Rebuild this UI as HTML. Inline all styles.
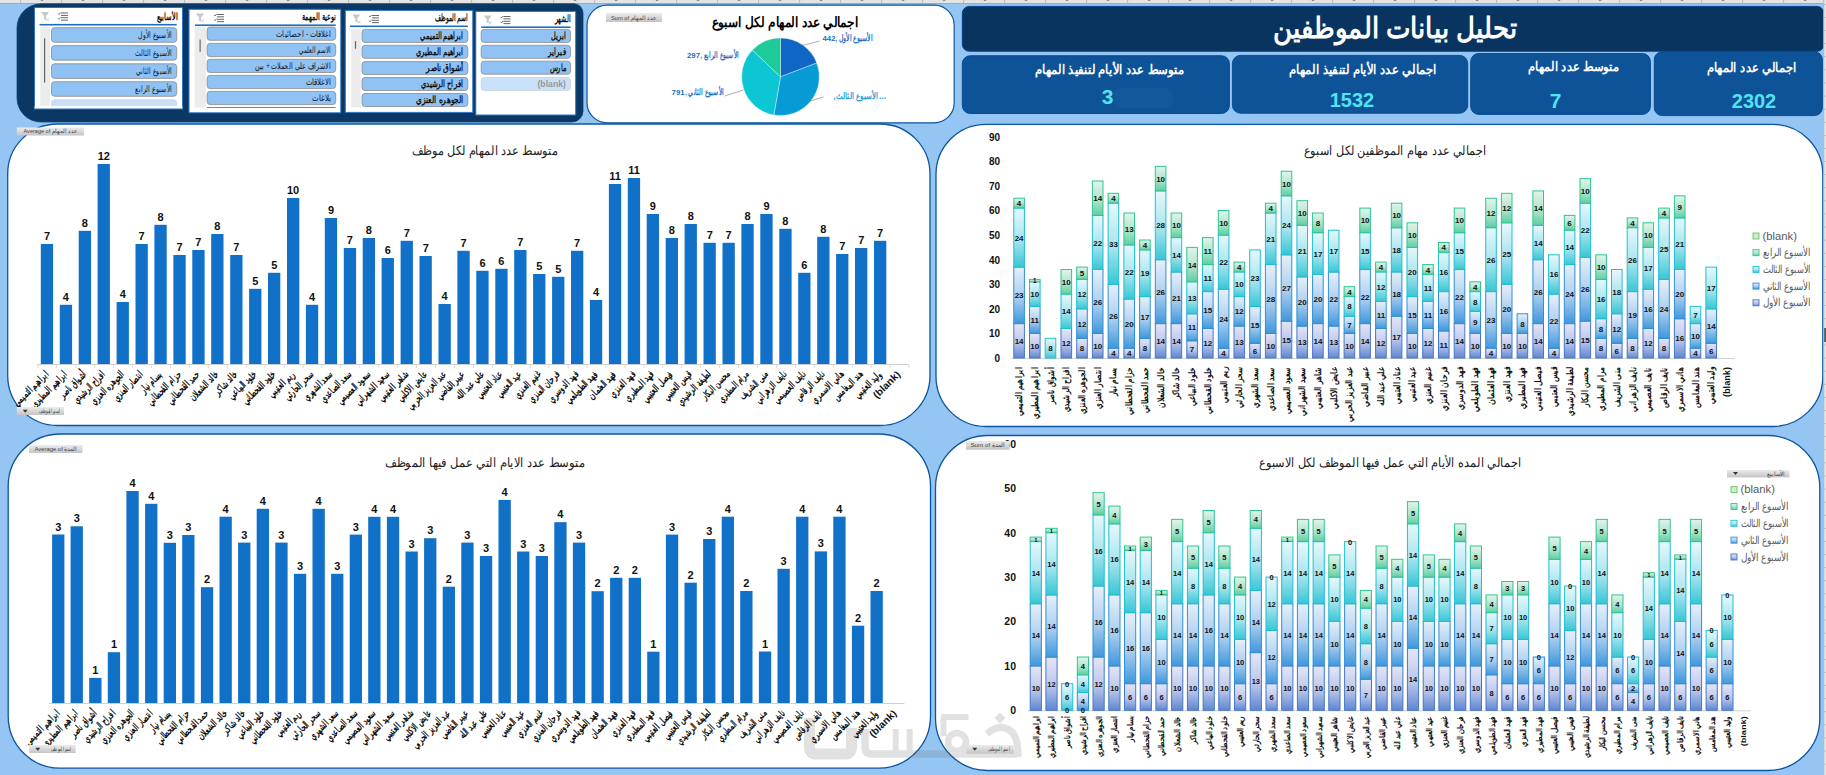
<!DOCTYPE html><html><head><meta charset="utf-8"><style>html,body{margin:0;padding:0;background:#95c5f2;overflow:hidden;width:1826px;height:775px} svg{display:block} text{font-family:"Liberation Sans",sans-serif}</style></head><body>
<svg width="1826" height="775" viewBox="0 0 1826 775">
<defs>
<linearGradient id="g1" x1="0" y1="0" x2="0" y2="1"><stop offset="0" stop-color="#e4e6f7"/><stop offset="0.55" stop-color="#b9c6ec"/><stop offset="1" stop-color="#5f86d0"/></linearGradient>
<linearGradient id="g2" x1="0" y1="0" x2="0" y2="1"><stop offset="0" stop-color="#e6f0fa"/><stop offset="0.55" stop-color="#a9cdef"/><stop offset="1" stop-color="#3f97dc"/></linearGradient>
<linearGradient id="g3" x1="0" y1="0" x2="0" y2="1"><stop offset="0" stop-color="#e6f8fb"/><stop offset="0.55" stop-color="#a6e4ee"/><stop offset="1" stop-color="#38c6d6"/></linearGradient>
<linearGradient id="g4" x1="0" y1="0" x2="0" y2="1"><stop offset="0" stop-color="#e0f5ea"/><stop offset="0.55" stop-color="#afe5cb"/><stop offset="1" stop-color="#5ccfa2"/></linearGradient>
<linearGradient id="btn" x1="0" y1="0" x2="0" y2="1"><stop offset="0" stop-color="#ececec"/><stop offset="1" stop-color="#c4c4c4"/></linearGradient>
</defs>
<rect x="0" y="0" width="1826" height="775" fill="#95c5f2"/>
<rect x="0" y="0" width="1826" height="3.5" fill="#e4e4e4"/><rect x="0" y="3" width="1826" height="1" fill="#a8a8a8"/>
<rect x="20.3" y="0" width="0.8" height="3.5" fill="#b0b0b0"/>
<rect x="40.8" y="0" width="2.5" height="1" fill="#555" opacity="0.6"/>
<rect x="61.3" y="0" width="0.8" height="3.5" fill="#b0b0b0"/>
<rect x="81.8" y="0" width="2.5" height="1" fill="#555" opacity="0.6"/>
<rect x="102.3" y="0" width="0.8" height="3.5" fill="#b0b0b0"/>
<rect x="122.8" y="0" width="2.5" height="1" fill="#555" opacity="0.6"/>
<rect x="143.3" y="0" width="0.8" height="3.5" fill="#b0b0b0"/>
<rect x="163.8" y="0" width="2.5" height="1" fill="#555" opacity="0.6"/>
<rect x="184.3" y="0" width="0.8" height="3.5" fill="#b0b0b0"/>
<rect x="204.8" y="0" width="2.5" height="1" fill="#555" opacity="0.6"/>
<rect x="225.3" y="0" width="0.8" height="3.5" fill="#b0b0b0"/>
<rect x="245.8" y="0" width="2.5" height="1" fill="#555" opacity="0.6"/>
<rect x="266.3" y="0" width="0.8" height="3.5" fill="#b0b0b0"/>
<rect x="286.8" y="0" width="2.5" height="1" fill="#555" opacity="0.6"/>
<rect x="307.3" y="0" width="0.8" height="3.5" fill="#b0b0b0"/>
<rect x="327.8" y="0" width="2.5" height="1" fill="#555" opacity="0.6"/>
<rect x="348.3" y="0" width="0.8" height="3.5" fill="#b0b0b0"/>
<rect x="368.8" y="0" width="2.5" height="1" fill="#555" opacity="0.6"/>
<rect x="389.3" y="0" width="0.8" height="3.5" fill="#b0b0b0"/>
<rect x="409.8" y="0" width="2.5" height="1" fill="#555" opacity="0.6"/>
<rect x="430.3" y="0" width="0.8" height="3.5" fill="#b0b0b0"/>
<rect x="450.8" y="0" width="2.5" height="1" fill="#555" opacity="0.6"/>
<rect x="471.3" y="0" width="0.8" height="3.5" fill="#b0b0b0"/>
<rect x="491.8" y="0" width="2.5" height="1" fill="#555" opacity="0.6"/>
<rect x="512.3" y="0" width="0.8" height="3.5" fill="#b0b0b0"/>
<rect x="532.8" y="0" width="2.5" height="1" fill="#555" opacity="0.6"/>
<rect x="553.3" y="0" width="0.8" height="3.5" fill="#b0b0b0"/>
<rect x="573.8" y="0" width="2.5" height="1" fill="#555" opacity="0.6"/>
<rect x="594.3" y="0" width="0.8" height="3.5" fill="#b0b0b0"/>
<rect x="614.8" y="0" width="2.5" height="1" fill="#555" opacity="0.6"/>
<rect x="635.3" y="0" width="0.8" height="3.5" fill="#b0b0b0"/>
<rect x="655.8" y="0" width="2.5" height="1" fill="#555" opacity="0.6"/>
<rect x="676.3" y="0" width="0.8" height="3.5" fill="#b0b0b0"/>
<rect x="696.8" y="0" width="2.5" height="1" fill="#555" opacity="0.6"/>
<rect x="717.3" y="0" width="0.8" height="3.5" fill="#b0b0b0"/>
<rect x="737.8" y="0" width="2.5" height="1" fill="#555" opacity="0.6"/>
<rect x="758.3" y="0" width="0.8" height="3.5" fill="#b0b0b0"/>
<rect x="778.8" y="0" width="2.5" height="1" fill="#555" opacity="0.6"/>
<rect x="799.3" y="0" width="0.8" height="3.5" fill="#b0b0b0"/>
<rect x="819.8" y="0" width="2.5" height="1" fill="#555" opacity="0.6"/>
<rect x="840.3" y="0" width="0.8" height="3.5" fill="#b0b0b0"/>
<rect x="860.8" y="0" width="2.5" height="1" fill="#555" opacity="0.6"/>
<rect x="881.3" y="0" width="0.8" height="3.5" fill="#b0b0b0"/>
<rect x="901.8" y="0" width="2.5" height="1" fill="#555" opacity="0.6"/>
<rect x="922.3" y="0" width="0.8" height="3.5" fill="#b0b0b0"/>
<rect x="942.8" y="0" width="2.5" height="1" fill="#555" opacity="0.6"/>
<rect x="963.3" y="0" width="0.8" height="3.5" fill="#b0b0b0"/>
<rect x="983.8" y="0" width="2.5" height="1" fill="#555" opacity="0.6"/>
<rect x="1004.3" y="0" width="0.8" height="3.5" fill="#b0b0b0"/>
<rect x="1024.8" y="0" width="2.5" height="1" fill="#555" opacity="0.6"/>
<rect x="1045.3" y="0" width="0.8" height="3.5" fill="#b0b0b0"/>
<rect x="1065.8" y="0" width="2.5" height="1" fill="#555" opacity="0.6"/>
<rect x="1086.3" y="0" width="0.8" height="3.5" fill="#b0b0b0"/>
<rect x="1106.8" y="0" width="2.5" height="1" fill="#555" opacity="0.6"/>
<rect x="1127.3" y="0" width="0.8" height="3.5" fill="#b0b0b0"/>
<rect x="1147.8" y="0" width="2.5" height="1" fill="#555" opacity="0.6"/>
<rect x="1168.3" y="0" width="0.8" height="3.5" fill="#b0b0b0"/>
<rect x="1188.8" y="0" width="2.5" height="1" fill="#555" opacity="0.6"/>
<rect x="1209.3" y="0" width="0.8" height="3.5" fill="#b0b0b0"/>
<rect x="1229.8" y="0" width="2.5" height="1" fill="#555" opacity="0.6"/>
<rect x="1250.3" y="0" width="0.8" height="3.5" fill="#b0b0b0"/>
<rect x="1270.8" y="0" width="2.5" height="1" fill="#555" opacity="0.6"/>
<rect x="1291.3" y="0" width="0.8" height="3.5" fill="#b0b0b0"/>
<rect x="1311.8" y="0" width="2.5" height="1" fill="#555" opacity="0.6"/>
<rect x="1332.3" y="0" width="0.8" height="3.5" fill="#b0b0b0"/>
<rect x="1352.8" y="0" width="2.5" height="1" fill="#555" opacity="0.6"/>
<rect x="1373.3" y="0" width="0.8" height="3.5" fill="#b0b0b0"/>
<rect x="1393.8" y="0" width="2.5" height="1" fill="#555" opacity="0.6"/>
<rect x="1414.3" y="0" width="0.8" height="3.5" fill="#b0b0b0"/>
<rect x="1434.8" y="0" width="2.5" height="1" fill="#555" opacity="0.6"/>
<rect x="1455.3" y="0" width="0.8" height="3.5" fill="#b0b0b0"/>
<rect x="1475.8" y="0" width="2.5" height="1" fill="#555" opacity="0.6"/>
<rect x="1496.3" y="0" width="0.8" height="3.5" fill="#b0b0b0"/>
<rect x="1516.8" y="0" width="2.5" height="1" fill="#555" opacity="0.6"/>
<rect x="1537.3" y="0" width="0.8" height="3.5" fill="#b0b0b0"/>
<rect x="1557.8" y="0" width="2.5" height="1" fill="#555" opacity="0.6"/>
<rect x="1578.3" y="0" width="0.8" height="3.5" fill="#b0b0b0"/>
<rect x="1598.8" y="0" width="2.5" height="1" fill="#555" opacity="0.6"/>
<rect x="1619.3" y="0" width="0.8" height="3.5" fill="#b0b0b0"/>
<rect x="1639.8" y="0" width="2.5" height="1" fill="#555" opacity="0.6"/>
<rect x="1660.3" y="0" width="0.8" height="3.5" fill="#b0b0b0"/>
<rect x="1680.8" y="0" width="2.5" height="1" fill="#555" opacity="0.6"/>
<rect x="1701.3" y="0" width="0.8" height="3.5" fill="#b0b0b0"/>
<rect x="1721.8" y="0" width="2.5" height="1" fill="#555" opacity="0.6"/>
<rect x="1742.3" y="0" width="0.8" height="3.5" fill="#b0b0b0"/>
<rect x="1762.8" y="0" width="2.5" height="1" fill="#555" opacity="0.6"/>
<rect x="1783.3" y="0" width="0.8" height="3.5" fill="#b0b0b0"/>
<rect x="1803.8" y="0" width="2.5" height="1" fill="#555" opacity="0.6"/>
<rect x="1824.3" y="0" width="0.8" height="3.5" fill="#b0b0b0"/>
<rect x="1844.8" y="0" width="2.5" height="1" fill="#555" opacity="0.6"/>
<path d="M41,3.8 L574,3.8 A9,9 0 0 1 583,12.8 L583,111 A11,11 0 0 1 572,122 L41,122 A24,24 0 0 1 17,98 L17,27.8 A24,24 0 0 1 41,3.8 Z" fill="#0a3764" stroke="#0c4580" stroke-width="0.8"/>
<clipPath id="cl1"><rect x="34" y="7" width="150" height="99"/></clipPath>
<g clip-path="url(#cl1)">
<rect x="34.5" y="7.5" width="148.0" height="101.5" fill="#fff" stroke="#2f74c0" stroke-width="1"/>
<text x="177.7" y="19.5" font-size="10" fill="#111" text-anchor="end" font-weight="bold" textLength="20.5" lengthAdjust="spacingAndGlyphs" >الأسابيع</text>
<rect x="39.5" y="23.9" width="137.2" height="1.6" fill="#1e6fc2"/>
<path d="M41,12 h8 l-3,4 v4 l-2,-1 v-3 z" fill="#c8c8c8"/>
<path d="M46,18 l3,3 M49,18 l-3,3" stroke="#c8c8c8" stroke-width="0.8"/>
<rect x="61" y="12.5" width="7" height="0.9" fill="#555"/>
<rect x="61" y="14.9" width="7" height="0.9" fill="#555"/>
<rect x="61" y="17.3" width="7" height="0.9" fill="#555"/>
<rect x="61" y="19.7" width="7" height="0.9" fill="#555"/>
<path d="M58,13.5 l1,1 l1.5,-2 M58,18.3 l1,1 l1.5,-2" stroke="#444" stroke-width="0.7" fill="none"/>
<rect x="40.3" y="26.8" width="9.700000000000003" height="79.2" fill="#ececec"/>
<rect x="44.0" y="38.3" width="1.2" height="44.3" fill="#666"/>
<rect x="51.5" y="27.7" width="125.19999999999999" height="14.6" rx="3" fill="#90c3f3" stroke="#8a8a8a" stroke-width="0.8"/>
<text x="172.2" y="38.2" font-size="9" fill="#111" text-anchor="end" font-weight="normal" textLength="34" lengthAdjust="spacingAndGlyphs" >الأسبوع الأول</text>
<rect x="51.5" y="45.6" width="125.19999999999999" height="14.6" rx="3" fill="#90c3f3" stroke="#8a8a8a" stroke-width="0.8"/>
<text x="172.2" y="56.1" font-size="9" fill="#111" text-anchor="end" font-weight="normal" textLength="37" lengthAdjust="spacingAndGlyphs" >الأسبوع الثالث</text>
<rect x="51.5" y="63.8" width="125.19999999999999" height="14.6" rx="3" fill="#90c3f3" stroke="#8a8a8a" stroke-width="0.8"/>
<text x="172.2" y="74.3" font-size="9" fill="#111" text-anchor="end" font-weight="normal" textLength="36" lengthAdjust="spacingAndGlyphs" >الأسبوع الثاني</text>
<rect x="51.5" y="81.7" width="125.19999999999999" height="14.6" rx="3" fill="#90c3f3" stroke="#8a8a8a" stroke-width="0.8"/>
<text x="172.2" y="92.2" font-size="9" fill="#111" text-anchor="end" font-weight="normal" textLength="37" lengthAdjust="spacingAndGlyphs" >الأسبوع الرابع</text>
<rect x="51.5" y="99.8" width="125.19999999999999" height="14.6" rx="3" fill="#c9e1f8" stroke="#c8d4e0" stroke-width="0.8"/>
</g>
<rect x="34.5" y="106" width="148" height="3" fill="#fff"/><rect x="34" y="108.5" width="149" height="1" fill="#2f74c0"/>
<rect x="189" y="9.3" width="151.8" height="103.5" fill="#fff" stroke="#2f74c0" stroke-width="1"/>
<text x="336.0" y="19.8" font-size="10" fill="#111" text-anchor="end" font-weight="bold" textLength="34" lengthAdjust="spacingAndGlyphs" >نوعية المهمة</text>
<rect x="195.1" y="24.4" width="140.6" height="1.6" fill="#1e6fc2"/>
<path d="M196,13.5 h8 l-3,4 v4 l-2,-1 v-3 z" fill="#c8c8c8"/>
<path d="M201,19.5 l3,3 M204,19.5 l-3,3" stroke="#c8c8c8" stroke-width="0.8"/>
<rect x="217" y="14.0" width="7" height="0.9" fill="#555"/>
<rect x="217" y="16.4" width="7" height="0.9" fill="#555"/>
<rect x="217" y="18.8" width="7" height="0.9" fill="#555"/>
<rect x="217" y="21.2" width="7" height="0.9" fill="#555"/>
<path d="M214,15.0 l1,1 l1.5,-2 M214,19.8 l1,1 l1.5,-2" stroke="#444" stroke-width="0.7" fill="none"/>
<rect x="194.7" y="27.1" width="11.300000000000011" height="80.5" fill="#ececec"/>
<rect x="199.5" y="39.5" width="1.2" height="12.399999999999999" fill="#666"/>
<rect x="207.1" y="27.1" width="128.6" height="13.2" rx="3" fill="#90c3f3" stroke="#8a8a8a" stroke-width="0.8"/>
<text x="331.2" y="36.9" font-size="8.5" fill="#111" text-anchor="end" font-weight="normal" textLength="55" lengthAdjust="spacingAndGlyphs" >اغلاقات - احصائيات</text>
<rect x="207.1" y="43.4" width="128.6" height="13.2" rx="3" fill="#90c3f3" stroke="#8a8a8a" stroke-width="0.8"/>
<text x="331.2" y="53.2" font-size="8.5" fill="#111" text-anchor="end" font-weight="normal" textLength="32" lengthAdjust="spacingAndGlyphs" >الاسم العلمي</text>
<rect x="207.1" y="59.3" width="128.6" height="13.2" rx="3" fill="#90c3f3" stroke="#8a8a8a" stroke-width="0.8"/>
<text x="331.2" y="69.1" font-size="8.5" fill="#111" text-anchor="end" font-weight="normal" textLength="76" lengthAdjust="spacingAndGlyphs" >الاشراف على الحملات + بين</text>
<rect x="207.1" y="75.4" width="128.6" height="13.2" rx="3" fill="#90c3f3" stroke="#8a8a8a" stroke-width="0.8"/>
<text x="331.2" y="85.2" font-size="8.5" fill="#111" text-anchor="end" font-weight="normal" textLength="25.7" lengthAdjust="spacingAndGlyphs" >الاغلاقات</text>
<rect x="207.1" y="91.4" width="128.6" height="13.2" rx="3" fill="#90c3f3" stroke="#8a8a8a" stroke-width="0.8"/>
<text x="331.2" y="101.2" font-size="8.5" fill="#111" text-anchor="end" font-weight="normal" textLength="19" lengthAdjust="spacingAndGlyphs" >بلاغات</text>
<rect x="207" y="107" width="128.7" height="0.9" fill="#777"/>
<rect x="345.3" y="10.4" width="127.5" height="102.0" fill="#fff" stroke="#2f74c0" stroke-width="1"/>
<text x="468.0" y="21.1" font-size="10" fill="#111" text-anchor="end" font-weight="bold" textLength="33" lengthAdjust="spacingAndGlyphs" >اسم الموظف</text>
<rect x="350" y="25.5" width="117.80000000000001" height="1.6" fill="#1e6fc2"/>
<path d="M352.3,14.5 h8 l-3,4 v4 l-2,-1 v-3 z" fill="#c8c8c8"/>
<path d="M357.3,20.5 l3,3 M360.3,20.5 l-3,3" stroke="#c8c8c8" stroke-width="0.8"/>
<rect x="372" y="15.0" width="7" height="0.9" fill="#555"/>
<rect x="372" y="17.4" width="7" height="0.9" fill="#555"/>
<rect x="372" y="19.8" width="7" height="0.9" fill="#555"/>
<rect x="372" y="22.2" width="7" height="0.9" fill="#555"/>
<path d="M369,16.0 l1,1 l1.5,-2 M369,20.8 l1,1 l1.5,-2" stroke="#444" stroke-width="0.7" fill="none"/>
<rect x="351.2" y="29.4" width="9.5" height="78.0" fill="#ececec"/>
<rect x="354.9" y="41" width="1.2" height="7.700000000000003" fill="#666"/>
<rect x="362" y="29.4" width="105.80000000000001" height="13" rx="3" fill="#90c3f3" stroke="#8a8a8a" stroke-width="0.8"/>
<text x="463.3" y="39.1" font-size="9.5" fill="#111" text-anchor="end" font-weight="bold" textLength="43" lengthAdjust="spacingAndGlyphs" >ابراهيم التميمي</text>
<rect x="362" y="45.3" width="105.80000000000001" height="13" rx="3" fill="#90c3f3" stroke="#8a8a8a" stroke-width="0.8"/>
<text x="463.3" y="55.0" font-size="9.5" fill="#111" text-anchor="end" font-weight="bold" textLength="47.7" lengthAdjust="spacingAndGlyphs" >ابراهيم المطيري</text>
<rect x="362" y="61.6" width="105.80000000000001" height="13" rx="3" fill="#90c3f3" stroke="#8a8a8a" stroke-width="0.8"/>
<text x="463.3" y="71.3" font-size="9.5" fill="#111" text-anchor="end" font-weight="bold" textLength="37" lengthAdjust="spacingAndGlyphs" >أشواق ناصر</text>
<rect x="362" y="77.5" width="105.80000000000001" height="13" rx="3" fill="#90c3f3" stroke="#8a8a8a" stroke-width="0.8"/>
<text x="463.3" y="87.2" font-size="9.5" fill="#111" text-anchor="end" font-weight="bold" textLength="42.8" lengthAdjust="spacingAndGlyphs" >افراح الرشيدي</text>
<rect x="362" y="93.5" width="105.80000000000001" height="13" rx="3" fill="#90c3f3" stroke="#8a8a8a" stroke-width="0.8"/>
<text x="463.3" y="103.2" font-size="9.5" fill="#111" text-anchor="end" font-weight="bold" textLength="47.7" lengthAdjust="spacingAndGlyphs" >الجوهره العنزي</text>
<rect x="475.8" y="11.4" width="99.90000000000003" height="103.6" fill="#fff" stroke="#2f74c0" stroke-width="1"/>
<text x="570.9" y="22.3" font-size="10" fill="#111" text-anchor="end" font-weight="bold" textLength="16.4" lengthAdjust="spacingAndGlyphs" >الشهر</text>
<rect x="481.2" y="26.4" width="89.30000000000001" height="1.6" fill="#1e6fc2"/>
<path d="M483.7,15.5 h8 l-3,4 v4 l-2,-1 v-3 z" fill="#c8c8c8"/>
<path d="M488.7,21.5 l3,3 M491.7,21.5 l-3,3" stroke="#c8c8c8" stroke-width="0.8"/>
<rect x="503.5" y="16.0" width="7" height="0.9" fill="#555"/>
<rect x="503.5" y="18.4" width="7" height="0.9" fill="#555"/>
<rect x="503.5" y="20.8" width="7" height="0.9" fill="#555"/>
<rect x="503.5" y="23.2" width="7" height="0.9" fill="#555"/>
<path d="M500.5,17.0 l1,1 l1.5,-2 M500.5,21.8 l1,1 l1.5,-2" stroke="#444" stroke-width="0.7" fill="none"/>
<rect x="481.2" y="29.4" width="89.30000000000001" height="13" rx="3" fill="#90c3f3" stroke="#8a8a8a" stroke-width="0.8"/>
<text x="566.0" y="39.1" font-size="9.5" fill="#111" text-anchor="end" font-weight="bold" textLength="15" lengthAdjust="spacingAndGlyphs" >ابريل</text>
<rect x="481.2" y="45.3" width="89.30000000000001" height="13" rx="3" fill="#90c3f3" stroke="#8a8a8a" stroke-width="0.8"/>
<text x="566.0" y="55.0" font-size="9.5" fill="#111" text-anchor="end" font-weight="bold" textLength="18" lengthAdjust="spacingAndGlyphs" >فبراير</text>
<rect x="481.2" y="61.2" width="89.30000000000001" height="13" rx="3" fill="#90c3f3" stroke="#8a8a8a" stroke-width="0.8"/>
<text x="566.0" y="70.9" font-size="9.5" fill="#111" text-anchor="end" font-weight="bold" textLength="16.4" lengthAdjust="spacingAndGlyphs" >مارس</text>
<rect x="481.2" y="77.5" width="89.30000000000001" height="13" rx="3" fill="#c9e1f8" stroke="#c8d4e0" stroke-width="0.8"/>
<text x="566.0" y="87.2" font-size="9.5" fill="#999" text-anchor="end" font-weight="bold" textLength="28.6" lengthAdjust="spacingAndGlyphs" >(blank)</text>
<path d="M607,5.2 L934.2,5.2 A20,20 0 0 1 954.2,25.2 L954.2,102.8 A20,20 0 0 1 934.2,122.8 L607,122.8 A20,20 0 0 1 587,102.8 L587,25.2 A20,20 0 0 1 607,5.2 Z" fill="#fff" stroke="#0d55a0" stroke-width="1.2"/>
<rect x="606" y="13" width="56" height="9" fill="url(#btn)"/>
<text x="634.0" y="20.0" font-size="6" fill="#444" text-anchor="middle" font-weight="normal" textLength="46" lengthAdjust="spacingAndGlyphs" >Sum of عدد المهام</text>
<text x="785.0" y="27.0" font-size="14" fill="#000" text-anchor="middle" font-weight="bold" textLength="147" lengthAdjust="spacingAndGlyphs" >اجمالي عدد المهام لكل اسبوع</text>
<path d="M780.5,76.8 L780.50,38.00 A38.8,38.8 0 0 1 816.75,62.97 Z" fill="#1066c4" stroke="#e8f4fb" stroke-width="0.4"/>
<path d="M780.5,76.8 L816.75,62.97 A38.8,38.8 0 0 1 773.86,115.03 Z" fill="#069bd4" stroke="#e8f4fb" stroke-width="0.4"/>
<path d="M780.5,76.8 L773.86,115.03 A38.8,38.8 0 0 1 752.38,50.07 Z" fill="#0cc6d4" stroke="#e8f4fb" stroke-width="0.4"/>
<path d="M780.5,76.8 L752.38,50.07 A38.8,38.8 0 0 1 780.50,38.00 Z" fill="#1ec99a" stroke="#e8f4fb" stroke-width="0.4"/>
<g stroke="#8a8a8a" stroke-width="0.7" fill="none"><path d="M802.7,45.5 L819.6,41"/><path d="M724.6,96 L743.4,90"/><path d="M810,101 L823.5,97"/></g>
<text x="822.5" y="40.9" font-size="7.8" fill="#1f6cc0" text-anchor="start" font-weight="bold" >442</text>
<text x="854.2" y="40.9" font-size="8.5" fill="#1f6cc0" text-anchor="middle" font-weight="bold" textLength="37.5" lengthAdjust="spacingAndGlyphs" >, الأسبوع الأول</text>
<text x="687.0" y="57.9" font-size="7.8" fill="#1f6cc0" text-anchor="start" font-weight="bold" >297</text>
<text x="719.8" y="57.9" font-size="8.5" fill="#1f6cc0" text-anchor="middle" font-weight="bold" textLength="38.5" lengthAdjust="spacingAndGlyphs" >, الأسبوع الرابع</text>
<text x="671.6" y="94.7" font-size="7.8" fill="#1f6cc0" text-anchor="start" font-weight="bold" >791</text>
<text x="704.5" y="94.7" font-size="8.5" fill="#1f6cc0" text-anchor="middle" font-weight="bold" textLength="38.5" lengthAdjust="spacingAndGlyphs" >, الأسبوع الثاني</text>
<text x="834.5" y="99.3" font-size="8.5" fill="#1f9ad6" text-anchor="middle" font-weight="bold" >,</text>
<text x="857.2" y="99.3" font-size="8.5" fill="#1f9ad6" text-anchor="middle" font-weight="bold" textLength="42.4" lengthAdjust="spacingAndGlyphs" >الأسبوع الثالث</text>
<text x="879.0" y="99.3" font-size="8.5" fill="#1f9ad6" text-anchor="start" font-weight="bold" >...</text>
<path d="M969.3,6.4 L1817,6.4 A7,7 0 0 1 1824,13.4 L1824,44.3 A7,7 0 0 1 1817,51.3 L969.3,51.3 A7,7 0 0 1 962.3,44.3 L962.3,13.4 A7,7 0 0 1 969.3,6.4 Z" fill="#09345f" stroke="#013f82" stroke-width="0.9"/>
<text x="1395.0" y="37.8" font-size="29" fill="#fff" text-anchor="middle" font-weight="bold" textLength="244" lengthAdjust="spacingAndGlyphs" >تحليل بيانات الموظفين</text>
<path d="M970.3,55.699999999999996 L1221.4,55.699999999999996 A8,8 0 0 1 1229.4,63.699999999999996 L1229.4,105.5 A8,8 0 0 1 1221.4,113.5 L970.3,113.5 A8,8 0 0 1 962.3,105.5 L962.3,63.699999999999996 A8,8 0 0 1 970.3,55.699999999999996 Z" fill="#0e5298" stroke="#02468e" stroke-width="0.9"/>
<text x="1109.5" y="73.7" font-size="13" fill="#fff" text-anchor="middle" font-weight="bold" textLength="149" lengthAdjust="spacingAndGlyphs" >متوسط عدد الأيام لتنفيذ المهام</text>
<text x="1107.7" y="103.8" font-size="21" fill="#52e3f1" text-anchor="middle" font-weight="bold" >3</text>
<path d="M1240.3999999999999,55.4 L1459.7,55.4 A8,8 0 0 1 1467.7,63.4 L1467.7,105.2 A8,8 0 0 1 1459.7,113.2 L1240.3999999999999,113.2 A8,8 0 0 1 1232.3999999999999,105.2 L1232.3999999999999,63.4 A8,8 0 0 1 1240.3999999999999,55.4 Z" fill="#0e5298" stroke="#02468e" stroke-width="0.9"/>
<text x="1363.0" y="73.8" font-size="13" fill="#fff" text-anchor="middle" font-weight="bold" textLength="148" lengthAdjust="spacingAndGlyphs" >اجمالي عدد الأيام لتنفيذ المهام</text>
<text x="1351.9" y="106.6" font-size="21" fill="#52e3f1" text-anchor="middle" font-weight="bold" textLength="44.4" lengthAdjust="spacingAndGlyphs" >1532</text>
<path d="M1478.7,53.5 L1642.4,53.5 A8,8 0 0 1 1650.4,61.5 L1650.4,106.4 A8,8 0 0 1 1642.4,114.4 L1478.7,114.4 A8,8 0 0 1 1470.7,106.4 L1470.7,61.5 A8,8 0 0 1 1478.7,53.5 Z" fill="#0e5298" stroke="#02468e" stroke-width="0.9"/>
<text x="1573.6" y="71.4" font-size="13" fill="#fff" text-anchor="middle" font-weight="bold" textLength="91" lengthAdjust="spacingAndGlyphs" >متوسط عدد المهام</text>
<text x="1555.5" y="107.7" font-size="21" fill="#52e3f1" text-anchor="middle" font-weight="bold" >7</text>
<path d="M1662.3,51.699999999999996 L1814.4,51.699999999999996 A8,8 0 0 1 1822.4,59.699999999999996 L1822.4,107.60000000000001 A8,8 0 0 1 1814.4,115.60000000000001 L1662.3,115.60000000000001 A8,8 0 0 1 1654.3,107.60000000000001 L1654.3,59.699999999999996 A8,8 0 0 1 1662.3,51.699999999999996 Z" fill="#0e5298" stroke="#02468e" stroke-width="0.9"/>
<text x="1751.8" y="72.2" font-size="13" fill="#fff" text-anchor="middle" font-weight="bold" textLength="90" lengthAdjust="spacingAndGlyphs" >اجمالي عدد المهام</text>
<text x="1754.0" y="107.8" font-size="21" fill="#52e3f1" text-anchor="middle" font-weight="bold" textLength="44.4" lengthAdjust="spacingAndGlyphs" >2302</text>
<rect x="1113" y="88" width="60" height="20" rx="8" fill="#2a6cb0" opacity="0.22"/>
<path d="M57.7,124 L880,124 A50,50 0 0 1 930,174 L930,375.5 A50,50 0 0 1 880,425.5 L57.7,425.5 A50,50 0 0 1 7.7,375.5 L7.7,174 A50,50 0 0 1 57.7,124 Z" fill="#fff" stroke="#0d55a0" stroke-width="1.3"/>
<path d="M986,124.3 L1772.8,124.3 A50,50 0 0 1 1822.8,174.3 L1822.8,376.5 A50,50 0 0 1 1772.8,426.5 L986,426.5 A50,50 0 0 1 936,376.5 L936,174.3 A50,50 0 0 1 986,124.3 Z" fill="#fff" stroke="#0d55a0" stroke-width="1.3"/>
<path d="M60.2,434 L878.5,434 A52,52 0 0 1 930.5,486 L930.5,716.2 A52,52 0 0 1 878.5,768.2 L60.2,768.2 A52,52 0 0 1 8.2,716.2 L8.2,486 A52,52 0 0 1 60.2,434 Z" fill="#fff" stroke="#0d55a0" stroke-width="1.3"/>
<path d="M987.5,435.5 L1767.8,435.5 A52,52 0 0 1 1819.8,487.5 L1819.8,718.5 A52,52 0 0 1 1767.8,770.5 L987.5,770.5 A52,52 0 0 1 935.5,718.5 L935.5,487.5 A52,52 0 0 1 987.5,435.5 Z" fill="#fff" stroke="#0d55a0" stroke-width="1.3"/>
<g opacity="0.2" stroke="#6e6e6e" fill="none" stroke-linecap="butt" stroke-linejoin="round"><path d="M809.5,718 V747 Q809.5,754 816.5,754 H845 Q851.5,754 851.5,747 V728" stroke-width="11"/><path d="M865,729 V747 Q865,754 872,754 H1017" stroke-width="7.5"/><path d="M895.7,729 V754 M909.7,729 V754" stroke-width="6"/><path d="M968.5,717 H943.5 V736" stroke-width="6"/><circle cx="957" cy="742" r="9" stroke-width="6.5"/><path d="M987,734 Q1000,722 1012,732 Q1018.5,739 1018,757" stroke-width="7"/><path d="M1000,712.5 L1005.5,718 L1000,723.5 L994.5,718 Z" fill="#6e6e6e" stroke="none"/></g>
<text x="485.0" y="155.0" font-size="13" fill="#222" text-anchor="middle" font-weight="normal" textLength="146" lengthAdjust="spacingAndGlyphs" >متوسط عدد المهام لكل موظف</text>
<rect x="16.8" y="127.5" width="67.2" height="8.0" fill="url(#btn)"/>
<text x="50.4" y="133.2" font-size="6" fill="#444" text-anchor="middle" font-weight="normal" textLength="53.760000000000005" lengthAdjust="spacingAndGlyphs" >Average of عدد المهام</text>
<rect x="37.5" y="364" width="871.0" height="1" fill="#d0d0d0"/>
<rect x="37.5" y="364" width="0.8" height="4" fill="#d0d0d0"/>
<rect x="56.4" y="364" width="0.8" height="4" fill="#d0d0d0"/>
<rect x="75.4" y="364" width="0.8" height="4" fill="#d0d0d0"/>
<rect x="94.3" y="364" width="0.8" height="4" fill="#d0d0d0"/>
<rect x="113.2" y="364" width="0.8" height="4" fill="#d0d0d0"/>
<rect x="132.2" y="364" width="0.8" height="4" fill="#d0d0d0"/>
<rect x="151.1" y="364" width="0.8" height="4" fill="#d0d0d0"/>
<rect x="170.0" y="364" width="0.8" height="4" fill="#d0d0d0"/>
<rect x="189.0" y="364" width="0.8" height="4" fill="#d0d0d0"/>
<rect x="207.9" y="364" width="0.8" height="4" fill="#d0d0d0"/>
<rect x="226.8" y="364" width="0.8" height="4" fill="#d0d0d0"/>
<rect x="245.8" y="364" width="0.8" height="4" fill="#d0d0d0"/>
<rect x="264.7" y="364" width="0.8" height="4" fill="#d0d0d0"/>
<rect x="283.7" y="364" width="0.8" height="4" fill="#d0d0d0"/>
<rect x="302.6" y="364" width="0.8" height="4" fill="#d0d0d0"/>
<rect x="321.5" y="364" width="0.8" height="4" fill="#d0d0d0"/>
<rect x="340.5" y="364" width="0.8" height="4" fill="#d0d0d0"/>
<rect x="359.4" y="364" width="0.8" height="4" fill="#d0d0d0"/>
<rect x="378.3" y="364" width="0.8" height="4" fill="#d0d0d0"/>
<rect x="397.3" y="364" width="0.8" height="4" fill="#d0d0d0"/>
<rect x="416.2" y="364" width="0.8" height="4" fill="#d0d0d0"/>
<rect x="435.1" y="364" width="0.8" height="4" fill="#d0d0d0"/>
<rect x="454.1" y="364" width="0.8" height="4" fill="#d0d0d0"/>
<rect x="473.0" y="364" width="0.8" height="4" fill="#d0d0d0"/>
<rect x="491.9" y="364" width="0.8" height="4" fill="#d0d0d0"/>
<rect x="510.9" y="364" width="0.8" height="4" fill="#d0d0d0"/>
<rect x="529.8" y="364" width="0.8" height="4" fill="#d0d0d0"/>
<rect x="548.7" y="364" width="0.8" height="4" fill="#d0d0d0"/>
<rect x="567.7" y="364" width="0.8" height="4" fill="#d0d0d0"/>
<rect x="586.6" y="364" width="0.8" height="4" fill="#d0d0d0"/>
<rect x="605.5" y="364" width="0.8" height="4" fill="#d0d0d0"/>
<rect x="624.5" y="364" width="0.8" height="4" fill="#d0d0d0"/>
<rect x="643.4" y="364" width="0.8" height="4" fill="#d0d0d0"/>
<rect x="662.4" y="364" width="0.8" height="4" fill="#d0d0d0"/>
<rect x="681.3" y="364" width="0.8" height="4" fill="#d0d0d0"/>
<rect x="700.2" y="364" width="0.8" height="4" fill="#d0d0d0"/>
<rect x="719.2" y="364" width="0.8" height="4" fill="#d0d0d0"/>
<rect x="738.1" y="364" width="0.8" height="4" fill="#d0d0d0"/>
<rect x="757.0" y="364" width="0.8" height="4" fill="#d0d0d0"/>
<rect x="776.0" y="364" width="0.8" height="4" fill="#d0d0d0"/>
<rect x="794.9" y="364" width="0.8" height="4" fill="#d0d0d0"/>
<rect x="813.8" y="364" width="0.8" height="4" fill="#d0d0d0"/>
<rect x="832.8" y="364" width="0.8" height="4" fill="#d0d0d0"/>
<rect x="851.7" y="364" width="0.8" height="4" fill="#d0d0d0"/>
<rect x="870.6" y="364" width="0.8" height="4" fill="#d0d0d0"/>
<rect x="889.6" y="364" width="0.8" height="4" fill="#d0d0d0"/>
<rect x="908.5" y="364" width="0.8" height="4" fill="#d0d0d0"/>
<rect x="40.8" y="244" width="12.3" height="120.0" fill="#1170c8"/>
<text x="47.0" y="240.0" font-size="11" fill="#111" text-anchor="middle" font-weight="bold" >7</text>
<rect x="59.8" y="304.8" width="12.3" height="59.2" fill="#1170c8"/>
<text x="65.9" y="300.8" font-size="11" fill="#111" text-anchor="middle" font-weight="bold" >4</text>
<rect x="78.7" y="230.8" width="12.3" height="133.2" fill="#1170c8"/>
<text x="84.8" y="226.8" font-size="11" fill="#111" text-anchor="middle" font-weight="bold" >8</text>
<rect x="97.6" y="164" width="12.3" height="200.0" fill="#1170c8"/>
<text x="103.8" y="160.0" font-size="11" fill="#111" text-anchor="middle" font-weight="bold" >12</text>
<rect x="116.6" y="302" width="12.3" height="62.0" fill="#1170c8"/>
<text x="122.7" y="298.0" font-size="11" fill="#111" text-anchor="middle" font-weight="bold" >4</text>
<rect x="135.5" y="244" width="12.3" height="120.0" fill="#1170c8"/>
<text x="141.6" y="240.0" font-size="11" fill="#111" text-anchor="middle" font-weight="bold" >7</text>
<rect x="154.4" y="224.8" width="12.3" height="139.2" fill="#1170c8"/>
<text x="160.6" y="220.8" font-size="11" fill="#111" text-anchor="middle" font-weight="bold" >8</text>
<rect x="173.4" y="255" width="12.3" height="109.0" fill="#1170c8"/>
<text x="179.5" y="251.0" font-size="11" fill="#111" text-anchor="middle" font-weight="bold" >7</text>
<rect x="192.3" y="250" width="12.3" height="114.0" fill="#1170c8"/>
<text x="198.4" y="246.0" font-size="11" fill="#111" text-anchor="middle" font-weight="bold" >7</text>
<rect x="211.2" y="234" width="12.3" height="130.0" fill="#1170c8"/>
<text x="217.4" y="230.0" font-size="11" fill="#111" text-anchor="middle" font-weight="bold" >8</text>
<rect x="230.2" y="255" width="12.3" height="109.0" fill="#1170c8"/>
<text x="236.3" y="251.0" font-size="11" fill="#111" text-anchor="middle" font-weight="bold" >7</text>
<rect x="249.1" y="288.8" width="12.3" height="75.2" fill="#1170c8"/>
<text x="255.3" y="284.8" font-size="11" fill="#111" text-anchor="middle" font-weight="bold" >5</text>
<rect x="268.0" y="272.8" width="12.3" height="91.2" fill="#1170c8"/>
<text x="274.2" y="268.8" font-size="11" fill="#111" text-anchor="middle" font-weight="bold" >5</text>
<rect x="287.0" y="198" width="12.3" height="166.0" fill="#1170c8"/>
<text x="293.1" y="194.0" font-size="11" fill="#111" text-anchor="middle" font-weight="bold" >10</text>
<rect x="305.9" y="304.8" width="12.3" height="59.2" fill="#1170c8"/>
<text x="312.1" y="300.8" font-size="11" fill="#111" text-anchor="middle" font-weight="bold" >4</text>
<rect x="324.8" y="218" width="12.3" height="146.0" fill="#1170c8"/>
<text x="331.0" y="214.0" font-size="11" fill="#111" text-anchor="middle" font-weight="bold" >9</text>
<rect x="343.8" y="248" width="12.3" height="116.0" fill="#1170c8"/>
<text x="349.9" y="244.0" font-size="11" fill="#111" text-anchor="middle" font-weight="bold" >7</text>
<rect x="362.7" y="238" width="12.3" height="126.0" fill="#1170c8"/>
<text x="368.9" y="234.0" font-size="11" fill="#111" text-anchor="middle" font-weight="bold" >8</text>
<rect x="381.6" y="258" width="12.3" height="106.0" fill="#1170c8"/>
<text x="387.8" y="254.0" font-size="11" fill="#111" text-anchor="middle" font-weight="bold" >6</text>
<rect x="400.6" y="240.8" width="12.3" height="123.2" fill="#1170c8"/>
<text x="406.7" y="236.8" font-size="11" fill="#111" text-anchor="middle" font-weight="bold" >7</text>
<rect x="419.5" y="256" width="12.3" height="108.0" fill="#1170c8"/>
<text x="425.7" y="252.0" font-size="11" fill="#111" text-anchor="middle" font-weight="bold" >7</text>
<rect x="438.5" y="304" width="12.3" height="60.0" fill="#1170c8"/>
<text x="444.6" y="300.0" font-size="11" fill="#111" text-anchor="middle" font-weight="bold" >4</text>
<rect x="457.4" y="250.8" width="12.3" height="113.2" fill="#1170c8"/>
<text x="463.5" y="246.8" font-size="11" fill="#111" text-anchor="middle" font-weight="bold" >7</text>
<rect x="476.3" y="270.8" width="12.3" height="93.2" fill="#1170c8"/>
<text x="482.5" y="266.8" font-size="11" fill="#111" text-anchor="middle" font-weight="bold" >6</text>
<rect x="495.3" y="268.8" width="12.3" height="95.2" fill="#1170c8"/>
<text x="501.4" y="264.8" font-size="11" fill="#111" text-anchor="middle" font-weight="bold" >6</text>
<rect x="514.2" y="250" width="12.3" height="114.0" fill="#1170c8"/>
<text x="520.3" y="246.0" font-size="11" fill="#111" text-anchor="middle" font-weight="bold" >7</text>
<rect x="533.1" y="274" width="12.3" height="90.0" fill="#1170c8"/>
<text x="539.3" y="270.0" font-size="11" fill="#111" text-anchor="middle" font-weight="bold" >5</text>
<rect x="552.1" y="276.8" width="12.3" height="87.2" fill="#1170c8"/>
<text x="558.2" y="272.8" font-size="11" fill="#111" text-anchor="middle" font-weight="bold" >5</text>
<rect x="571.0" y="250.8" width="12.3" height="113.2" fill="#1170c8"/>
<text x="577.1" y="246.8" font-size="11" fill="#111" text-anchor="middle" font-weight="bold" >7</text>
<rect x="589.9" y="300" width="12.3" height="64.0" fill="#1170c8"/>
<text x="596.1" y="296.0" font-size="11" fill="#111" text-anchor="middle" font-weight="bold" >4</text>
<rect x="608.9" y="184" width="12.3" height="180.0" fill="#1170c8"/>
<text x="615.0" y="180.0" font-size="11" fill="#111" text-anchor="middle" font-weight="bold" >11</text>
<rect x="627.8" y="178" width="12.3" height="186.0" fill="#1170c8"/>
<text x="634.0" y="174.0" font-size="11" fill="#111" text-anchor="middle" font-weight="bold" >11</text>
<rect x="646.7" y="214" width="12.3" height="150.0" fill="#1170c8"/>
<text x="652.9" y="210.0" font-size="11" fill="#111" text-anchor="middle" font-weight="bold" >9</text>
<rect x="665.7" y="238" width="12.3" height="126.0" fill="#1170c8"/>
<text x="671.8" y="234.0" font-size="11" fill="#111" text-anchor="middle" font-weight="bold" >8</text>
<rect x="684.6" y="224" width="12.3" height="140.0" fill="#1170c8"/>
<text x="690.8" y="220.0" font-size="11" fill="#111" text-anchor="middle" font-weight="bold" >8</text>
<rect x="703.5" y="242.8" width="12.3" height="121.2" fill="#1170c8"/>
<text x="709.7" y="238.8" font-size="11" fill="#111" text-anchor="middle" font-weight="bold" >7</text>
<rect x="722.5" y="242.8" width="12.3" height="121.2" fill="#1170c8"/>
<text x="728.6" y="238.8" font-size="11" fill="#111" text-anchor="middle" font-weight="bold" >7</text>
<rect x="741.4" y="224" width="12.3" height="140.0" fill="#1170c8"/>
<text x="747.6" y="220.0" font-size="11" fill="#111" text-anchor="middle" font-weight="bold" >8</text>
<rect x="760.3" y="214" width="12.3" height="150.0" fill="#1170c8"/>
<text x="766.5" y="210.0" font-size="11" fill="#111" text-anchor="middle" font-weight="bold" >9</text>
<rect x="779.3" y="228.8" width="12.3" height="135.2" fill="#1170c8"/>
<text x="785.4" y="224.8" font-size="11" fill="#111" text-anchor="middle" font-weight="bold" >8</text>
<rect x="798.2" y="272.8" width="12.3" height="91.2" fill="#1170c8"/>
<text x="804.4" y="268.8" font-size="11" fill="#111" text-anchor="middle" font-weight="bold" >6</text>
<rect x="817.2" y="236.8" width="12.3" height="127.2" fill="#1170c8"/>
<text x="823.3" y="232.8" font-size="11" fill="#111" text-anchor="middle" font-weight="bold" >8</text>
<rect x="836.1" y="254" width="12.3" height="110.0" fill="#1170c8"/>
<text x="842.2" y="250.0" font-size="11" fill="#111" text-anchor="middle" font-weight="bold" >7</text>
<rect x="855.0" y="248" width="12.3" height="116.0" fill="#1170c8"/>
<text x="861.2" y="244.0" font-size="11" fill="#111" text-anchor="middle" font-weight="bold" >7</text>
<rect x="874.0" y="240.8" width="12.3" height="123.2" fill="#1170c8"/>
<text x="880.1" y="236.8" font-size="11" fill="#111" text-anchor="middle" font-weight="bold" >7</text>
<text x="49.0" y="375.0" font-size="10" fill="#111" text-anchor="end" font-weight="bold" textLength="44.7" lengthAdjust="spacingAndGlyphs" transform="rotate(-45 49.0 375)">ابراهيم التميمي</text>
<text x="67.9" y="375.0" font-size="10" fill="#111" text-anchor="end" font-weight="bold" textLength="47.0" lengthAdjust="spacingAndGlyphs" transform="rotate(-45 67.9 375)">ابراهيم المطيري</text>
<text x="86.8" y="375.0" font-size="10" fill="#111" text-anchor="end" font-weight="bold" textLength="33.6" lengthAdjust="spacingAndGlyphs" transform="rotate(-45 86.8 375)">أشواق ناصر</text>
<text x="105.8" y="375.0" font-size="10" fill="#111" text-anchor="end" font-weight="bold" textLength="41.2" lengthAdjust="spacingAndGlyphs" transform="rotate(-45 105.8 375)">افراح الرشيدي</text>
<text x="124.7" y="375.0" font-size="10" fill="#111" text-anchor="end" font-weight="bold" textLength="42.9" lengthAdjust="spacingAndGlyphs" transform="rotate(-45 124.7 375)">الجوهره العنزي</text>
<text x="143.6" y="375.0" font-size="10" fill="#111" text-anchor="end" font-weight="bold" textLength="38.3" lengthAdjust="spacingAndGlyphs" transform="rotate(-45 143.6 375)">انتصار العنزي</text>
<text x="162.6" y="375.0" font-size="10" fill="#111" text-anchor="end" font-weight="bold" textLength="26.7" lengthAdjust="spacingAndGlyphs" transform="rotate(-45 162.6 375)">بسام نيار</text>
<text x="181.5" y="375.0" font-size="10" fill="#111" text-anchor="end" font-weight="bold" textLength="43.5" lengthAdjust="spacingAndGlyphs" transform="rotate(-45 181.5 375)">حزام القحطاني</text>
<text x="200.4" y="375.0" font-size="10" fill="#111" text-anchor="end" font-weight="bold" textLength="41.8" lengthAdjust="spacingAndGlyphs" transform="rotate(-45 200.4 375)">حمد القحطاني</text>
<text x="219.4" y="375.0" font-size="10" fill="#111" text-anchor="end" font-weight="bold" textLength="37.1" lengthAdjust="spacingAndGlyphs" transform="rotate(-45 219.4 375)">خالد الشعلان</text>
<text x="238.3" y="375.0" font-size="10" fill="#111" text-anchor="end" font-weight="bold" textLength="29.0" lengthAdjust="spacingAndGlyphs" transform="rotate(-45 238.3 375)">خالد شاكر</text>
<text x="257.3" y="375.0" font-size="10" fill="#111" text-anchor="end" font-weight="bold" textLength="35.4" lengthAdjust="spacingAndGlyphs" transform="rotate(-45 257.3 375)">خلود البياعي</text>
<text x="276.2" y="375.0" font-size="10" fill="#111" text-anchor="end" font-weight="bold" textLength="42.9" lengthAdjust="spacingAndGlyphs" transform="rotate(-45 276.2 375)">خلود القحطاني</text>
<text x="295.1" y="375.0" font-size="10" fill="#111" text-anchor="end" font-weight="bold" textLength="32.5" lengthAdjust="spacingAndGlyphs" transform="rotate(-45 295.1 375)">ريم العتيبي</text>
<text x="314.1" y="375.0" font-size="10" fill="#111" text-anchor="end" font-weight="bold" textLength="37.1" lengthAdjust="spacingAndGlyphs" transform="rotate(-45 314.1 375)">سحر الحارثي</text>
<text x="333.0" y="375.0" font-size="10" fill="#111" text-anchor="end" font-weight="bold" textLength="37.1" lengthAdjust="spacingAndGlyphs" transform="rotate(-45 333.0 375)">سعد الشهري</text>
<text x="351.9" y="375.0" font-size="10" fill="#111" text-anchor="end" font-weight="bold" textLength="39.4" lengthAdjust="spacingAndGlyphs" transform="rotate(-45 351.9 375)">سعد الصاعدي</text>
<text x="370.9" y="375.0" font-size="10" fill="#111" text-anchor="end" font-weight="bold" textLength="42.9" lengthAdjust="spacingAndGlyphs" transform="rotate(-45 370.9 375)">سعود العصيمي</text>
<text x="389.8" y="375.0" font-size="10" fill="#111" text-anchor="end" font-weight="bold" textLength="44.1" lengthAdjust="spacingAndGlyphs" transform="rotate(-45 389.8 375)">سعيد الشهراني</text>
<text x="408.7" y="375.0" font-size="10" fill="#111" text-anchor="end" font-weight="bold" textLength="37.7" lengthAdjust="spacingAndGlyphs" transform="rotate(-45 408.7 375)">شاهر العتيبي</text>
<text x="427.7" y="375.0" font-size="10" fill="#111" text-anchor="end" font-weight="bold" textLength="38.3" lengthAdjust="spacingAndGlyphs" transform="rotate(-45 427.7 375)">عايض الاكلبي</text>
<text x="446.6" y="375.0" font-size="10" fill="#111" text-anchor="end" font-weight="bold" textLength="49.9" lengthAdjust="spacingAndGlyphs" transform="rotate(-45 446.6 375)">عبد العزيز الحربي</text>
<text x="465.5" y="375.0" font-size="10" fill="#111" text-anchor="end" font-weight="bold" textLength="36.0" lengthAdjust="spacingAndGlyphs" transform="rotate(-45 465.5 375)">عبير القاضي</text>
<text x="484.5" y="375.0" font-size="10" fill="#111" text-anchor="end" font-weight="bold" textLength="35.4" lengthAdjust="spacingAndGlyphs" transform="rotate(-45 484.5 375)">علي عبد الله</text>
<text x="503.4" y="375.0" font-size="10" fill="#111" text-anchor="end" font-weight="bold" textLength="33.6" lengthAdjust="spacingAndGlyphs" transform="rotate(-45 503.4 375)">عناد العتيبي</text>
<text x="522.3" y="375.0" font-size="10" fill="#111" text-anchor="end" font-weight="bold" textLength="31.9" lengthAdjust="spacingAndGlyphs" transform="rotate(-45 522.3 375)">عيد العتيبي</text>
<text x="541.3" y="375.0" font-size="10" fill="#111" text-anchor="end" font-weight="bold" textLength="33.6" lengthAdjust="spacingAndGlyphs" transform="rotate(-45 541.3 375)">غنيم العنزي</text>
<text x="560.2" y="375.0" font-size="10" fill="#111" text-anchor="end" font-weight="bold" textLength="39.4" lengthAdjust="spacingAndGlyphs" transform="rotate(-45 560.2 375)">فرحان العنزي</text>
<text x="579.1" y="375.0" font-size="10" fill="#111" text-anchor="end" font-weight="bold" textLength="38.9" lengthAdjust="spacingAndGlyphs" transform="rotate(-45 579.1 375)">فهد الدوسري</text>
<text x="598.1" y="375.0" font-size="10" fill="#111" text-anchor="end" font-weight="bold" textLength="40.6" lengthAdjust="spacingAndGlyphs" transform="rotate(-45 598.1 375)">فهد الطويلعي</text>
<text x="617.0" y="375.0" font-size="10" fill="#111" text-anchor="end" font-weight="bold" textLength="34.8" lengthAdjust="spacingAndGlyphs" transform="rotate(-45 617.0 375)">فهد العثمان</text>
<text x="636.0" y="375.0" font-size="10" fill="#111" text-anchor="end" font-weight="bold" textLength="31.9" lengthAdjust="spacingAndGlyphs" transform="rotate(-45 636.0 375)">فهد العنزي</text>
<text x="654.9" y="375.0" font-size="10" fill="#111" text-anchor="end" font-weight="bold" textLength="38.3" lengthAdjust="spacingAndGlyphs" transform="rotate(-45 654.9 375)">فهد المطيري</text>
<text x="673.8" y="375.0" font-size="10" fill="#111" text-anchor="end" font-weight="bold" textLength="39.4" lengthAdjust="spacingAndGlyphs" transform="rotate(-45 673.8 375)">فيصل العتيبي</text>
<text x="692.8" y="375.0" font-size="10" fill="#111" text-anchor="end" font-weight="bold" textLength="36.5" lengthAdjust="spacingAndGlyphs" transform="rotate(-45 692.8 375)">قيس العتيبي</text>
<text x="711.7" y="375.0" font-size="10" fill="#111" text-anchor="end" font-weight="bold" textLength="44.1" lengthAdjust="spacingAndGlyphs" transform="rotate(-45 711.7 375)">لطيفة الرشيدي</text>
<text x="730.6" y="375.0" font-size="10" fill="#111" text-anchor="end" font-weight="bold" textLength="36.0" lengthAdjust="spacingAndGlyphs" transform="rotate(-45 730.6 375)">محسن البكار</text>
<text x="749.6" y="375.0" font-size="10" fill="#111" text-anchor="end" font-weight="bold" textLength="39.4" lengthAdjust="spacingAndGlyphs" transform="rotate(-45 749.6 375)">مرام المطيري</text>
<text x="768.5" y="375.0" font-size="10" fill="#111" text-anchor="end" font-weight="bold" textLength="36.0" lengthAdjust="spacingAndGlyphs" transform="rotate(-45 768.5 375)">منى الشريف</text>
<text x="787.4" y="375.0" font-size="10" fill="#111" text-anchor="end" font-weight="bold" textLength="40.6" lengthAdjust="spacingAndGlyphs" transform="rotate(-45 787.4 375)">نايف الزهراني</text>
<text x="806.4" y="375.0" font-size="10" fill="#111" text-anchor="end" font-weight="bold" textLength="41.2" lengthAdjust="spacingAndGlyphs" transform="rotate(-45 806.4 375)">نايف العصيمي</text>
<text x="825.3" y="375.0" font-size="10" fill="#111" text-anchor="end" font-weight="bold" textLength="37.1" lengthAdjust="spacingAndGlyphs" transform="rotate(-45 825.3 375)">نايف الرقاص</text>
<text x="844.2" y="375.0" font-size="10" fill="#111" text-anchor="end" font-weight="bold" textLength="40.6" lengthAdjust="spacingAndGlyphs" transform="rotate(-45 844.2 375)">هاني الاسمري</text>
<text x="863.2" y="375.0" font-size="10" fill="#111" text-anchor="end" font-weight="bold" textLength="37.1" lengthAdjust="spacingAndGlyphs" transform="rotate(-45 863.2 375)">هند المغامس</text>
<text x="882.1" y="375.0" font-size="10" fill="#111" text-anchor="end" font-weight="bold" textLength="33.6" lengthAdjust="spacingAndGlyphs" transform="rotate(-45 882.1 375)">وليد العتيبي</text>
<text x="901.0" y="375.0" font-size="10" fill="#111" text-anchor="end" font-weight="bold" textLength="34.0" lengthAdjust="spacingAndGlyphs" transform="rotate(-45 901.0 375)">(blank)</text>
<rect x="16.8" y="407" width="47.2" height="8" fill="url(#btn)"/>
<path d="M22.8,409.8 h5 l-2.5,3 z" fill="#333"/>
<text x="60.0" y="412.7" font-size="6" fill="#444" text-anchor="end" font-weight="normal" textLength="21.240000000000002" lengthAdjust="spacingAndGlyphs" >اسم الموظف</text>
<text x="485.0" y="467.0" font-size="13" fill="#222" text-anchor="middle" font-weight="normal" textLength="200" lengthAdjust="spacingAndGlyphs" >متوسط عدد الايام التي عمل فيها الموظف</text>
<rect x="29" y="445" width="53.5" height="8" fill="url(#btn)"/>
<text x="55.8" y="450.7" font-size="6" fill="#444" text-anchor="middle" font-weight="normal" textLength="42.800000000000004" lengthAdjust="spacingAndGlyphs" >Average of المدة</text>
<rect x="48.9" y="703" width="855.6" height="1" fill="#d0d0d0"/>
<rect x="52.1" y="534.5" width="12.3" height="168.5" fill="#1170c8"/>
<text x="58.2" y="530.5" font-size="11" fill="#111" text-anchor="middle" font-weight="bold" >3</text>
<rect x="70.6" y="526.3" width="12.3" height="176.7" fill="#1170c8"/>
<text x="76.8" y="522.3" font-size="11" fill="#111" text-anchor="middle" font-weight="bold" >3</text>
<rect x="89.2" y="677.9" width="12.3" height="25.1" fill="#1170c8"/>
<text x="95.4" y="673.9" font-size="11" fill="#111" text-anchor="middle" font-weight="bold" >1</text>
<rect x="107.8" y="652.2" width="12.3" height="50.8" fill="#1170c8"/>
<text x="114.0" y="648.2" font-size="11" fill="#111" text-anchor="middle" font-weight="bold" >1</text>
<rect x="126.4" y="491" width="12.3" height="212.0" fill="#1170c8"/>
<text x="132.6" y="487.0" font-size="11" fill="#111" text-anchor="middle" font-weight="bold" >4</text>
<rect x="145.1" y="503.8" width="12.3" height="199.2" fill="#1170c8"/>
<text x="151.2" y="499.8" font-size="11" fill="#111" text-anchor="middle" font-weight="bold" >4</text>
<rect x="163.7" y="542.8" width="12.3" height="160.2" fill="#1170c8"/>
<text x="169.8" y="538.8" font-size="11" fill="#111" text-anchor="middle" font-weight="bold" >3</text>
<rect x="182.2" y="535" width="12.3" height="168.0" fill="#1170c8"/>
<text x="188.4" y="531.0" font-size="11" fill="#111" text-anchor="middle" font-weight="bold" >3</text>
<rect x="200.9" y="587.2" width="12.3" height="115.8" fill="#1170c8"/>
<text x="207.0" y="583.2" font-size="11" fill="#111" text-anchor="middle" font-weight="bold" >2</text>
<rect x="219.5" y="516.7" width="12.3" height="186.3" fill="#1170c8"/>
<text x="225.6" y="512.7" font-size="11" fill="#111" text-anchor="middle" font-weight="bold" >4</text>
<rect x="238.1" y="542.6" width="12.3" height="160.4" fill="#1170c8"/>
<text x="244.2" y="538.6" font-size="11" fill="#111" text-anchor="middle" font-weight="bold" >3</text>
<rect x="256.7" y="508.8" width="12.3" height="194.2" fill="#1170c8"/>
<text x="262.8" y="504.8" font-size="11" fill="#111" text-anchor="middle" font-weight="bold" >4</text>
<rect x="275.3" y="542.6" width="12.3" height="160.4" fill="#1170c8"/>
<text x="281.4" y="538.6" font-size="11" fill="#111" text-anchor="middle" font-weight="bold" >3</text>
<rect x="293.9" y="573.8" width="12.3" height="129.2" fill="#1170c8"/>
<text x="300.0" y="569.8" font-size="11" fill="#111" text-anchor="middle" font-weight="bold" >3</text>
<rect x="312.5" y="508.8" width="12.3" height="194.2" fill="#1170c8"/>
<text x="318.6" y="504.8" font-size="11" fill="#111" text-anchor="middle" font-weight="bold" >4</text>
<rect x="331.1" y="573.8" width="12.3" height="129.2" fill="#1170c8"/>
<text x="337.2" y="569.8" font-size="11" fill="#111" text-anchor="middle" font-weight="bold" >3</text>
<rect x="349.7" y="534.6" width="12.3" height="168.4" fill="#1170c8"/>
<text x="355.8" y="530.6" font-size="11" fill="#111" text-anchor="middle" font-weight="bold" >3</text>
<rect x="368.2" y="516.8" width="12.3" height="186.2" fill="#1170c8"/>
<text x="374.4" y="512.8" font-size="11" fill="#111" text-anchor="middle" font-weight="bold" >4</text>
<rect x="386.9" y="516.8" width="12.3" height="186.2" fill="#1170c8"/>
<text x="393.0" y="512.8" font-size="11" fill="#111" text-anchor="middle" font-weight="bold" >4</text>
<rect x="405.5" y="551.5" width="12.3" height="151.5" fill="#1170c8"/>
<text x="411.6" y="547.5" font-size="11" fill="#111" text-anchor="middle" font-weight="bold" >3</text>
<rect x="424.1" y="538.2" width="12.3" height="164.8" fill="#1170c8"/>
<text x="430.2" y="534.2" font-size="11" fill="#111" text-anchor="middle" font-weight="bold" >3</text>
<rect x="442.7" y="586.7" width="12.3" height="116.3" fill="#1170c8"/>
<text x="448.8" y="582.7" font-size="11" fill="#111" text-anchor="middle" font-weight="bold" >2</text>
<rect x="461.3" y="542.6" width="12.3" height="160.4" fill="#1170c8"/>
<text x="467.4" y="538.6" font-size="11" fill="#111" text-anchor="middle" font-weight="bold" >3</text>
<rect x="479.9" y="556" width="12.3" height="147.0" fill="#1170c8"/>
<text x="486.0" y="552.0" font-size="11" fill="#111" text-anchor="middle" font-weight="bold" >3</text>
<rect x="498.5" y="499.9" width="12.3" height="203.1" fill="#1170c8"/>
<text x="504.6" y="495.9" font-size="11" fill="#111" text-anchor="middle" font-weight="bold" >4</text>
<rect x="517.1" y="551.5" width="12.3" height="151.5" fill="#1170c8"/>
<text x="523.2" y="547.5" font-size="11" fill="#111" text-anchor="middle" font-weight="bold" >3</text>
<rect x="535.7" y="556" width="12.3" height="147.0" fill="#1170c8"/>
<text x="541.8" y="552.0" font-size="11" fill="#111" text-anchor="middle" font-weight="bold" >3</text>
<rect x="554.3" y="522.2" width="12.3" height="180.8" fill="#1170c8"/>
<text x="560.4" y="518.2" font-size="11" fill="#111" text-anchor="middle" font-weight="bold" >4</text>
<rect x="572.9" y="542.6" width="12.3" height="160.4" fill="#1170c8"/>
<text x="579.0" y="538.6" font-size="11" fill="#111" text-anchor="middle" font-weight="bold" >3</text>
<rect x="591.5" y="591.2" width="12.3" height="111.8" fill="#1170c8"/>
<text x="597.6" y="587.2" font-size="11" fill="#111" text-anchor="middle" font-weight="bold" >2</text>
<rect x="610.1" y="577.8" width="12.3" height="125.2" fill="#1170c8"/>
<text x="616.2" y="573.8" font-size="11" fill="#111" text-anchor="middle" font-weight="bold" >2</text>
<rect x="628.7" y="577.8" width="12.3" height="125.2" fill="#1170c8"/>
<text x="634.8" y="573.8" font-size="11" fill="#111" text-anchor="middle" font-weight="bold" >2</text>
<rect x="647.2" y="651.7" width="12.3" height="51.3" fill="#1170c8"/>
<text x="653.4" y="647.7" font-size="11" fill="#111" text-anchor="middle" font-weight="bold" >1</text>
<rect x="665.9" y="534.6" width="12.3" height="168.4" fill="#1170c8"/>
<text x="672.0" y="530.6" font-size="11" fill="#111" text-anchor="middle" font-weight="bold" >3</text>
<rect x="684.5" y="582.7" width="12.3" height="120.3" fill="#1170c8"/>
<text x="690.6" y="578.7" font-size="11" fill="#111" text-anchor="middle" font-weight="bold" >2</text>
<rect x="703.1" y="539" width="12.3" height="164.0" fill="#1170c8"/>
<text x="709.2" y="535.0" font-size="11" fill="#111" text-anchor="middle" font-weight="bold" >3</text>
<rect x="721.7" y="516.7" width="12.3" height="186.3" fill="#1170c8"/>
<text x="727.8" y="512.7" font-size="11" fill="#111" text-anchor="middle" font-weight="bold" >4</text>
<rect x="740.2" y="591" width="12.3" height="112.0" fill="#1170c8"/>
<text x="746.4" y="587.0" font-size="11" fill="#111" text-anchor="middle" font-weight="bold" >2</text>
<rect x="758.9" y="651.5" width="12.3" height="51.5" fill="#1170c8"/>
<text x="765.0" y="647.5" font-size="11" fill="#111" text-anchor="middle" font-weight="bold" >1</text>
<rect x="777.5" y="568.8" width="12.3" height="134.2" fill="#1170c8"/>
<text x="783.6" y="564.8" font-size="11" fill="#111" text-anchor="middle" font-weight="bold" >3</text>
<rect x="796.1" y="516.7" width="12.3" height="186.3" fill="#1170c8"/>
<text x="802.2" y="512.7" font-size="11" fill="#111" text-anchor="middle" font-weight="bold" >4</text>
<rect x="814.7" y="551.4" width="12.3" height="151.6" fill="#1170c8"/>
<text x="820.8" y="547.4" font-size="11" fill="#111" text-anchor="middle" font-weight="bold" >3</text>
<rect x="833.3" y="516.7" width="12.3" height="186.3" fill="#1170c8"/>
<text x="839.4" y="512.7" font-size="11" fill="#111" text-anchor="middle" font-weight="bold" >4</text>
<rect x="851.9" y="625.7" width="12.3" height="77.3" fill="#1170c8"/>
<text x="858.0" y="621.7" font-size="11" fill="#111" text-anchor="middle" font-weight="bold" >2</text>
<rect x="870.5" y="591" width="12.3" height="112.0" fill="#1170c8"/>
<text x="876.6" y="587.0" font-size="11" fill="#111" text-anchor="middle" font-weight="bold" >2</text>
<text x="60.2" y="714.0" font-size="10" fill="#111" text-anchor="end" font-weight="bold" textLength="44.7" lengthAdjust="spacingAndGlyphs" transform="rotate(-45 60.2 714)">ابراهيم التميمي</text>
<text x="78.8" y="714.0" font-size="10" fill="#111" text-anchor="end" font-weight="bold" textLength="47.0" lengthAdjust="spacingAndGlyphs" transform="rotate(-45 78.8 714)">ابراهيم المطيري</text>
<text x="97.4" y="714.0" font-size="10" fill="#111" text-anchor="end" font-weight="bold" textLength="33.6" lengthAdjust="spacingAndGlyphs" transform="rotate(-45 97.4 714)">أشواق ناصر</text>
<text x="116.0" y="714.0" font-size="10" fill="#111" text-anchor="end" font-weight="bold" textLength="41.2" lengthAdjust="spacingAndGlyphs" transform="rotate(-45 116.0 714)">افراح الرشيدي</text>
<text x="134.6" y="714.0" font-size="10" fill="#111" text-anchor="end" font-weight="bold" textLength="42.9" lengthAdjust="spacingAndGlyphs" transform="rotate(-45 134.6 714)">الجوهره العنزي</text>
<text x="153.2" y="714.0" font-size="10" fill="#111" text-anchor="end" font-weight="bold" textLength="38.3" lengthAdjust="spacingAndGlyphs" transform="rotate(-45 153.2 714)">انتصار العنزي</text>
<text x="171.8" y="714.0" font-size="10" fill="#111" text-anchor="end" font-weight="bold" textLength="26.7" lengthAdjust="spacingAndGlyphs" transform="rotate(-45 171.8 714)">بسام نيار</text>
<text x="190.4" y="714.0" font-size="10" fill="#111" text-anchor="end" font-weight="bold" textLength="43.5" lengthAdjust="spacingAndGlyphs" transform="rotate(-45 190.4 714)">حزام القحطاني</text>
<text x="209.0" y="714.0" font-size="10" fill="#111" text-anchor="end" font-weight="bold" textLength="41.8" lengthAdjust="spacingAndGlyphs" transform="rotate(-45 209.0 714)">حمد القحطاني</text>
<text x="227.6" y="714.0" font-size="10" fill="#111" text-anchor="end" font-weight="bold" textLength="37.1" lengthAdjust="spacingAndGlyphs" transform="rotate(-45 227.6 714)">خالد الشعلان</text>
<text x="246.2" y="714.0" font-size="10" fill="#111" text-anchor="end" font-weight="bold" textLength="29.0" lengthAdjust="spacingAndGlyphs" transform="rotate(-45 246.2 714)">خالد شاكر</text>
<text x="264.8" y="714.0" font-size="10" fill="#111" text-anchor="end" font-weight="bold" textLength="35.4" lengthAdjust="spacingAndGlyphs" transform="rotate(-45 264.8 714)">خلود البياعي</text>
<text x="283.4" y="714.0" font-size="10" fill="#111" text-anchor="end" font-weight="bold" textLength="42.9" lengthAdjust="spacingAndGlyphs" transform="rotate(-45 283.4 714)">خلود القحطاني</text>
<text x="302.0" y="714.0" font-size="10" fill="#111" text-anchor="end" font-weight="bold" textLength="32.5" lengthAdjust="spacingAndGlyphs" transform="rotate(-45 302.0 714)">ريم العتيبي</text>
<text x="320.6" y="714.0" font-size="10" fill="#111" text-anchor="end" font-weight="bold" textLength="37.1" lengthAdjust="spacingAndGlyphs" transform="rotate(-45 320.6 714)">سحر الحارثي</text>
<text x="339.2" y="714.0" font-size="10" fill="#111" text-anchor="end" font-weight="bold" textLength="37.1" lengthAdjust="spacingAndGlyphs" transform="rotate(-45 339.2 714)">سعد الشهري</text>
<text x="357.8" y="714.0" font-size="10" fill="#111" text-anchor="end" font-weight="bold" textLength="39.4" lengthAdjust="spacingAndGlyphs" transform="rotate(-45 357.8 714)">سعد الصاعدي</text>
<text x="376.4" y="714.0" font-size="10" fill="#111" text-anchor="end" font-weight="bold" textLength="42.9" lengthAdjust="spacingAndGlyphs" transform="rotate(-45 376.4 714)">سعود العصيمي</text>
<text x="395.0" y="714.0" font-size="10" fill="#111" text-anchor="end" font-weight="bold" textLength="44.1" lengthAdjust="spacingAndGlyphs" transform="rotate(-45 395.0 714)">سعيد الشهراني</text>
<text x="413.6" y="714.0" font-size="10" fill="#111" text-anchor="end" font-weight="bold" textLength="37.7" lengthAdjust="spacingAndGlyphs" transform="rotate(-45 413.6 714)">شاهر العتيبي</text>
<text x="432.2" y="714.0" font-size="10" fill="#111" text-anchor="end" font-weight="bold" textLength="38.3" lengthAdjust="spacingAndGlyphs" transform="rotate(-45 432.2 714)">عايض الاكلبي</text>
<text x="450.8" y="714.0" font-size="10" fill="#111" text-anchor="end" font-weight="bold" textLength="49.9" lengthAdjust="spacingAndGlyphs" transform="rotate(-45 450.8 714)">عبد العزيز الحربي</text>
<text x="469.4" y="714.0" font-size="10" fill="#111" text-anchor="end" font-weight="bold" textLength="36.0" lengthAdjust="spacingAndGlyphs" transform="rotate(-45 469.4 714)">عبير القاضي</text>
<text x="488.0" y="714.0" font-size="10" fill="#111" text-anchor="end" font-weight="bold" textLength="35.4" lengthAdjust="spacingAndGlyphs" transform="rotate(-45 488.0 714)">علي عبد الله</text>
<text x="506.6" y="714.0" font-size="10" fill="#111" text-anchor="end" font-weight="bold" textLength="33.6" lengthAdjust="spacingAndGlyphs" transform="rotate(-45 506.6 714)">عناد العتيبي</text>
<text x="525.2" y="714.0" font-size="10" fill="#111" text-anchor="end" font-weight="bold" textLength="31.9" lengthAdjust="spacingAndGlyphs" transform="rotate(-45 525.2 714)">عيد العتيبي</text>
<text x="543.8" y="714.0" font-size="10" fill="#111" text-anchor="end" font-weight="bold" textLength="33.6" lengthAdjust="spacingAndGlyphs" transform="rotate(-45 543.8 714)">غنيم العنزي</text>
<text x="562.4" y="714.0" font-size="10" fill="#111" text-anchor="end" font-weight="bold" textLength="39.4" lengthAdjust="spacingAndGlyphs" transform="rotate(-45 562.4 714)">فرحان العنزي</text>
<text x="581.0" y="714.0" font-size="10" fill="#111" text-anchor="end" font-weight="bold" textLength="38.9" lengthAdjust="spacingAndGlyphs" transform="rotate(-45 581.0 714)">فهد الدوسري</text>
<text x="599.6" y="714.0" font-size="10" fill="#111" text-anchor="end" font-weight="bold" textLength="40.6" lengthAdjust="spacingAndGlyphs" transform="rotate(-45 599.6 714)">فهد الطويلعي</text>
<text x="618.2" y="714.0" font-size="10" fill="#111" text-anchor="end" font-weight="bold" textLength="34.8" lengthAdjust="spacingAndGlyphs" transform="rotate(-45 618.2 714)">فهد العثمان</text>
<text x="636.8" y="714.0" font-size="10" fill="#111" text-anchor="end" font-weight="bold" textLength="31.9" lengthAdjust="spacingAndGlyphs" transform="rotate(-45 636.8 714)">فهد العنزي</text>
<text x="655.4" y="714.0" font-size="10" fill="#111" text-anchor="end" font-weight="bold" textLength="38.3" lengthAdjust="spacingAndGlyphs" transform="rotate(-45 655.4 714)">فهد المطيري</text>
<text x="674.0" y="714.0" font-size="10" fill="#111" text-anchor="end" font-weight="bold" textLength="39.4" lengthAdjust="spacingAndGlyphs" transform="rotate(-45 674.0 714)">فيصل العتيبي</text>
<text x="692.6" y="714.0" font-size="10" fill="#111" text-anchor="end" font-weight="bold" textLength="36.5" lengthAdjust="spacingAndGlyphs" transform="rotate(-45 692.6 714)">قيس العتيبي</text>
<text x="711.2" y="714.0" font-size="10" fill="#111" text-anchor="end" font-weight="bold" textLength="44.1" lengthAdjust="spacingAndGlyphs" transform="rotate(-45 711.2 714)">لطيفة الرشيدي</text>
<text x="729.8" y="714.0" font-size="10" fill="#111" text-anchor="end" font-weight="bold" textLength="36.0" lengthAdjust="spacingAndGlyphs" transform="rotate(-45 729.8 714)">محسن البكار</text>
<text x="748.4" y="714.0" font-size="10" fill="#111" text-anchor="end" font-weight="bold" textLength="39.4" lengthAdjust="spacingAndGlyphs" transform="rotate(-45 748.4 714)">مرام المطيري</text>
<text x="767.0" y="714.0" font-size="10" fill="#111" text-anchor="end" font-weight="bold" textLength="36.0" lengthAdjust="spacingAndGlyphs" transform="rotate(-45 767.0 714)">منى الشريف</text>
<text x="785.6" y="714.0" font-size="10" fill="#111" text-anchor="end" font-weight="bold" textLength="40.6" lengthAdjust="spacingAndGlyphs" transform="rotate(-45 785.6 714)">نايف الزهراني</text>
<text x="804.2" y="714.0" font-size="10" fill="#111" text-anchor="end" font-weight="bold" textLength="41.2" lengthAdjust="spacingAndGlyphs" transform="rotate(-45 804.2 714)">نايف العصيمي</text>
<text x="822.8" y="714.0" font-size="10" fill="#111" text-anchor="end" font-weight="bold" textLength="37.1" lengthAdjust="spacingAndGlyphs" transform="rotate(-45 822.8 714)">نايف الرقاص</text>
<text x="841.4" y="714.0" font-size="10" fill="#111" text-anchor="end" font-weight="bold" textLength="40.6" lengthAdjust="spacingAndGlyphs" transform="rotate(-45 841.4 714)">هاني الاسمري</text>
<text x="860.0" y="714.0" font-size="10" fill="#111" text-anchor="end" font-weight="bold" textLength="37.1" lengthAdjust="spacingAndGlyphs" transform="rotate(-45 860.0 714)">هند المغامس</text>
<text x="878.6" y="714.0" font-size="10" fill="#111" text-anchor="end" font-weight="bold" textLength="33.6" lengthAdjust="spacingAndGlyphs" transform="rotate(-45 878.6 714)">وليد العتيبي</text>
<text x="897.2" y="714.0" font-size="10" fill="#111" text-anchor="end" font-weight="bold" textLength="34.0" lengthAdjust="spacingAndGlyphs" transform="rotate(-45 897.2 714)">(blank)</text>
<rect x="29.3" y="745" width="46.3" height="8" fill="url(#btn)"/>
<path d="M35.3,747.8 h5 l-2.5,3 z" fill="#333"/>
<text x="71.6" y="750.7" font-size="6" fill="#444" text-anchor="end" font-weight="normal" textLength="20.835" lengthAdjust="spacingAndGlyphs" >اسم الموظف</text>
<text x="1395.0" y="155.0" font-size="13" fill="#222" text-anchor="middle" font-weight="normal" textLength="183" lengthAdjust="spacingAndGlyphs" >اجمالي عدد مهام الموظفين لكل اسبوع</text>
<text x="1000.0" y="361.8" font-size="10" fill="#111" text-anchor="end" font-weight="bold" >0</text>
<text x="1000.0" y="337.2" font-size="10" fill="#111" text-anchor="end" font-weight="bold" >10</text>
<text x="1000.0" y="312.6" font-size="10" fill="#111" text-anchor="end" font-weight="bold" >20</text>
<text x="1000.0" y="288.1" font-size="10" fill="#111" text-anchor="end" font-weight="bold" >30</text>
<text x="1000.0" y="263.5" font-size="10" fill="#111" text-anchor="end" font-weight="bold" >40</text>
<text x="1000.0" y="238.9" font-size="10" fill="#111" text-anchor="end" font-weight="bold" >50</text>
<text x="1000.0" y="214.3" font-size="10" fill="#111" text-anchor="end" font-weight="bold" >60</text>
<text x="1000.0" y="189.8" font-size="10" fill="#111" text-anchor="end" font-weight="bold" >70</text>
<text x="1000.0" y="165.2" font-size="10" fill="#111" text-anchor="end" font-weight="bold" >80</text>
<text x="1000.0" y="140.6" font-size="10" fill="#111" text-anchor="end" font-weight="bold" >90</text>
<rect x="1011.2" y="358" width="723.6" height="1" fill="#d0d0d0"/>
<rect x="1013.8" y="323.6" width="10.6" height="34.4" fill="url(#g1)" stroke="#4677c7" stroke-width="1"/>
<rect x="1013.8" y="267.1" width="10.6" height="56.5" fill="url(#g2)" stroke="#2f8fd6" stroke-width="1"/>
<rect x="1013.8" y="208.1" width="10.6" height="59.0" fill="url(#g3)" stroke="#1ec0d2" stroke-width="1"/>
<rect x="1013.8" y="198.2" width="10.6" height="9.8" fill="url(#g4)" stroke="#2ec596" stroke-width="1"/>
<rect x="1029.5" y="333.4" width="10.6" height="24.6" fill="url(#g1)" stroke="#4677c7" stroke-width="1"/>
<rect x="1029.5" y="306.4" width="10.6" height="27.0" fill="url(#g2)" stroke="#2f8fd6" stroke-width="1"/>
<rect x="1029.5" y="281.8" width="10.6" height="24.6" fill="url(#g3)" stroke="#1ec0d2" stroke-width="1"/>
<rect x="1029.5" y="279.4" width="10.6" height="2.5" fill="url(#g4)" stroke="#2ec596" stroke-width="1"/>
<rect x="1045.2" y="338.3" width="10.6" height="19.7" fill="url(#g3)" stroke="#1ec0d2" stroke-width="1"/>
<rect x="1061.0" y="328.5" width="10.6" height="29.5" fill="url(#g1)" stroke="#4677c7" stroke-width="1"/>
<rect x="1061.0" y="294.1" width="10.6" height="34.4" fill="url(#g3)" stroke="#1ec0d2" stroke-width="1"/>
<rect x="1061.0" y="269.5" width="10.6" height="24.6" fill="url(#g4)" stroke="#2ec596" stroke-width="1"/>
<rect x="1076.7" y="338.3" width="10.6" height="19.7" fill="url(#g1)" stroke="#4677c7" stroke-width="1"/>
<rect x="1076.7" y="308.8" width="10.6" height="29.5" fill="url(#g2)" stroke="#2f8fd6" stroke-width="1"/>
<rect x="1076.7" y="279.4" width="10.6" height="29.5" fill="url(#g3)" stroke="#1ec0d2" stroke-width="1"/>
<rect x="1076.7" y="267.1" width="10.6" height="12.3" fill="url(#g4)" stroke="#2ec596" stroke-width="1"/>
<rect x="1092.4" y="333.4" width="10.6" height="24.6" fill="url(#g1)" stroke="#4677c7" stroke-width="1"/>
<rect x="1092.4" y="269.5" width="10.6" height="63.9" fill="url(#g2)" stroke="#2f8fd6" stroke-width="1"/>
<rect x="1092.4" y="215.4" width="10.6" height="54.1" fill="url(#g3)" stroke="#1ec0d2" stroke-width="1"/>
<rect x="1092.4" y="181.0" width="10.6" height="34.4" fill="url(#g4)" stroke="#2ec596" stroke-width="1"/>
<rect x="1108.1" y="348.2" width="10.6" height="9.8" fill="url(#g1)" stroke="#4677c7" stroke-width="1"/>
<rect x="1108.1" y="284.3" width="10.6" height="63.9" fill="url(#g2)" stroke="#2f8fd6" stroke-width="1"/>
<rect x="1108.1" y="203.2" width="10.6" height="81.1" fill="url(#g3)" stroke="#1ec0d2" stroke-width="1"/>
<rect x="1108.1" y="193.3" width="10.6" height="9.8" fill="url(#g4)" stroke="#2ec596" stroke-width="1"/>
<rect x="1123.9" y="348.2" width="10.6" height="9.8" fill="url(#g1)" stroke="#4677c7" stroke-width="1"/>
<rect x="1123.9" y="299.0" width="10.6" height="49.2" fill="url(#g2)" stroke="#2f8fd6" stroke-width="1"/>
<rect x="1123.9" y="244.9" width="10.6" height="54.1" fill="url(#g3)" stroke="#1ec0d2" stroke-width="1"/>
<rect x="1123.9" y="213.0" width="10.6" height="32.0" fill="url(#g4)" stroke="#2ec596" stroke-width="1"/>
<rect x="1139.6" y="338.3" width="10.6" height="19.7" fill="url(#g1)" stroke="#4677c7" stroke-width="1"/>
<rect x="1139.6" y="296.6" width="10.6" height="41.8" fill="url(#g2)" stroke="#2f8fd6" stroke-width="1"/>
<rect x="1139.6" y="249.9" width="10.6" height="46.7" fill="url(#g3)" stroke="#1ec0d2" stroke-width="1"/>
<rect x="1139.6" y="240.0" width="10.6" height="9.8" fill="url(#g4)" stroke="#2ec596" stroke-width="1"/>
<rect x="1155.3" y="323.6" width="10.6" height="34.4" fill="url(#g1)" stroke="#4677c7" stroke-width="1"/>
<rect x="1155.3" y="259.7" width="10.6" height="63.9" fill="url(#g2)" stroke="#2f8fd6" stroke-width="1"/>
<rect x="1155.3" y="190.9" width="10.6" height="68.8" fill="url(#g3)" stroke="#1ec0d2" stroke-width="1"/>
<rect x="1155.3" y="166.3" width="10.6" height="24.6" fill="url(#g4)" stroke="#2ec596" stroke-width="1"/>
<rect x="1171.1" y="323.6" width="10.6" height="34.4" fill="url(#g1)" stroke="#4677c7" stroke-width="1"/>
<rect x="1171.1" y="272.0" width="10.6" height="51.6" fill="url(#g2)" stroke="#2f8fd6" stroke-width="1"/>
<rect x="1171.1" y="237.6" width="10.6" height="34.4" fill="url(#g3)" stroke="#1ec0d2" stroke-width="1"/>
<rect x="1171.1" y="213.0" width="10.6" height="24.6" fill="url(#g4)" stroke="#2ec596" stroke-width="1"/>
<rect x="1186.8" y="340.8" width="10.6" height="17.2" fill="url(#g1)" stroke="#4677c7" stroke-width="1"/>
<rect x="1186.8" y="313.8" width="10.6" height="27.0" fill="url(#g2)" stroke="#2f8fd6" stroke-width="1"/>
<rect x="1186.8" y="281.8" width="10.6" height="32.0" fill="url(#g3)" stroke="#1ec0d2" stroke-width="1"/>
<rect x="1186.8" y="247.4" width="10.6" height="34.4" fill="url(#g4)" stroke="#2ec596" stroke-width="1"/>
<rect x="1202.5" y="328.5" width="10.6" height="29.5" fill="url(#g1)" stroke="#4677c7" stroke-width="1"/>
<rect x="1202.5" y="291.6" width="10.6" height="36.9" fill="url(#g2)" stroke="#2f8fd6" stroke-width="1"/>
<rect x="1202.5" y="264.6" width="10.6" height="27.0" fill="url(#g3)" stroke="#1ec0d2" stroke-width="1"/>
<rect x="1202.5" y="237.6" width="10.6" height="27.0" fill="url(#g4)" stroke="#2ec596" stroke-width="1"/>
<rect x="1218.3" y="348.2" width="10.6" height="9.8" fill="url(#g1)" stroke="#4677c7" stroke-width="1"/>
<rect x="1218.3" y="289.2" width="10.6" height="59.0" fill="url(#g2)" stroke="#2f8fd6" stroke-width="1"/>
<rect x="1218.3" y="235.1" width="10.6" height="54.1" fill="url(#g3)" stroke="#1ec0d2" stroke-width="1"/>
<rect x="1218.3" y="210.5" width="10.6" height="24.6" fill="url(#g4)" stroke="#2ec596" stroke-width="1"/>
<rect x="1234.0" y="326.0" width="10.6" height="32.0" fill="url(#g1)" stroke="#4677c7" stroke-width="1"/>
<rect x="1234.0" y="296.6" width="10.6" height="29.5" fill="url(#g2)" stroke="#2f8fd6" stroke-width="1"/>
<rect x="1234.0" y="272.0" width="10.6" height="24.6" fill="url(#g3)" stroke="#1ec0d2" stroke-width="1"/>
<rect x="1234.0" y="262.1" width="10.6" height="9.8" fill="url(#g4)" stroke="#2ec596" stroke-width="1"/>
<rect x="1249.7" y="343.3" width="10.6" height="14.7" fill="url(#g1)" stroke="#4677c7" stroke-width="1"/>
<rect x="1249.7" y="306.4" width="10.6" height="36.9" fill="url(#g2)" stroke="#2f8fd6" stroke-width="1"/>
<rect x="1249.7" y="249.9" width="10.6" height="56.5" fill="url(#g3)" stroke="#1ec0d2" stroke-width="1"/>
<rect x="1265.4" y="333.4" width="10.6" height="24.6" fill="url(#g1)" stroke="#4677c7" stroke-width="1"/>
<rect x="1265.4" y="264.6" width="10.6" height="68.8" fill="url(#g2)" stroke="#2f8fd6" stroke-width="1"/>
<rect x="1265.4" y="213.0" width="10.6" height="51.6" fill="url(#g3)" stroke="#1ec0d2" stroke-width="1"/>
<rect x="1265.4" y="203.2" width="10.6" height="9.8" fill="url(#g4)" stroke="#2ec596" stroke-width="1"/>
<rect x="1281.2" y="321.1" width="10.6" height="36.9" fill="url(#g1)" stroke="#4677c7" stroke-width="1"/>
<rect x="1281.2" y="254.8" width="10.6" height="66.4" fill="url(#g2)" stroke="#2f8fd6" stroke-width="1"/>
<rect x="1281.2" y="195.8" width="10.6" height="59.0" fill="url(#g3)" stroke="#1ec0d2" stroke-width="1"/>
<rect x="1281.2" y="171.2" width="10.6" height="24.6" fill="url(#g4)" stroke="#2ec596" stroke-width="1"/>
<rect x="1296.9" y="326.0" width="10.6" height="32.0" fill="url(#g1)" stroke="#4677c7" stroke-width="1"/>
<rect x="1296.9" y="276.9" width="10.6" height="49.2" fill="url(#g2)" stroke="#2f8fd6" stroke-width="1"/>
<rect x="1296.9" y="225.3" width="10.6" height="51.6" fill="url(#g3)" stroke="#1ec0d2" stroke-width="1"/>
<rect x="1296.9" y="200.7" width="10.6" height="24.6" fill="url(#g4)" stroke="#2ec596" stroke-width="1"/>
<rect x="1312.6" y="323.6" width="10.6" height="34.4" fill="url(#g1)" stroke="#4677c7" stroke-width="1"/>
<rect x="1312.6" y="274.4" width="10.6" height="49.2" fill="url(#g2)" stroke="#2f8fd6" stroke-width="1"/>
<rect x="1312.6" y="232.7" width="10.6" height="41.8" fill="url(#g3)" stroke="#1ec0d2" stroke-width="1"/>
<rect x="1312.6" y="213.0" width="10.6" height="19.7" fill="url(#g4)" stroke="#2ec596" stroke-width="1"/>
<rect x="1328.4" y="326.0" width="10.6" height="32.0" fill="url(#g1)" stroke="#4677c7" stroke-width="1"/>
<rect x="1328.4" y="272.0" width="10.6" height="54.1" fill="url(#g2)" stroke="#2f8fd6" stroke-width="1"/>
<rect x="1328.4" y="230.2" width="10.6" height="41.8" fill="url(#g3)" stroke="#1ec0d2" stroke-width="1"/>
<rect x="1344.1" y="333.4" width="10.6" height="24.6" fill="url(#g1)" stroke="#4677c7" stroke-width="1"/>
<rect x="1344.1" y="316.2" width="10.6" height="17.2" fill="url(#g2)" stroke="#2f8fd6" stroke-width="1"/>
<rect x="1344.1" y="296.6" width="10.6" height="19.7" fill="url(#g3)" stroke="#1ec0d2" stroke-width="1"/>
<rect x="1344.1" y="286.7" width="10.6" height="9.8" fill="url(#g4)" stroke="#2ec596" stroke-width="1"/>
<rect x="1359.8" y="323.6" width="10.6" height="34.4" fill="url(#g1)" stroke="#4677c7" stroke-width="1"/>
<rect x="1359.8" y="269.5" width="10.6" height="54.1" fill="url(#g2)" stroke="#2f8fd6" stroke-width="1"/>
<rect x="1359.8" y="232.7" width="10.6" height="36.9" fill="url(#g3)" stroke="#1ec0d2" stroke-width="1"/>
<rect x="1359.8" y="208.1" width="10.6" height="24.6" fill="url(#g4)" stroke="#2ec596" stroke-width="1"/>
<rect x="1375.6" y="328.5" width="10.6" height="29.5" fill="url(#g1)" stroke="#4677c7" stroke-width="1"/>
<rect x="1375.6" y="301.5" width="10.6" height="27.0" fill="url(#g2)" stroke="#2f8fd6" stroke-width="1"/>
<rect x="1375.6" y="272.0" width="10.6" height="29.5" fill="url(#g3)" stroke="#1ec0d2" stroke-width="1"/>
<rect x="1375.6" y="262.1" width="10.6" height="9.8" fill="url(#g4)" stroke="#2ec596" stroke-width="1"/>
<rect x="1391.3" y="316.2" width="10.6" height="41.8" fill="url(#g1)" stroke="#4677c7" stroke-width="1"/>
<rect x="1391.3" y="272.0" width="10.6" height="44.2" fill="url(#g2)" stroke="#2f8fd6" stroke-width="1"/>
<rect x="1391.3" y="227.7" width="10.6" height="44.2" fill="url(#g3)" stroke="#1ec0d2" stroke-width="1"/>
<rect x="1391.3" y="203.2" width="10.6" height="24.6" fill="url(#g4)" stroke="#2ec596" stroke-width="1"/>
<rect x="1407.0" y="333.4" width="10.6" height="24.6" fill="url(#g1)" stroke="#4677c7" stroke-width="1"/>
<rect x="1407.0" y="296.6" width="10.6" height="36.9" fill="url(#g2)" stroke="#2f8fd6" stroke-width="1"/>
<rect x="1407.0" y="247.4" width="10.6" height="49.2" fill="url(#g3)" stroke="#1ec0d2" stroke-width="1"/>
<rect x="1407.0" y="222.8" width="10.6" height="24.6" fill="url(#g4)" stroke="#2ec596" stroke-width="1"/>
<rect x="1422.7" y="328.5" width="10.6" height="29.5" fill="url(#g1)" stroke="#4677c7" stroke-width="1"/>
<rect x="1422.7" y="301.5" width="10.6" height="27.0" fill="url(#g2)" stroke="#2f8fd6" stroke-width="1"/>
<rect x="1422.7" y="274.4" width="10.6" height="27.0" fill="url(#g3)" stroke="#1ec0d2" stroke-width="1"/>
<rect x="1422.7" y="264.6" width="10.6" height="9.8" fill="url(#g4)" stroke="#2ec596" stroke-width="1"/>
<rect x="1438.5" y="331.0" width="10.6" height="27.0" fill="url(#g1)" stroke="#4677c7" stroke-width="1"/>
<rect x="1438.5" y="291.6" width="10.6" height="39.3" fill="url(#g2)" stroke="#2f8fd6" stroke-width="1"/>
<rect x="1438.5" y="252.3" width="10.6" height="39.3" fill="url(#g3)" stroke="#1ec0d2" stroke-width="1"/>
<rect x="1438.5" y="242.5" width="10.6" height="9.8" fill="url(#g4)" stroke="#2ec596" stroke-width="1"/>
<rect x="1454.2" y="323.6" width="10.6" height="34.4" fill="url(#g1)" stroke="#4677c7" stroke-width="1"/>
<rect x="1454.2" y="269.5" width="10.6" height="54.1" fill="url(#g2)" stroke="#2f8fd6" stroke-width="1"/>
<rect x="1454.2" y="232.7" width="10.6" height="36.9" fill="url(#g3)" stroke="#1ec0d2" stroke-width="1"/>
<rect x="1454.2" y="208.1" width="10.6" height="24.6" fill="url(#g4)" stroke="#2ec596" stroke-width="1"/>
<rect x="1469.9" y="333.4" width="10.6" height="24.6" fill="url(#g1)" stroke="#4677c7" stroke-width="1"/>
<rect x="1469.9" y="311.3" width="10.6" height="22.1" fill="url(#g2)" stroke="#2f8fd6" stroke-width="1"/>
<rect x="1469.9" y="291.6" width="10.6" height="19.7" fill="url(#g3)" stroke="#1ec0d2" stroke-width="1"/>
<rect x="1469.9" y="281.8" width="10.6" height="9.8" fill="url(#g4)" stroke="#2ec596" stroke-width="1"/>
<rect x="1485.7" y="348.2" width="10.6" height="9.8" fill="url(#g1)" stroke="#4677c7" stroke-width="1"/>
<rect x="1485.7" y="291.6" width="10.6" height="56.5" fill="url(#g2)" stroke="#2f8fd6" stroke-width="1"/>
<rect x="1485.7" y="227.7" width="10.6" height="63.9" fill="url(#g3)" stroke="#1ec0d2" stroke-width="1"/>
<rect x="1485.7" y="198.2" width="10.6" height="29.5" fill="url(#g4)" stroke="#2ec596" stroke-width="1"/>
<rect x="1501.4" y="333.4" width="10.6" height="24.6" fill="url(#g1)" stroke="#4677c7" stroke-width="1"/>
<rect x="1501.4" y="284.3" width="10.6" height="49.2" fill="url(#g2)" stroke="#2f8fd6" stroke-width="1"/>
<rect x="1501.4" y="222.8" width="10.6" height="61.4" fill="url(#g3)" stroke="#1ec0d2" stroke-width="1"/>
<rect x="1501.4" y="193.3" width="10.6" height="29.5" fill="url(#g4)" stroke="#2ec596" stroke-width="1"/>
<rect x="1517.1" y="333.4" width="10.6" height="24.6" fill="url(#g1)" stroke="#4677c7" stroke-width="1"/>
<rect x="1517.1" y="313.8" width="10.6" height="19.7" fill="url(#g2)" stroke="#2f8fd6" stroke-width="1"/>
<rect x="1532.9" y="323.6" width="10.6" height="34.4" fill="url(#g1)" stroke="#4677c7" stroke-width="1"/>
<rect x="1532.9" y="259.7" width="10.6" height="63.9" fill="url(#g2)" stroke="#2f8fd6" stroke-width="1"/>
<rect x="1532.9" y="225.3" width="10.6" height="34.4" fill="url(#g3)" stroke="#1ec0d2" stroke-width="1"/>
<rect x="1532.9" y="190.9" width="10.6" height="34.4" fill="url(#g4)" stroke="#2ec596" stroke-width="1"/>
<rect x="1548.6" y="348.2" width="10.6" height="9.8" fill="url(#g1)" stroke="#4677c7" stroke-width="1"/>
<rect x="1548.6" y="294.1" width="10.6" height="54.1" fill="url(#g2)" stroke="#2f8fd6" stroke-width="1"/>
<rect x="1548.6" y="254.8" width="10.6" height="39.3" fill="url(#g3)" stroke="#1ec0d2" stroke-width="1"/>
<rect x="1564.3" y="323.6" width="10.6" height="34.4" fill="url(#g1)" stroke="#4677c7" stroke-width="1"/>
<rect x="1564.3" y="264.6" width="10.6" height="59.0" fill="url(#g2)" stroke="#2f8fd6" stroke-width="1"/>
<rect x="1564.3" y="230.2" width="10.6" height="34.4" fill="url(#g3)" stroke="#1ec0d2" stroke-width="1"/>
<rect x="1564.3" y="215.4" width="10.6" height="14.7" fill="url(#g4)" stroke="#2ec596" stroke-width="1"/>
<rect x="1580.0" y="321.1" width="10.6" height="36.9" fill="url(#g1)" stroke="#4677c7" stroke-width="1"/>
<rect x="1580.0" y="257.2" width="10.6" height="63.9" fill="url(#g2)" stroke="#2f8fd6" stroke-width="1"/>
<rect x="1580.0" y="203.2" width="10.6" height="54.1" fill="url(#g3)" stroke="#1ec0d2" stroke-width="1"/>
<rect x="1580.0" y="178.6" width="10.6" height="24.6" fill="url(#g4)" stroke="#2ec596" stroke-width="1"/>
<rect x="1595.8" y="338.3" width="10.6" height="19.7" fill="url(#g1)" stroke="#4677c7" stroke-width="1"/>
<rect x="1595.8" y="318.7" width="10.6" height="19.7" fill="url(#g2)" stroke="#2f8fd6" stroke-width="1"/>
<rect x="1595.8" y="279.4" width="10.6" height="39.3" fill="url(#g3)" stroke="#1ec0d2" stroke-width="1"/>
<rect x="1595.8" y="254.8" width="10.6" height="24.6" fill="url(#g4)" stroke="#2ec596" stroke-width="1"/>
<rect x="1611.5" y="343.3" width="10.6" height="14.7" fill="url(#g1)" stroke="#4677c7" stroke-width="1"/>
<rect x="1611.5" y="313.8" width="10.6" height="29.5" fill="url(#g2)" stroke="#2f8fd6" stroke-width="1"/>
<rect x="1611.5" y="269.5" width="10.6" height="44.2" fill="url(#g3)" stroke="#1ec0d2" stroke-width="1"/>
<rect x="1627.2" y="338.3" width="10.6" height="19.7" fill="url(#g1)" stroke="#4677c7" stroke-width="1"/>
<rect x="1627.2" y="291.6" width="10.6" height="46.7" fill="url(#g2)" stroke="#2f8fd6" stroke-width="1"/>
<rect x="1627.2" y="227.7" width="10.6" height="63.9" fill="url(#g3)" stroke="#1ec0d2" stroke-width="1"/>
<rect x="1627.2" y="217.9" width="10.6" height="9.8" fill="url(#g4)" stroke="#2ec596" stroke-width="1"/>
<rect x="1643.0" y="328.5" width="10.6" height="29.5" fill="url(#g1)" stroke="#4677c7" stroke-width="1"/>
<rect x="1643.0" y="289.2" width="10.6" height="39.3" fill="url(#g2)" stroke="#2f8fd6" stroke-width="1"/>
<rect x="1643.0" y="247.4" width="10.6" height="41.8" fill="url(#g3)" stroke="#1ec0d2" stroke-width="1"/>
<rect x="1643.0" y="222.8" width="10.6" height="24.6" fill="url(#g4)" stroke="#2ec596" stroke-width="1"/>
<rect x="1658.7" y="338.3" width="10.6" height="19.7" fill="url(#g1)" stroke="#4677c7" stroke-width="1"/>
<rect x="1658.7" y="279.4" width="10.6" height="59.0" fill="url(#g2)" stroke="#2f8fd6" stroke-width="1"/>
<rect x="1658.7" y="217.9" width="10.6" height="61.4" fill="url(#g3)" stroke="#1ec0d2" stroke-width="1"/>
<rect x="1658.7" y="208.1" width="10.6" height="9.8" fill="url(#g4)" stroke="#2ec596" stroke-width="1"/>
<rect x="1674.4" y="318.7" width="10.6" height="39.3" fill="url(#g1)" stroke="#4677c7" stroke-width="1"/>
<rect x="1674.4" y="269.5" width="10.6" height="49.2" fill="url(#g2)" stroke="#2f8fd6" stroke-width="1"/>
<rect x="1674.4" y="217.9" width="10.6" height="51.6" fill="url(#g3)" stroke="#1ec0d2" stroke-width="1"/>
<rect x="1674.4" y="195.8" width="10.6" height="22.1" fill="url(#g4)" stroke="#2ec596" stroke-width="1"/>
<rect x="1690.2" y="348.2" width="10.6" height="9.8" fill="url(#g1)" stroke="#4677c7" stroke-width="1"/>
<rect x="1690.2" y="323.6" width="10.6" height="24.6" fill="url(#g2)" stroke="#2f8fd6" stroke-width="1"/>
<rect x="1690.2" y="306.4" width="10.6" height="17.2" fill="url(#g3)" stroke="#1ec0d2" stroke-width="1"/>
<rect x="1705.9" y="343.3" width="10.6" height="14.7" fill="url(#g1)" stroke="#4677c7" stroke-width="1"/>
<rect x="1705.9" y="308.8" width="10.6" height="34.4" fill="url(#g2)" stroke="#2f8fd6" stroke-width="1"/>
<rect x="1705.9" y="267.1" width="10.6" height="41.8" fill="url(#g3)" stroke="#1ec0d2" stroke-width="1"/>
<text x="1019.1" y="343.8" font-size="8" fill="#111" text-anchor="middle" font-weight="bold" >14</text>
<text x="1019.1" y="298.3" font-size="8" fill="#111" text-anchor="middle" font-weight="bold" >23</text>
<text x="1019.1" y="240.6" font-size="8" fill="#111" text-anchor="middle" font-weight="bold" >24</text>
<text x="1019.1" y="206.2" font-size="8" fill="#111" text-anchor="middle" font-weight="bold" >4</text>
<text x="1034.8" y="348.7" font-size="8" fill="#111" text-anchor="middle" font-weight="bold" >10</text>
<text x="1034.8" y="322.9" font-size="8" fill="#111" text-anchor="middle" font-weight="bold" >11</text>
<text x="1034.8" y="297.1" font-size="8" fill="#111" text-anchor="middle" font-weight="bold" >10</text>
<text x="1034.8" y="283.1" font-size="6.4" fill="#111" text-anchor="middle" font-weight="bold" >1</text>
<text x="1050.5" y="351.2" font-size="8" fill="#111" text-anchor="middle" font-weight="bold" >8</text>
<text x="1066.3" y="346.3" font-size="8" fill="#111" text-anchor="middle" font-weight="bold" >12</text>
<text x="1066.3" y="314.3" font-size="8" fill="#111" text-anchor="middle" font-weight="bold" >14</text>
<text x="1066.3" y="284.8" font-size="8" fill="#111" text-anchor="middle" font-weight="bold" >10</text>
<text x="1082.0" y="351.2" font-size="8" fill="#111" text-anchor="middle" font-weight="bold" >8</text>
<text x="1082.0" y="326.6" font-size="8" fill="#111" text-anchor="middle" font-weight="bold" >12</text>
<text x="1082.0" y="297.1" font-size="8" fill="#111" text-anchor="middle" font-weight="bold" >12</text>
<text x="1082.0" y="276.2" font-size="8" fill="#111" text-anchor="middle" font-weight="bold" >5</text>
<text x="1097.7" y="348.7" font-size="8" fill="#111" text-anchor="middle" font-weight="bold" >10</text>
<text x="1097.7" y="304.5" font-size="8" fill="#111" text-anchor="middle" font-weight="bold" >26</text>
<text x="1097.7" y="245.5" font-size="8" fill="#111" text-anchor="middle" font-weight="bold" >22</text>
<text x="1097.7" y="201.2" font-size="8" fill="#111" text-anchor="middle" font-weight="bold" >14</text>
<text x="1113.4" y="356.1" font-size="8" fill="#111" text-anchor="middle" font-weight="bold" >4</text>
<text x="1113.4" y="319.2" font-size="8" fill="#111" text-anchor="middle" font-weight="bold" >26</text>
<text x="1113.4" y="246.7" font-size="8" fill="#111" text-anchor="middle" font-weight="bold" >33</text>
<text x="1113.4" y="201.2" font-size="8" fill="#111" text-anchor="middle" font-weight="bold" >4</text>
<text x="1129.2" y="356.1" font-size="8" fill="#111" text-anchor="middle" font-weight="bold" >4</text>
<text x="1129.2" y="326.6" font-size="8" fill="#111" text-anchor="middle" font-weight="bold" >20</text>
<text x="1129.2" y="275.0" font-size="8" fill="#111" text-anchor="middle" font-weight="bold" >22</text>
<text x="1129.2" y="232.0" font-size="8" fill="#111" text-anchor="middle" font-weight="bold" >13</text>
<text x="1144.9" y="351.2" font-size="8" fill="#111" text-anchor="middle" font-weight="bold" >8</text>
<text x="1144.9" y="320.4" font-size="8" fill="#111" text-anchor="middle" font-weight="bold" >17</text>
<text x="1144.9" y="276.2" font-size="8" fill="#111" text-anchor="middle" font-weight="bold" >19</text>
<text x="1144.9" y="247.9" font-size="8" fill="#111" text-anchor="middle" font-weight="bold" >4</text>
<text x="1160.6" y="343.8" font-size="8" fill="#111" text-anchor="middle" font-weight="bold" >14</text>
<text x="1160.6" y="294.6" font-size="8" fill="#111" text-anchor="middle" font-weight="bold" >26</text>
<text x="1160.6" y="228.3" font-size="8" fill="#111" text-anchor="middle" font-weight="bold" >28</text>
<text x="1160.6" y="181.6" font-size="8" fill="#111" text-anchor="middle" font-weight="bold" >10</text>
<text x="1176.4" y="343.8" font-size="8" fill="#111" text-anchor="middle" font-weight="bold" >14</text>
<text x="1176.4" y="300.8" font-size="8" fill="#111" text-anchor="middle" font-weight="bold" >21</text>
<text x="1176.4" y="257.8" font-size="8" fill="#111" text-anchor="middle" font-weight="bold" >14</text>
<text x="1176.4" y="228.3" font-size="8" fill="#111" text-anchor="middle" font-weight="bold" >10</text>
<text x="1192.1" y="352.4" font-size="8" fill="#111" text-anchor="middle" font-weight="bold" >7</text>
<text x="1192.1" y="330.3" font-size="8" fill="#111" text-anchor="middle" font-weight="bold" >11</text>
<text x="1192.1" y="300.8" font-size="8" fill="#111" text-anchor="middle" font-weight="bold" >13</text>
<text x="1192.1" y="267.6" font-size="8" fill="#111" text-anchor="middle" font-weight="bold" >14</text>
<text x="1207.8" y="346.3" font-size="8" fill="#111" text-anchor="middle" font-weight="bold" >12</text>
<text x="1207.8" y="313.1" font-size="8" fill="#111" text-anchor="middle" font-weight="bold" >15</text>
<text x="1207.8" y="281.1" font-size="8" fill="#111" text-anchor="middle" font-weight="bold" >11</text>
<text x="1207.8" y="254.1" font-size="8" fill="#111" text-anchor="middle" font-weight="bold" >11</text>
<text x="1223.6" y="356.1" font-size="8" fill="#111" text-anchor="middle" font-weight="bold" >4</text>
<text x="1223.6" y="321.7" font-size="8" fill="#111" text-anchor="middle" font-weight="bold" >24</text>
<text x="1223.6" y="265.1" font-size="8" fill="#111" text-anchor="middle" font-weight="bold" >22</text>
<text x="1223.6" y="225.8" font-size="8" fill="#111" text-anchor="middle" font-weight="bold" >10</text>
<text x="1239.3" y="345.0" font-size="8" fill="#111" text-anchor="middle" font-weight="bold" >13</text>
<text x="1239.3" y="314.3" font-size="8" fill="#111" text-anchor="middle" font-weight="bold" >12</text>
<text x="1239.3" y="287.3" font-size="8" fill="#111" text-anchor="middle" font-weight="bold" >10</text>
<text x="1239.3" y="270.1" font-size="8" fill="#111" text-anchor="middle" font-weight="bold" >4</text>
<text x="1255.0" y="353.6" font-size="8" fill="#111" text-anchor="middle" font-weight="bold" >6</text>
<text x="1255.0" y="327.8" font-size="8" fill="#111" text-anchor="middle" font-weight="bold" >15</text>
<text x="1255.0" y="281.1" font-size="8" fill="#111" text-anchor="middle" font-weight="bold" >23</text>
<text x="1270.7" y="348.7" font-size="8" fill="#111" text-anchor="middle" font-weight="bold" >10</text>
<text x="1270.7" y="302.0" font-size="8" fill="#111" text-anchor="middle" font-weight="bold" >28</text>
<text x="1270.7" y="241.8" font-size="8" fill="#111" text-anchor="middle" font-weight="bold" >21</text>
<text x="1270.7" y="211.1" font-size="8" fill="#111" text-anchor="middle" font-weight="bold" >4</text>
<text x="1286.5" y="342.6" font-size="8" fill="#111" text-anchor="middle" font-weight="bold" >15</text>
<text x="1286.5" y="291.0" font-size="8" fill="#111" text-anchor="middle" font-weight="bold" >27</text>
<text x="1286.5" y="228.3" font-size="8" fill="#111" text-anchor="middle" font-weight="bold" >24</text>
<text x="1286.5" y="186.5" font-size="8" fill="#111" text-anchor="middle" font-weight="bold" >10</text>
<text x="1302.2" y="345.0" font-size="8" fill="#111" text-anchor="middle" font-weight="bold" >13</text>
<text x="1302.2" y="304.5" font-size="8" fill="#111" text-anchor="middle" font-weight="bold" >20</text>
<text x="1302.2" y="254.1" font-size="8" fill="#111" text-anchor="middle" font-weight="bold" >21</text>
<text x="1302.2" y="216.0" font-size="8" fill="#111" text-anchor="middle" font-weight="bold" >10</text>
<text x="1317.9" y="343.8" font-size="8" fill="#111" text-anchor="middle" font-weight="bold" >14</text>
<text x="1317.9" y="302.0" font-size="8" fill="#111" text-anchor="middle" font-weight="bold" >20</text>
<text x="1317.9" y="256.5" font-size="8" fill="#111" text-anchor="middle" font-weight="bold" >17</text>
<text x="1317.9" y="225.8" font-size="8" fill="#111" text-anchor="middle" font-weight="bold" >8</text>
<text x="1333.7" y="345.0" font-size="8" fill="#111" text-anchor="middle" font-weight="bold" >13</text>
<text x="1333.7" y="302.0" font-size="8" fill="#111" text-anchor="middle" font-weight="bold" >22</text>
<text x="1333.7" y="254.1" font-size="8" fill="#111" text-anchor="middle" font-weight="bold" >17</text>
<text x="1349.4" y="348.7" font-size="8" fill="#111" text-anchor="middle" font-weight="bold" >10</text>
<text x="1349.4" y="327.8" font-size="8" fill="#111" text-anchor="middle" font-weight="bold" >7</text>
<text x="1349.4" y="309.4" font-size="8" fill="#111" text-anchor="middle" font-weight="bold" >8</text>
<text x="1349.4" y="294.6" font-size="8" fill="#111" text-anchor="middle" font-weight="bold" >4</text>
<text x="1365.1" y="343.8" font-size="8" fill="#111" text-anchor="middle" font-weight="bold" >14</text>
<text x="1365.1" y="299.6" font-size="8" fill="#111" text-anchor="middle" font-weight="bold" >22</text>
<text x="1365.1" y="254.1" font-size="8" fill="#111" text-anchor="middle" font-weight="bold" >15</text>
<text x="1365.1" y="223.4" font-size="8" fill="#111" text-anchor="middle" font-weight="bold" >10</text>
<text x="1380.9" y="346.3" font-size="8" fill="#111" text-anchor="middle" font-weight="bold" >12</text>
<text x="1380.9" y="318.0" font-size="8" fill="#111" text-anchor="middle" font-weight="bold" >11</text>
<text x="1380.9" y="289.7" font-size="8" fill="#111" text-anchor="middle" font-weight="bold" >12</text>
<text x="1380.9" y="270.1" font-size="8" fill="#111" text-anchor="middle" font-weight="bold" >4</text>
<text x="1396.6" y="340.1" font-size="8" fill="#111" text-anchor="middle" font-weight="bold" >17</text>
<text x="1396.6" y="297.1" font-size="8" fill="#111" text-anchor="middle" font-weight="bold" >18</text>
<text x="1396.6" y="252.9" font-size="8" fill="#111" text-anchor="middle" font-weight="bold" >18</text>
<text x="1396.6" y="218.4" font-size="8" fill="#111" text-anchor="middle" font-weight="bold" >10</text>
<text x="1412.3" y="348.7" font-size="8" fill="#111" text-anchor="middle" font-weight="bold" >10</text>
<text x="1412.3" y="318.0" font-size="8" fill="#111" text-anchor="middle" font-weight="bold" >15</text>
<text x="1412.3" y="275.0" font-size="8" fill="#111" text-anchor="middle" font-weight="bold" >20</text>
<text x="1412.3" y="238.1" font-size="8" fill="#111" text-anchor="middle" font-weight="bold" >10</text>
<text x="1428.0" y="346.3" font-size="8" fill="#111" text-anchor="middle" font-weight="bold" >12</text>
<text x="1428.0" y="318.0" font-size="8" fill="#111" text-anchor="middle" font-weight="bold" >11</text>
<text x="1428.0" y="291.0" font-size="8" fill="#111" text-anchor="middle" font-weight="bold" >11</text>
<text x="1428.0" y="272.5" font-size="8" fill="#111" text-anchor="middle" font-weight="bold" >4</text>
<text x="1443.8" y="347.5" font-size="8" fill="#111" text-anchor="middle" font-weight="bold" >11</text>
<text x="1443.8" y="314.3" font-size="8" fill="#111" text-anchor="middle" font-weight="bold" >16</text>
<text x="1443.8" y="275.0" font-size="8" fill="#111" text-anchor="middle" font-weight="bold" >16</text>
<text x="1443.8" y="250.4" font-size="8" fill="#111" text-anchor="middle" font-weight="bold" >4</text>
<text x="1459.5" y="343.8" font-size="8" fill="#111" text-anchor="middle" font-weight="bold" >14</text>
<text x="1459.5" y="299.6" font-size="8" fill="#111" text-anchor="middle" font-weight="bold" >22</text>
<text x="1459.5" y="254.1" font-size="8" fill="#111" text-anchor="middle" font-weight="bold" >15</text>
<text x="1459.5" y="223.4" font-size="8" fill="#111" text-anchor="middle" font-weight="bold" >10</text>
<text x="1475.2" y="348.7" font-size="8" fill="#111" text-anchor="middle" font-weight="bold" >10</text>
<text x="1475.2" y="325.4" font-size="8" fill="#111" text-anchor="middle" font-weight="bold" >9</text>
<text x="1475.2" y="304.5" font-size="8" fill="#111" text-anchor="middle" font-weight="bold" >8</text>
<text x="1475.2" y="289.7" font-size="8" fill="#111" text-anchor="middle" font-weight="bold" >4</text>
<text x="1491.0" y="356.1" font-size="8" fill="#111" text-anchor="middle" font-weight="bold" >4</text>
<text x="1491.0" y="322.9" font-size="8" fill="#111" text-anchor="middle" font-weight="bold" >23</text>
<text x="1491.0" y="262.7" font-size="8" fill="#111" text-anchor="middle" font-weight="bold" >26</text>
<text x="1491.0" y="216.0" font-size="8" fill="#111" text-anchor="middle" font-weight="bold" >12</text>
<text x="1506.7" y="348.7" font-size="8" fill="#111" text-anchor="middle" font-weight="bold" >10</text>
<text x="1506.7" y="311.8" font-size="8" fill="#111" text-anchor="middle" font-weight="bold" >20</text>
<text x="1506.7" y="256.5" font-size="8" fill="#111" text-anchor="middle" font-weight="bold" >25</text>
<text x="1506.7" y="211.1" font-size="8" fill="#111" text-anchor="middle" font-weight="bold" >12</text>
<text x="1522.4" y="348.7" font-size="8" fill="#111" text-anchor="middle" font-weight="bold" >10</text>
<text x="1522.4" y="326.6" font-size="8" fill="#111" text-anchor="middle" font-weight="bold" >8</text>
<text x="1538.2" y="343.8" font-size="8" fill="#111" text-anchor="middle" font-weight="bold" >14</text>
<text x="1538.2" y="294.6" font-size="8" fill="#111" text-anchor="middle" font-weight="bold" >26</text>
<text x="1538.2" y="245.5" font-size="8" fill="#111" text-anchor="middle" font-weight="bold" >14</text>
<text x="1538.2" y="211.1" font-size="8" fill="#111" text-anchor="middle" font-weight="bold" >14</text>
<text x="1553.9" y="356.1" font-size="8" fill="#111" text-anchor="middle" font-weight="bold" >4</text>
<text x="1553.9" y="324.1" font-size="8" fill="#111" text-anchor="middle" font-weight="bold" >22</text>
<text x="1553.9" y="277.4" font-size="8" fill="#111" text-anchor="middle" font-weight="bold" >16</text>
<text x="1569.6" y="343.8" font-size="8" fill="#111" text-anchor="middle" font-weight="bold" >14</text>
<text x="1569.6" y="297.1" font-size="8" fill="#111" text-anchor="middle" font-weight="bold" >24</text>
<text x="1569.6" y="250.4" font-size="8" fill="#111" text-anchor="middle" font-weight="bold" >14</text>
<text x="1569.6" y="225.8" font-size="8" fill="#111" text-anchor="middle" font-weight="bold" >6</text>
<text x="1585.3" y="342.6" font-size="8" fill="#111" text-anchor="middle" font-weight="bold" >15</text>
<text x="1585.3" y="292.2" font-size="8" fill="#111" text-anchor="middle" font-weight="bold" >26</text>
<text x="1585.3" y="233.2" font-size="8" fill="#111" text-anchor="middle" font-weight="bold" >22</text>
<text x="1585.3" y="193.9" font-size="8" fill="#111" text-anchor="middle" font-weight="bold" >10</text>
<text x="1601.1" y="351.2" font-size="8" fill="#111" text-anchor="middle" font-weight="bold" >8</text>
<text x="1601.1" y="331.5" font-size="8" fill="#111" text-anchor="middle" font-weight="bold" >8</text>
<text x="1601.1" y="302.0" font-size="8" fill="#111" text-anchor="middle" font-weight="bold" >16</text>
<text x="1601.1" y="270.1" font-size="8" fill="#111" text-anchor="middle" font-weight="bold" >10</text>
<text x="1616.8" y="353.6" font-size="8" fill="#111" text-anchor="middle" font-weight="bold" >6</text>
<text x="1616.8" y="331.5" font-size="8" fill="#111" text-anchor="middle" font-weight="bold" >12</text>
<text x="1616.8" y="294.6" font-size="8" fill="#111" text-anchor="middle" font-weight="bold" >18</text>
<text x="1632.5" y="351.2" font-size="8" fill="#111" text-anchor="middle" font-weight="bold" >8</text>
<text x="1632.5" y="318.0" font-size="8" fill="#111" text-anchor="middle" font-weight="bold" >19</text>
<text x="1632.5" y="262.7" font-size="8" fill="#111" text-anchor="middle" font-weight="bold" >26</text>
<text x="1632.5" y="225.8" font-size="8" fill="#111" text-anchor="middle" font-weight="bold" >4</text>
<text x="1648.3" y="346.3" font-size="8" fill="#111" text-anchor="middle" font-weight="bold" >12</text>
<text x="1648.3" y="311.8" font-size="8" fill="#111" text-anchor="middle" font-weight="bold" >16</text>
<text x="1648.3" y="271.3" font-size="8" fill="#111" text-anchor="middle" font-weight="bold" >17</text>
<text x="1648.3" y="238.1" font-size="8" fill="#111" text-anchor="middle" font-weight="bold" >10</text>
<text x="1664.0" y="351.2" font-size="8" fill="#111" text-anchor="middle" font-weight="bold" >8</text>
<text x="1664.0" y="311.8" font-size="8" fill="#111" text-anchor="middle" font-weight="bold" >24</text>
<text x="1664.0" y="251.6" font-size="8" fill="#111" text-anchor="middle" font-weight="bold" >25</text>
<text x="1664.0" y="216.0" font-size="8" fill="#111" text-anchor="middle" font-weight="bold" >4</text>
<text x="1679.7" y="341.3" font-size="8" fill="#111" text-anchor="middle" font-weight="bold" >16</text>
<text x="1679.7" y="297.1" font-size="8" fill="#111" text-anchor="middle" font-weight="bold" >20</text>
<text x="1679.7" y="246.7" font-size="8" fill="#111" text-anchor="middle" font-weight="bold" >21</text>
<text x="1679.7" y="209.8" font-size="8" fill="#111" text-anchor="middle" font-weight="bold" >9</text>
<text x="1695.5" y="356.1" font-size="8" fill="#111" text-anchor="middle" font-weight="bold" >4</text>
<text x="1695.5" y="338.9" font-size="8" fill="#111" text-anchor="middle" font-weight="bold" >10</text>
<text x="1695.5" y="318.0" font-size="8" fill="#111" text-anchor="middle" font-weight="bold" >7</text>
<text x="1711.2" y="353.6" font-size="8" fill="#111" text-anchor="middle" font-weight="bold" >6</text>
<text x="1711.2" y="329.0" font-size="8" fill="#111" text-anchor="middle" font-weight="bold" >14</text>
<text x="1711.2" y="291.0" font-size="8" fill="#111" text-anchor="middle" font-weight="bold" >17</text>
<text x="1022.1" y="367.0" font-size="8.5" fill="#111" text-anchor="end" font-weight="bold" textLength="49.3" lengthAdjust="spacingAndGlyphs" transform="rotate(-90 1022.1 367)">ابراهيم التميمي</text>
<text x="1037.8" y="367.0" font-size="8.5" fill="#111" text-anchor="end" font-weight="bold" textLength="51.8" lengthAdjust="spacingAndGlyphs" transform="rotate(-90 1037.8 367)">ابراهيم المطيري</text>
<text x="1053.5" y="367.0" font-size="8.5" fill="#111" text-anchor="end" font-weight="bold" textLength="37.1" lengthAdjust="spacingAndGlyphs" transform="rotate(-90 1053.5 367)">أشواق ناصر</text>
<text x="1069.3" y="367.0" font-size="8.5" fill="#111" text-anchor="end" font-weight="bold" textLength="45.4" lengthAdjust="spacingAndGlyphs" transform="rotate(-90 1069.3 367)">افراح الرشيدي</text>
<text x="1085.0" y="367.0" font-size="8.5" fill="#111" text-anchor="end" font-weight="bold" textLength="47.4" lengthAdjust="spacingAndGlyphs" transform="rotate(-90 1085.0 367)">الجوهره العنزي</text>
<text x="1100.7" y="367.0" font-size="8.5" fill="#111" text-anchor="end" font-weight="bold" textLength="42.2" lengthAdjust="spacingAndGlyphs" transform="rotate(-90 1100.7 367)">انتصار العنزي</text>
<text x="1116.4" y="367.0" font-size="8.5" fill="#111" text-anchor="end" font-weight="bold" textLength="29.4" lengthAdjust="spacingAndGlyphs" transform="rotate(-90 1116.4 367)">بسام نيار</text>
<text x="1132.2" y="367.0" font-size="8.5" fill="#111" text-anchor="end" font-weight="bold" textLength="48.0" lengthAdjust="spacingAndGlyphs" transform="rotate(-90 1132.2 367)">حزام القحطاني</text>
<text x="1147.9" y="367.0" font-size="8.5" fill="#111" text-anchor="end" font-weight="bold" textLength="46.1" lengthAdjust="spacingAndGlyphs" transform="rotate(-90 1147.9 367)">حمد القحطاني</text>
<text x="1163.6" y="367.0" font-size="8.5" fill="#111" text-anchor="end" font-weight="bold" textLength="41.0" lengthAdjust="spacingAndGlyphs" transform="rotate(-90 1163.6 367)">خالد الشعلان</text>
<text x="1179.4" y="367.0" font-size="8.5" fill="#111" text-anchor="end" font-weight="bold" textLength="32.0" lengthAdjust="spacingAndGlyphs" transform="rotate(-90 1179.4 367)">خالد شاكر</text>
<text x="1195.1" y="367.0" font-size="8.5" fill="#111" text-anchor="end" font-weight="bold" textLength="39.0" lengthAdjust="spacingAndGlyphs" transform="rotate(-90 1195.1 367)">خلود البياعي</text>
<text x="1210.8" y="367.0" font-size="8.5" fill="#111" text-anchor="end" font-weight="bold" textLength="47.4" lengthAdjust="spacingAndGlyphs" transform="rotate(-90 1210.8 367)">خلود القحطاني</text>
<text x="1226.6" y="367.0" font-size="8.5" fill="#111" text-anchor="end" font-weight="bold" textLength="35.8" lengthAdjust="spacingAndGlyphs" transform="rotate(-90 1226.6 367)">ريم العتيبي</text>
<text x="1242.3" y="367.0" font-size="8.5" fill="#111" text-anchor="end" font-weight="bold" textLength="41.0" lengthAdjust="spacingAndGlyphs" transform="rotate(-90 1242.3 367)">سحر الحارثي</text>
<text x="1258.0" y="367.0" font-size="8.5" fill="#111" text-anchor="end" font-weight="bold" textLength="41.0" lengthAdjust="spacingAndGlyphs" transform="rotate(-90 1258.0 367)">سعد الشهري</text>
<text x="1273.7" y="367.0" font-size="8.5" fill="#111" text-anchor="end" font-weight="bold" textLength="43.5" lengthAdjust="spacingAndGlyphs" transform="rotate(-90 1273.7 367)">سعد الصاعدي</text>
<text x="1289.5" y="367.0" font-size="8.5" fill="#111" text-anchor="end" font-weight="bold" textLength="47.4" lengthAdjust="spacingAndGlyphs" transform="rotate(-90 1289.5 367)">سعود العصيمي</text>
<text x="1305.2" y="367.0" font-size="8.5" fill="#111" text-anchor="end" font-weight="bold" textLength="48.6" lengthAdjust="spacingAndGlyphs" transform="rotate(-90 1305.2 367)">سعيد الشهراني</text>
<text x="1320.9" y="367.0" font-size="8.5" fill="#111" text-anchor="end" font-weight="bold" textLength="41.6" lengthAdjust="spacingAndGlyphs" transform="rotate(-90 1320.9 367)">شاهر العتيبي</text>
<text x="1336.7" y="367.0" font-size="8.5" fill="#111" text-anchor="end" font-weight="bold" textLength="42.2" lengthAdjust="spacingAndGlyphs" transform="rotate(-90 1336.7 367)">عايض الاكلبي</text>
<text x="1352.4" y="367.0" font-size="8.5" fill="#111" text-anchor="end" font-weight="bold" textLength="55.0" lengthAdjust="spacingAndGlyphs" transform="rotate(-90 1352.4 367)">عبد العزيز الحربي</text>
<text x="1368.1" y="367.0" font-size="8.5" fill="#111" text-anchor="end" font-weight="bold" textLength="39.7" lengthAdjust="spacingAndGlyphs" transform="rotate(-90 1368.1 367)">عبير القاضي</text>
<text x="1383.9" y="367.0" font-size="8.5" fill="#111" text-anchor="end" font-weight="bold" textLength="39.0" lengthAdjust="spacingAndGlyphs" transform="rotate(-90 1383.9 367)">علي عبد الله</text>
<text x="1399.6" y="367.0" font-size="8.5" fill="#111" text-anchor="end" font-weight="bold" textLength="37.1" lengthAdjust="spacingAndGlyphs" transform="rotate(-90 1399.6 367)">عناد العتيبي</text>
<text x="1415.3" y="367.0" font-size="8.5" fill="#111" text-anchor="end" font-weight="bold" textLength="35.2" lengthAdjust="spacingAndGlyphs" transform="rotate(-90 1415.3 367)">عيد العتيبي</text>
<text x="1431.0" y="367.0" font-size="8.5" fill="#111" text-anchor="end" font-weight="bold" textLength="37.1" lengthAdjust="spacingAndGlyphs" transform="rotate(-90 1431.0 367)">غنيم العنزي</text>
<text x="1446.8" y="367.0" font-size="8.5" fill="#111" text-anchor="end" font-weight="bold" textLength="43.5" lengthAdjust="spacingAndGlyphs" transform="rotate(-90 1446.8 367)">فرحان العنزي</text>
<text x="1462.5" y="367.0" font-size="8.5" fill="#111" text-anchor="end" font-weight="bold" textLength="42.9" lengthAdjust="spacingAndGlyphs" transform="rotate(-90 1462.5 367)">فهد الدوسري</text>
<text x="1478.2" y="367.0" font-size="8.5" fill="#111" text-anchor="end" font-weight="bold" textLength="44.8" lengthAdjust="spacingAndGlyphs" transform="rotate(-90 1478.2 367)">فهد الطويلعي</text>
<text x="1494.0" y="367.0" font-size="8.5" fill="#111" text-anchor="end" font-weight="bold" textLength="38.4" lengthAdjust="spacingAndGlyphs" transform="rotate(-90 1494.0 367)">فهد العثمان</text>
<text x="1509.7" y="367.0" font-size="8.5" fill="#111" text-anchor="end" font-weight="bold" textLength="35.2" lengthAdjust="spacingAndGlyphs" transform="rotate(-90 1509.7 367)">فهد العنزي</text>
<text x="1525.4" y="367.0" font-size="8.5" fill="#111" text-anchor="end" font-weight="bold" textLength="42.2" lengthAdjust="spacingAndGlyphs" transform="rotate(-90 1525.4 367)">فهد المطيري</text>
<text x="1541.2" y="367.0" font-size="8.5" fill="#111" text-anchor="end" font-weight="bold" textLength="43.5" lengthAdjust="spacingAndGlyphs" transform="rotate(-90 1541.2 367)">فيصل العتيبي</text>
<text x="1556.9" y="367.0" font-size="8.5" fill="#111" text-anchor="end" font-weight="bold" textLength="40.3" lengthAdjust="spacingAndGlyphs" transform="rotate(-90 1556.9 367)">قيس العتيبي</text>
<text x="1572.6" y="367.0" font-size="8.5" fill="#111" text-anchor="end" font-weight="bold" textLength="48.6" lengthAdjust="spacingAndGlyphs" transform="rotate(-90 1572.6 367)">لطيفة الرشيدي</text>
<text x="1588.3" y="367.0" font-size="8.5" fill="#111" text-anchor="end" font-weight="bold" textLength="39.7" lengthAdjust="spacingAndGlyphs" transform="rotate(-90 1588.3 367)">محسن البكار</text>
<text x="1604.1" y="367.0" font-size="8.5" fill="#111" text-anchor="end" font-weight="bold" textLength="43.5" lengthAdjust="spacingAndGlyphs" transform="rotate(-90 1604.1 367)">مرام المطيري</text>
<text x="1619.8" y="367.0" font-size="8.5" fill="#111" text-anchor="end" font-weight="bold" textLength="39.7" lengthAdjust="spacingAndGlyphs" transform="rotate(-90 1619.8 367)">منى الشريف</text>
<text x="1635.5" y="367.0" font-size="8.5" fill="#111" text-anchor="end" font-weight="bold" textLength="44.8" lengthAdjust="spacingAndGlyphs" transform="rotate(-90 1635.5 367)">نايف الزهراني</text>
<text x="1651.3" y="367.0" font-size="8.5" fill="#111" text-anchor="end" font-weight="bold" textLength="45.4" lengthAdjust="spacingAndGlyphs" transform="rotate(-90 1651.3 367)">نايف العصيمي</text>
<text x="1667.0" y="367.0" font-size="8.5" fill="#111" text-anchor="end" font-weight="bold" textLength="41.0" lengthAdjust="spacingAndGlyphs" transform="rotate(-90 1667.0 367)">نايف الرقاص</text>
<text x="1682.7" y="367.0" font-size="8.5" fill="#111" text-anchor="end" font-weight="bold" textLength="44.8" lengthAdjust="spacingAndGlyphs" transform="rotate(-90 1682.7 367)">هاني الاسمري</text>
<text x="1698.5" y="367.0" font-size="8.5" fill="#111" text-anchor="end" font-weight="bold" textLength="41.0" lengthAdjust="spacingAndGlyphs" transform="rotate(-90 1698.5 367)">هند المغامس</text>
<text x="1714.2" y="367.0" font-size="8.5" fill="#111" text-anchor="end" font-weight="bold" textLength="37.1" lengthAdjust="spacingAndGlyphs" transform="rotate(-90 1714.2 367)">وليد العتيبي</text>
<text x="1729.9" y="367.0" font-size="8.5" fill="#111" text-anchor="end" font-weight="bold" textLength="30.0" lengthAdjust="spacingAndGlyphs" transform="rotate(-90 1729.9 367)">(blank)</text>
<rect x="1753" y="233.0" width="6" height="6" fill="#cfeccf" stroke="#6cc46c" stroke-width="0.9"/>
<text x="1762.5" y="239.5" font-size="10.5" fill="#595959" text-anchor="start" font-weight="normal" textLength="34.4" lengthAdjust="spacingAndGlyphs" direction="ltr">(blank)</text>
<rect x="1753" y="249.7" width="6" height="6" fill="url(#g4)" stroke="#2ec596" stroke-width="0.9"/>
<text x="1762.5" y="256.2" font-size="10.5" fill="#595959" text-anchor="start" font-weight="normal" textLength="48" lengthAdjust="spacingAndGlyphs" direction="ltr">الأسبوع الرابع</text>
<rect x="1753" y="266.4" width="6" height="6" fill="url(#g3)" stroke="#1ec0d2" stroke-width="0.9"/>
<text x="1762.5" y="272.9" font-size="10.5" fill="#595959" text-anchor="start" font-weight="normal" textLength="48" lengthAdjust="spacingAndGlyphs" direction="ltr">الأسبوع الثالث</text>
<rect x="1753" y="283.1" width="6" height="6" fill="url(#g2)" stroke="#2f8fd6" stroke-width="0.9"/>
<text x="1762.5" y="289.6" font-size="10.5" fill="#595959" text-anchor="start" font-weight="normal" textLength="48" lengthAdjust="spacingAndGlyphs" direction="ltr">الأسبوع الثاني</text>
<rect x="1753" y="299.8" width="6" height="6" fill="url(#g1)" stroke="#4677c7" stroke-width="0.9"/>
<text x="1762.5" y="306.3" font-size="10.5" fill="#595959" text-anchor="start" font-weight="normal" textLength="48" lengthAdjust="spacingAndGlyphs" direction="ltr">الأسبوع الأول</text>
<text x="1390.0" y="467.0" font-size="13" fill="#222" text-anchor="middle" font-weight="normal" textLength="262" lengthAdjust="spacingAndGlyphs" >اجمالي المده الأيام التي عمل فيها الموظف لكل الاسبوع</text>
<text x="1016.0" y="714.1" font-size="10.5" fill="#111" text-anchor="end" font-weight="bold" >0</text>
<text x="1016.0" y="669.7" font-size="10.5" fill="#111" text-anchor="end" font-weight="bold" >10</text>
<text x="1016.0" y="625.3" font-size="10.5" fill="#111" text-anchor="end" font-weight="bold" >20</text>
<text x="1016.0" y="580.9" font-size="10.5" fill="#111" text-anchor="end" font-weight="bold" >30</text>
<text x="1016.0" y="536.5" font-size="10.5" fill="#111" text-anchor="end" font-weight="bold" >40</text>
<text x="1016.0" y="492.1" font-size="10.5" fill="#111" text-anchor="end" font-weight="bold" >50</text>
<text x="1016.0" y="447.7" font-size="10.5" fill="#111" text-anchor="end" font-weight="bold" >60</text>
<rect x="966" y="441" width="43.700000000000045" height="8.699999999999989" fill="url(#btn)"/>
<text x="987.9" y="447.4" font-size="6" fill="#444" text-anchor="middle" font-weight="normal" textLength="34.960000000000036" lengthAdjust="spacingAndGlyphs" >Sum of المدة</text>
<rect x="1027.9" y="710.3" width="723.1" height="1" fill="#d0d0d0"/>
<rect x="1030.2" y="665.9" width="11.2" height="44.4" fill="url(#g1)" stroke="#4677c7" stroke-width="1"/>
<rect x="1030.2" y="603.7" width="11.2" height="62.2" fill="url(#g2)" stroke="#2f8fd6" stroke-width="1"/>
<rect x="1030.2" y="541.6" width="11.2" height="62.2" fill="url(#g3)" stroke="#1ec0d2" stroke-width="1"/>
<rect x="1030.2" y="537.1" width="11.2" height="4.4" fill="url(#g4)" stroke="#2ec596" stroke-width="1"/>
<rect x="1045.9" y="657.0" width="11.2" height="53.3" fill="url(#g1)" stroke="#4677c7" stroke-width="1"/>
<rect x="1045.9" y="594.9" width="11.2" height="62.2" fill="url(#g2)" stroke="#2f8fd6" stroke-width="1"/>
<rect x="1045.9" y="532.7" width="11.2" height="62.2" fill="url(#g3)" stroke="#1ec0d2" stroke-width="1"/>
<rect x="1045.9" y="528.3" width="11.2" height="4.4" fill="url(#g4)" stroke="#2ec596" stroke-width="1"/>
<rect x="1061.6" y="683.7" width="11.2" height="26.6" fill="url(#g3)" stroke="#1ec0d2" stroke-width="1"/>
<rect x="1077.3" y="692.5" width="11.2" height="17.8" fill="url(#g2)" stroke="#2f8fd6" stroke-width="1"/>
<rect x="1077.3" y="674.8" width="11.2" height="17.8" fill="url(#g3)" stroke="#1ec0d2" stroke-width="1"/>
<rect x="1077.3" y="657.0" width="11.2" height="17.8" fill="url(#g4)" stroke="#2ec596" stroke-width="1"/>
<rect x="1093.0" y="657.0" width="11.2" height="53.3" fill="url(#g1)" stroke="#4677c7" stroke-width="1"/>
<rect x="1093.0" y="586.0" width="11.2" height="71.0" fill="url(#g2)" stroke="#2f8fd6" stroke-width="1"/>
<rect x="1093.0" y="514.9" width="11.2" height="71.0" fill="url(#g3)" stroke="#1ec0d2" stroke-width="1"/>
<rect x="1093.0" y="492.7" width="11.2" height="22.2" fill="url(#g4)" stroke="#2ec596" stroke-width="1"/>
<rect x="1108.8" y="665.9" width="11.2" height="44.4" fill="url(#g1)" stroke="#4677c7" stroke-width="1"/>
<rect x="1108.8" y="594.9" width="11.2" height="71.0" fill="url(#g2)" stroke="#2f8fd6" stroke-width="1"/>
<rect x="1108.8" y="523.8" width="11.2" height="71.0" fill="url(#g3)" stroke="#1ec0d2" stroke-width="1"/>
<rect x="1108.8" y="506.1" width="11.2" height="17.8" fill="url(#g4)" stroke="#2ec596" stroke-width="1"/>
<rect x="1124.5" y="683.7" width="11.2" height="26.6" fill="url(#g1)" stroke="#4677c7" stroke-width="1"/>
<rect x="1124.5" y="612.6" width="11.2" height="71.0" fill="url(#g2)" stroke="#2f8fd6" stroke-width="1"/>
<rect x="1124.5" y="550.5" width="11.2" height="62.2" fill="url(#g3)" stroke="#1ec0d2" stroke-width="1"/>
<rect x="1124.5" y="546.0" width="11.2" height="4.4" fill="url(#g4)" stroke="#2ec596" stroke-width="1"/>
<rect x="1140.2" y="683.7" width="11.2" height="26.6" fill="url(#g1)" stroke="#4677c7" stroke-width="1"/>
<rect x="1140.2" y="612.6" width="11.2" height="71.0" fill="url(#g2)" stroke="#2f8fd6" stroke-width="1"/>
<rect x="1140.2" y="550.5" width="11.2" height="62.2" fill="url(#g3)" stroke="#1ec0d2" stroke-width="1"/>
<rect x="1140.2" y="537.1" width="11.2" height="13.3" fill="url(#g4)" stroke="#2ec596" stroke-width="1"/>
<rect x="1155.9" y="683.7" width="11.2" height="26.6" fill="url(#g1)" stroke="#4677c7" stroke-width="1"/>
<rect x="1155.9" y="639.3" width="11.2" height="44.4" fill="url(#g2)" stroke="#2f8fd6" stroke-width="1"/>
<rect x="1155.9" y="594.9" width="11.2" height="44.4" fill="url(#g3)" stroke="#1ec0d2" stroke-width="1"/>
<rect x="1155.9" y="590.4" width="11.2" height="4.4" fill="url(#g4)" stroke="#2ec596" stroke-width="1"/>
<rect x="1171.6" y="665.9" width="11.2" height="44.4" fill="url(#g1)" stroke="#4677c7" stroke-width="1"/>
<rect x="1171.6" y="603.7" width="11.2" height="62.2" fill="url(#g2)" stroke="#2f8fd6" stroke-width="1"/>
<rect x="1171.6" y="541.6" width="11.2" height="62.2" fill="url(#g3)" stroke="#1ec0d2" stroke-width="1"/>
<rect x="1171.6" y="519.4" width="11.2" height="22.2" fill="url(#g4)" stroke="#2ec596" stroke-width="1"/>
<rect x="1187.4" y="665.9" width="11.2" height="44.4" fill="url(#g1)" stroke="#4677c7" stroke-width="1"/>
<rect x="1187.4" y="603.7" width="11.2" height="62.2" fill="url(#g2)" stroke="#2f8fd6" stroke-width="1"/>
<rect x="1187.4" y="568.2" width="11.2" height="35.5" fill="url(#g3)" stroke="#1ec0d2" stroke-width="1"/>
<rect x="1187.4" y="546.0" width="11.2" height="22.2" fill="url(#g4)" stroke="#2ec596" stroke-width="1"/>
<rect x="1203.1" y="665.9" width="11.2" height="44.4" fill="url(#g1)" stroke="#4677c7" stroke-width="1"/>
<rect x="1203.1" y="594.9" width="11.2" height="71.0" fill="url(#g2)" stroke="#2f8fd6" stroke-width="1"/>
<rect x="1203.1" y="532.7" width="11.2" height="62.2" fill="url(#g3)" stroke="#1ec0d2" stroke-width="1"/>
<rect x="1203.1" y="510.5" width="11.2" height="22.2" fill="url(#g4)" stroke="#2ec596" stroke-width="1"/>
<rect x="1218.8" y="665.9" width="11.2" height="44.4" fill="url(#g1)" stroke="#4677c7" stroke-width="1"/>
<rect x="1218.8" y="603.7" width="11.2" height="62.2" fill="url(#g2)" stroke="#2f8fd6" stroke-width="1"/>
<rect x="1218.8" y="568.2" width="11.2" height="35.5" fill="url(#g3)" stroke="#1ec0d2" stroke-width="1"/>
<rect x="1218.8" y="546.0" width="11.2" height="22.2" fill="url(#g4)" stroke="#2ec596" stroke-width="1"/>
<rect x="1234.5" y="683.7" width="11.2" height="26.6" fill="url(#g1)" stroke="#4677c7" stroke-width="1"/>
<rect x="1234.5" y="639.3" width="11.2" height="44.4" fill="url(#g2)" stroke="#2f8fd6" stroke-width="1"/>
<rect x="1234.5" y="594.9" width="11.2" height="44.4" fill="url(#g3)" stroke="#1ec0d2" stroke-width="1"/>
<rect x="1234.5" y="577.1" width="11.2" height="17.8" fill="url(#g4)" stroke="#2ec596" stroke-width="1"/>
<rect x="1250.2" y="652.6" width="11.2" height="57.7" fill="url(#g1)" stroke="#4677c7" stroke-width="1"/>
<rect x="1250.2" y="590.4" width="11.2" height="62.2" fill="url(#g2)" stroke="#2f8fd6" stroke-width="1"/>
<rect x="1250.2" y="528.3" width="11.2" height="62.2" fill="url(#g3)" stroke="#1ec0d2" stroke-width="1"/>
<rect x="1250.2" y="510.5" width="11.2" height="17.8" fill="url(#g4)" stroke="#2ec596" stroke-width="1"/>
<rect x="1266.0" y="683.7" width="11.2" height="26.6" fill="url(#g1)" stroke="#4677c7" stroke-width="1"/>
<rect x="1266.0" y="630.4" width="11.2" height="53.3" fill="url(#g2)" stroke="#2f8fd6" stroke-width="1"/>
<rect x="1266.0" y="577.1" width="11.2" height="53.3" fill="url(#g3)" stroke="#1ec0d2" stroke-width="1"/>
<rect x="1281.7" y="665.9" width="11.2" height="44.4" fill="url(#g1)" stroke="#4677c7" stroke-width="1"/>
<rect x="1281.7" y="603.7" width="11.2" height="62.2" fill="url(#g2)" stroke="#2f8fd6" stroke-width="1"/>
<rect x="1281.7" y="541.6" width="11.2" height="62.2" fill="url(#g3)" stroke="#1ec0d2" stroke-width="1"/>
<rect x="1281.7" y="537.1" width="11.2" height="4.4" fill="url(#g4)" stroke="#2ec596" stroke-width="1"/>
<rect x="1297.4" y="665.9" width="11.2" height="44.4" fill="url(#g1)" stroke="#4677c7" stroke-width="1"/>
<rect x="1297.4" y="603.7" width="11.2" height="62.2" fill="url(#g2)" stroke="#2f8fd6" stroke-width="1"/>
<rect x="1297.4" y="541.6" width="11.2" height="62.2" fill="url(#g3)" stroke="#1ec0d2" stroke-width="1"/>
<rect x="1297.4" y="519.4" width="11.2" height="22.2" fill="url(#g4)" stroke="#2ec596" stroke-width="1"/>
<rect x="1313.1" y="665.9" width="11.2" height="44.4" fill="url(#g1)" stroke="#4677c7" stroke-width="1"/>
<rect x="1313.1" y="603.7" width="11.2" height="62.2" fill="url(#g2)" stroke="#2f8fd6" stroke-width="1"/>
<rect x="1313.1" y="541.6" width="11.2" height="62.2" fill="url(#g3)" stroke="#1ec0d2" stroke-width="1"/>
<rect x="1313.1" y="519.4" width="11.2" height="22.2" fill="url(#g4)" stroke="#2ec596" stroke-width="1"/>
<rect x="1328.8" y="665.9" width="11.2" height="44.4" fill="url(#g1)" stroke="#4677c7" stroke-width="1"/>
<rect x="1328.8" y="621.5" width="11.2" height="44.4" fill="url(#g2)" stroke="#2f8fd6" stroke-width="1"/>
<rect x="1328.8" y="577.1" width="11.2" height="44.4" fill="url(#g3)" stroke="#1ec0d2" stroke-width="1"/>
<rect x="1328.8" y="554.9" width="11.2" height="22.2" fill="url(#g4)" stroke="#2ec596" stroke-width="1"/>
<rect x="1344.6" y="665.9" width="11.2" height="44.4" fill="url(#g1)" stroke="#4677c7" stroke-width="1"/>
<rect x="1344.6" y="603.7" width="11.2" height="62.2" fill="url(#g2)" stroke="#2f8fd6" stroke-width="1"/>
<rect x="1344.6" y="541.6" width="11.2" height="62.2" fill="url(#g3)" stroke="#1ec0d2" stroke-width="1"/>
<rect x="1360.3" y="679.2" width="11.2" height="31.1" fill="url(#g1)" stroke="#4677c7" stroke-width="1"/>
<rect x="1360.3" y="643.7" width="11.2" height="35.5" fill="url(#g2)" stroke="#2f8fd6" stroke-width="1"/>
<rect x="1360.3" y="608.2" width="11.2" height="35.5" fill="url(#g3)" stroke="#1ec0d2" stroke-width="1"/>
<rect x="1360.3" y="590.4" width="11.2" height="17.8" fill="url(#g4)" stroke="#2ec596" stroke-width="1"/>
<rect x="1376.0" y="665.9" width="11.2" height="44.4" fill="url(#g1)" stroke="#4677c7" stroke-width="1"/>
<rect x="1376.0" y="603.7" width="11.2" height="62.2" fill="url(#g2)" stroke="#2f8fd6" stroke-width="1"/>
<rect x="1376.0" y="568.2" width="11.2" height="35.5" fill="url(#g3)" stroke="#1ec0d2" stroke-width="1"/>
<rect x="1376.0" y="546.0" width="11.2" height="22.2" fill="url(#g4)" stroke="#2ec596" stroke-width="1"/>
<rect x="1391.7" y="665.9" width="11.2" height="44.4" fill="url(#g1)" stroke="#4677c7" stroke-width="1"/>
<rect x="1391.7" y="621.5" width="11.2" height="44.4" fill="url(#g2)" stroke="#2f8fd6" stroke-width="1"/>
<rect x="1391.7" y="577.1" width="11.2" height="44.4" fill="url(#g3)" stroke="#1ec0d2" stroke-width="1"/>
<rect x="1391.7" y="559.3" width="11.2" height="17.8" fill="url(#g4)" stroke="#2ec596" stroke-width="1"/>
<rect x="1407.4" y="648.1" width="11.2" height="62.2" fill="url(#g1)" stroke="#4677c7" stroke-width="1"/>
<rect x="1407.4" y="586.0" width="11.2" height="62.2" fill="url(#g2)" stroke="#2f8fd6" stroke-width="1"/>
<rect x="1407.4" y="523.8" width="11.2" height="62.2" fill="url(#g3)" stroke="#1ec0d2" stroke-width="1"/>
<rect x="1407.4" y="501.6" width="11.2" height="22.2" fill="url(#g4)" stroke="#2ec596" stroke-width="1"/>
<rect x="1423.2" y="665.9" width="11.2" height="44.4" fill="url(#g1)" stroke="#4677c7" stroke-width="1"/>
<rect x="1423.2" y="621.5" width="11.2" height="44.4" fill="url(#g2)" stroke="#2f8fd6" stroke-width="1"/>
<rect x="1423.2" y="577.1" width="11.2" height="44.4" fill="url(#g3)" stroke="#1ec0d2" stroke-width="1"/>
<rect x="1423.2" y="554.9" width="11.2" height="22.2" fill="url(#g4)" stroke="#2ec596" stroke-width="1"/>
<rect x="1438.9" y="665.9" width="11.2" height="44.4" fill="url(#g1)" stroke="#4677c7" stroke-width="1"/>
<rect x="1438.9" y="621.5" width="11.2" height="44.4" fill="url(#g2)" stroke="#2f8fd6" stroke-width="1"/>
<rect x="1438.9" y="577.1" width="11.2" height="44.4" fill="url(#g3)" stroke="#1ec0d2" stroke-width="1"/>
<rect x="1438.9" y="559.3" width="11.2" height="17.8" fill="url(#g4)" stroke="#2ec596" stroke-width="1"/>
<rect x="1454.6" y="665.9" width="11.2" height="44.4" fill="url(#g1)" stroke="#4677c7" stroke-width="1"/>
<rect x="1454.6" y="603.7" width="11.2" height="62.2" fill="url(#g2)" stroke="#2f8fd6" stroke-width="1"/>
<rect x="1454.6" y="541.6" width="11.2" height="62.2" fill="url(#g3)" stroke="#1ec0d2" stroke-width="1"/>
<rect x="1454.6" y="523.8" width="11.2" height="17.8" fill="url(#g4)" stroke="#2ec596" stroke-width="1"/>
<rect x="1470.3" y="665.9" width="11.2" height="44.4" fill="url(#g1)" stroke="#4677c7" stroke-width="1"/>
<rect x="1470.3" y="603.7" width="11.2" height="62.2" fill="url(#g2)" stroke="#2f8fd6" stroke-width="1"/>
<rect x="1470.3" y="568.2" width="11.2" height="35.5" fill="url(#g3)" stroke="#1ec0d2" stroke-width="1"/>
<rect x="1470.3" y="546.0" width="11.2" height="22.2" fill="url(#g4)" stroke="#2ec596" stroke-width="1"/>
<rect x="1486.0" y="674.8" width="11.2" height="35.5" fill="url(#g1)" stroke="#4677c7" stroke-width="1"/>
<rect x="1486.0" y="643.7" width="11.2" height="31.1" fill="url(#g2)" stroke="#2f8fd6" stroke-width="1"/>
<rect x="1486.0" y="612.6" width="11.2" height="31.1" fill="url(#g3)" stroke="#1ec0d2" stroke-width="1"/>
<rect x="1486.0" y="594.9" width="11.2" height="17.8" fill="url(#g4)" stroke="#2ec596" stroke-width="1"/>
<rect x="1501.8" y="683.7" width="11.2" height="26.6" fill="url(#g1)" stroke="#4677c7" stroke-width="1"/>
<rect x="1501.8" y="639.3" width="11.2" height="44.4" fill="url(#g2)" stroke="#2f8fd6" stroke-width="1"/>
<rect x="1501.8" y="594.9" width="11.2" height="44.4" fill="url(#g3)" stroke="#1ec0d2" stroke-width="1"/>
<rect x="1501.8" y="581.5" width="11.2" height="13.3" fill="url(#g4)" stroke="#2ec596" stroke-width="1"/>
<rect x="1517.5" y="683.7" width="11.2" height="26.6" fill="url(#g1)" stroke="#4677c7" stroke-width="1"/>
<rect x="1517.5" y="639.3" width="11.2" height="44.4" fill="url(#g2)" stroke="#2f8fd6" stroke-width="1"/>
<rect x="1517.5" y="594.9" width="11.2" height="44.4" fill="url(#g3)" stroke="#1ec0d2" stroke-width="1"/>
<rect x="1517.5" y="581.5" width="11.2" height="13.3" fill="url(#g4)" stroke="#2ec596" stroke-width="1"/>
<rect x="1533.2" y="683.7" width="11.2" height="26.6" fill="url(#g1)" stroke="#4677c7" stroke-width="1"/>
<rect x="1533.2" y="657.0" width="11.2" height="26.6" fill="url(#g2)" stroke="#2f8fd6" stroke-width="1"/>
<rect x="1548.9" y="665.9" width="11.2" height="44.4" fill="url(#g1)" stroke="#4677c7" stroke-width="1"/>
<rect x="1548.9" y="603.7" width="11.2" height="62.2" fill="url(#g2)" stroke="#2f8fd6" stroke-width="1"/>
<rect x="1548.9" y="559.3" width="11.2" height="44.4" fill="url(#g3)" stroke="#1ec0d2" stroke-width="1"/>
<rect x="1548.9" y="537.1" width="11.2" height="22.2" fill="url(#g4)" stroke="#2ec596" stroke-width="1"/>
<rect x="1564.6" y="683.7" width="11.2" height="26.6" fill="url(#g1)" stroke="#4677c7" stroke-width="1"/>
<rect x="1564.6" y="630.4" width="11.2" height="53.3" fill="url(#g2)" stroke="#2f8fd6" stroke-width="1"/>
<rect x="1564.6" y="586.0" width="11.2" height="44.4" fill="url(#g3)" stroke="#1ec0d2" stroke-width="1"/>
<rect x="1580.4" y="665.9" width="11.2" height="44.4" fill="url(#g1)" stroke="#4677c7" stroke-width="1"/>
<rect x="1580.4" y="603.7" width="11.2" height="62.2" fill="url(#g2)" stroke="#2f8fd6" stroke-width="1"/>
<rect x="1580.4" y="559.3" width="11.2" height="44.4" fill="url(#g3)" stroke="#1ec0d2" stroke-width="1"/>
<rect x="1580.4" y="541.6" width="11.2" height="17.8" fill="url(#g4)" stroke="#2ec596" stroke-width="1"/>
<rect x="1596.1" y="665.9" width="11.2" height="44.4" fill="url(#g1)" stroke="#4677c7" stroke-width="1"/>
<rect x="1596.1" y="603.7" width="11.2" height="62.2" fill="url(#g2)" stroke="#2f8fd6" stroke-width="1"/>
<rect x="1596.1" y="541.6" width="11.2" height="62.2" fill="url(#g3)" stroke="#1ec0d2" stroke-width="1"/>
<rect x="1596.1" y="519.4" width="11.2" height="22.2" fill="url(#g4)" stroke="#2ec596" stroke-width="1"/>
<rect x="1611.8" y="683.7" width="11.2" height="26.6" fill="url(#g1)" stroke="#4677c7" stroke-width="1"/>
<rect x="1611.8" y="657.0" width="11.2" height="26.6" fill="url(#g2)" stroke="#2f8fd6" stroke-width="1"/>
<rect x="1611.8" y="612.6" width="11.2" height="44.4" fill="url(#g3)" stroke="#1ec0d2" stroke-width="1"/>
<rect x="1611.8" y="594.9" width="11.2" height="17.8" fill="url(#g4)" stroke="#2ec596" stroke-width="1"/>
<rect x="1627.5" y="692.5" width="11.2" height="17.8" fill="url(#g1)" stroke="#4677c7" stroke-width="1"/>
<rect x="1627.5" y="683.7" width="11.2" height="8.9" fill="url(#g2)" stroke="#2f8fd6" stroke-width="1"/>
<rect x="1627.5" y="657.0" width="11.2" height="26.6" fill="url(#g3)" stroke="#1ec0d2" stroke-width="1"/>
<rect x="1643.2" y="683.7" width="11.2" height="26.6" fill="url(#g1)" stroke="#4677c7" stroke-width="1"/>
<rect x="1643.2" y="639.3" width="11.2" height="44.4" fill="url(#g2)" stroke="#2f8fd6" stroke-width="1"/>
<rect x="1643.2" y="577.1" width="11.2" height="62.2" fill="url(#g3)" stroke="#1ec0d2" stroke-width="1"/>
<rect x="1643.2" y="572.7" width="11.2" height="4.4" fill="url(#g4)" stroke="#2ec596" stroke-width="1"/>
<rect x="1659.0" y="665.9" width="11.2" height="44.4" fill="url(#g1)" stroke="#4677c7" stroke-width="1"/>
<rect x="1659.0" y="603.7" width="11.2" height="62.2" fill="url(#g2)" stroke="#2f8fd6" stroke-width="1"/>
<rect x="1659.0" y="541.6" width="11.2" height="62.2" fill="url(#g3)" stroke="#1ec0d2" stroke-width="1"/>
<rect x="1659.0" y="519.4" width="11.2" height="22.2" fill="url(#g4)" stroke="#2ec596" stroke-width="1"/>
<rect x="1674.7" y="683.7" width="11.2" height="26.6" fill="url(#g1)" stroke="#4677c7" stroke-width="1"/>
<rect x="1674.7" y="621.5" width="11.2" height="62.2" fill="url(#g2)" stroke="#2f8fd6" stroke-width="1"/>
<rect x="1674.7" y="559.3" width="11.2" height="62.2" fill="url(#g3)" stroke="#1ec0d2" stroke-width="1"/>
<rect x="1674.7" y="554.9" width="11.2" height="4.4" fill="url(#g4)" stroke="#2ec596" stroke-width="1"/>
<rect x="1690.4" y="665.9" width="11.2" height="44.4" fill="url(#g1)" stroke="#4677c7" stroke-width="1"/>
<rect x="1690.4" y="603.7" width="11.2" height="62.2" fill="url(#g2)" stroke="#2f8fd6" stroke-width="1"/>
<rect x="1690.4" y="541.6" width="11.2" height="62.2" fill="url(#g3)" stroke="#1ec0d2" stroke-width="1"/>
<rect x="1690.4" y="519.4" width="11.2" height="22.2" fill="url(#g4)" stroke="#2ec596" stroke-width="1"/>
<rect x="1706.1" y="683.7" width="11.2" height="26.6" fill="url(#g1)" stroke="#4677c7" stroke-width="1"/>
<rect x="1706.1" y="657.0" width="11.2" height="26.6" fill="url(#g2)" stroke="#2f8fd6" stroke-width="1"/>
<rect x="1706.1" y="630.4" width="11.2" height="26.6" fill="url(#g3)" stroke="#1ec0d2" stroke-width="1"/>
<rect x="1721.8" y="683.7" width="11.2" height="26.6" fill="url(#g1)" stroke="#4677c7" stroke-width="1"/>
<rect x="1721.8" y="639.3" width="11.2" height="44.4" fill="url(#g2)" stroke="#2f8fd6" stroke-width="1"/>
<rect x="1721.8" y="594.9" width="11.2" height="44.4" fill="url(#g3)" stroke="#1ec0d2" stroke-width="1"/>
<text x="1035.8" y="691.1" font-size="7.5" fill="#111" text-anchor="middle" font-weight="bold" >10</text>
<text x="1035.8" y="637.8" font-size="7.5" fill="#111" text-anchor="middle" font-weight="bold" >14</text>
<text x="1035.8" y="575.7" font-size="7.5" fill="#111" text-anchor="middle" font-weight="bold" >14</text>
<text x="1035.8" y="541.9" font-size="6.0" fill="#111" text-anchor="middle" font-weight="bold" >1</text>
<text x="1051.5" y="686.7" font-size="7.5" fill="#111" text-anchor="middle" font-weight="bold" >12</text>
<text x="1051.5" y="628.9" font-size="7.5" fill="#111" text-anchor="middle" font-weight="bold" >14</text>
<text x="1051.5" y="566.8" font-size="7.5" fill="#111" text-anchor="middle" font-weight="bold" >14</text>
<text x="1051.5" y="533.0" font-size="6.0" fill="#111" text-anchor="middle" font-weight="bold" >1</text>
<text x="1067.2" y="713.3" font-size="7.5" fill="#111" text-anchor="middle" font-weight="bold" >0</text>
<text x="1067.2" y="700.0" font-size="7.5" fill="#111" text-anchor="middle" font-weight="bold" >6</text>
<text x="1067.2" y="686.7" font-size="7.5" fill="#111" text-anchor="middle" font-weight="bold" >0</text>
<text x="1082.9" y="713.3" font-size="7.5" fill="#111" text-anchor="middle" font-weight="bold" >0</text>
<text x="1082.9" y="704.4" font-size="7.5" fill="#111" text-anchor="middle" font-weight="bold" >4</text>
<text x="1082.9" y="686.7" font-size="7.5" fill="#111" text-anchor="middle" font-weight="bold" >4</text>
<text x="1082.9" y="668.9" font-size="7.5" fill="#111" text-anchor="middle" font-weight="bold" >4</text>
<text x="1098.6" y="686.7" font-size="7.5" fill="#111" text-anchor="middle" font-weight="bold" >12</text>
<text x="1098.6" y="624.5" font-size="7.5" fill="#111" text-anchor="middle" font-weight="bold" >16</text>
<text x="1098.6" y="553.5" font-size="7.5" fill="#111" text-anchor="middle" font-weight="bold" >16</text>
<text x="1098.6" y="506.8" font-size="7.5" fill="#111" text-anchor="middle" font-weight="bold" >5</text>
<text x="1114.4" y="691.1" font-size="7.5" fill="#111" text-anchor="middle" font-weight="bold" >10</text>
<text x="1114.4" y="633.4" font-size="7.5" fill="#111" text-anchor="middle" font-weight="bold" >16</text>
<text x="1114.4" y="562.3" font-size="7.5" fill="#111" text-anchor="middle" font-weight="bold" >16</text>
<text x="1114.4" y="517.9" font-size="7.5" fill="#111" text-anchor="middle" font-weight="bold" >4</text>
<text x="1130.1" y="700.0" font-size="7.5" fill="#111" text-anchor="middle" font-weight="bold" >6</text>
<text x="1130.1" y="651.1" font-size="7.5" fill="#111" text-anchor="middle" font-weight="bold" >16</text>
<text x="1130.1" y="584.5" font-size="7.5" fill="#111" text-anchor="middle" font-weight="bold" >14</text>
<text x="1130.1" y="550.7" font-size="6.0" fill="#111" text-anchor="middle" font-weight="bold" >1</text>
<text x="1145.8" y="700.0" font-size="7.5" fill="#111" text-anchor="middle" font-weight="bold" >6</text>
<text x="1145.8" y="651.1" font-size="7.5" fill="#111" text-anchor="middle" font-weight="bold" >16</text>
<text x="1145.8" y="584.5" font-size="7.5" fill="#111" text-anchor="middle" font-weight="bold" >14</text>
<text x="1145.8" y="546.8" font-size="7.5" fill="#111" text-anchor="middle" font-weight="bold" >3</text>
<text x="1161.5" y="700.0" font-size="7.5" fill="#111" text-anchor="middle" font-weight="bold" >6</text>
<text x="1161.5" y="664.5" font-size="7.5" fill="#111" text-anchor="middle" font-weight="bold" >10</text>
<text x="1161.5" y="620.1" font-size="7.5" fill="#111" text-anchor="middle" font-weight="bold" >10</text>
<text x="1161.5" y="595.1" font-size="6.0" fill="#111" text-anchor="middle" font-weight="bold" >1</text>
<text x="1177.2" y="691.1" font-size="7.5" fill="#111" text-anchor="middle" font-weight="bold" >10</text>
<text x="1177.2" y="637.8" font-size="7.5" fill="#111" text-anchor="middle" font-weight="bold" >14</text>
<text x="1177.2" y="575.7" font-size="7.5" fill="#111" text-anchor="middle" font-weight="bold" >14</text>
<text x="1177.2" y="533.5" font-size="7.5" fill="#111" text-anchor="middle" font-weight="bold" >5</text>
<text x="1193.0" y="691.1" font-size="7.5" fill="#111" text-anchor="middle" font-weight="bold" >10</text>
<text x="1193.0" y="637.8" font-size="7.5" fill="#111" text-anchor="middle" font-weight="bold" >14</text>
<text x="1193.0" y="589.0" font-size="7.5" fill="#111" text-anchor="middle" font-weight="bold" >8</text>
<text x="1193.0" y="560.1" font-size="7.5" fill="#111" text-anchor="middle" font-weight="bold" >5</text>
<text x="1208.7" y="691.1" font-size="7.5" fill="#111" text-anchor="middle" font-weight="bold" >10</text>
<text x="1208.7" y="633.4" font-size="7.5" fill="#111" text-anchor="middle" font-weight="bold" >16</text>
<text x="1208.7" y="566.8" font-size="7.5" fill="#111" text-anchor="middle" font-weight="bold" >14</text>
<text x="1208.7" y="524.6" font-size="7.5" fill="#111" text-anchor="middle" font-weight="bold" >5</text>
<text x="1224.4" y="691.1" font-size="7.5" fill="#111" text-anchor="middle" font-weight="bold" >10</text>
<text x="1224.4" y="637.8" font-size="7.5" fill="#111" text-anchor="middle" font-weight="bold" >14</text>
<text x="1224.4" y="589.0" font-size="7.5" fill="#111" text-anchor="middle" font-weight="bold" >8</text>
<text x="1224.4" y="560.1" font-size="7.5" fill="#111" text-anchor="middle" font-weight="bold" >5</text>
<text x="1240.1" y="700.0" font-size="7.5" fill="#111" text-anchor="middle" font-weight="bold" >6</text>
<text x="1240.1" y="664.5" font-size="7.5" fill="#111" text-anchor="middle" font-weight="bold" >10</text>
<text x="1240.1" y="620.1" font-size="7.5" fill="#111" text-anchor="middle" font-weight="bold" >10</text>
<text x="1240.1" y="589.0" font-size="7.5" fill="#111" text-anchor="middle" font-weight="bold" >4</text>
<text x="1255.8" y="684.4" font-size="7.5" fill="#111" text-anchor="middle" font-weight="bold" >13</text>
<text x="1255.8" y="624.5" font-size="7.5" fill="#111" text-anchor="middle" font-weight="bold" >14</text>
<text x="1255.8" y="562.3" font-size="7.5" fill="#111" text-anchor="middle" font-weight="bold" >14</text>
<text x="1255.8" y="522.4" font-size="7.5" fill="#111" text-anchor="middle" font-weight="bold" >4</text>
<text x="1271.6" y="700.0" font-size="7.5" fill="#111" text-anchor="middle" font-weight="bold" >6</text>
<text x="1271.6" y="660.0" font-size="7.5" fill="#111" text-anchor="middle" font-weight="bold" >12</text>
<text x="1271.6" y="606.7" font-size="7.5" fill="#111" text-anchor="middle" font-weight="bold" >12</text>
<text x="1271.6" y="580.1" font-size="7.5" fill="#111" text-anchor="middle" font-weight="bold" >0</text>
<text x="1287.3" y="691.1" font-size="7.5" fill="#111" text-anchor="middle" font-weight="bold" >10</text>
<text x="1287.3" y="637.8" font-size="7.5" fill="#111" text-anchor="middle" font-weight="bold" >14</text>
<text x="1287.3" y="575.7" font-size="7.5" fill="#111" text-anchor="middle" font-weight="bold" >14</text>
<text x="1287.3" y="541.9" font-size="6.0" fill="#111" text-anchor="middle" font-weight="bold" >1</text>
<text x="1303.0" y="691.1" font-size="7.5" fill="#111" text-anchor="middle" font-weight="bold" >10</text>
<text x="1303.0" y="637.8" font-size="7.5" fill="#111" text-anchor="middle" font-weight="bold" >14</text>
<text x="1303.0" y="575.7" font-size="7.5" fill="#111" text-anchor="middle" font-weight="bold" >14</text>
<text x="1303.0" y="533.5" font-size="7.5" fill="#111" text-anchor="middle" font-weight="bold" >5</text>
<text x="1318.7" y="691.1" font-size="7.5" fill="#111" text-anchor="middle" font-weight="bold" >10</text>
<text x="1318.7" y="637.8" font-size="7.5" fill="#111" text-anchor="middle" font-weight="bold" >14</text>
<text x="1318.7" y="575.7" font-size="7.5" fill="#111" text-anchor="middle" font-weight="bold" >14</text>
<text x="1318.7" y="533.5" font-size="7.5" fill="#111" text-anchor="middle" font-weight="bold" >5</text>
<text x="1334.4" y="691.1" font-size="7.5" fill="#111" text-anchor="middle" font-weight="bold" >10</text>
<text x="1334.4" y="646.7" font-size="7.5" fill="#111" text-anchor="middle" font-weight="bold" >10</text>
<text x="1334.4" y="602.3" font-size="7.5" fill="#111" text-anchor="middle" font-weight="bold" >10</text>
<text x="1334.4" y="569.0" font-size="7.5" fill="#111" text-anchor="middle" font-weight="bold" >5</text>
<text x="1350.2" y="691.1" font-size="7.5" fill="#111" text-anchor="middle" font-weight="bold" >10</text>
<text x="1350.2" y="637.8" font-size="7.5" fill="#111" text-anchor="middle" font-weight="bold" >14</text>
<text x="1350.2" y="575.7" font-size="7.5" fill="#111" text-anchor="middle" font-weight="bold" >14</text>
<text x="1350.2" y="544.6" font-size="7.5" fill="#111" text-anchor="middle" font-weight="bold" >0</text>
<text x="1365.9" y="697.8" font-size="7.5" fill="#111" text-anchor="middle" font-weight="bold" >7</text>
<text x="1365.9" y="664.5" font-size="7.5" fill="#111" text-anchor="middle" font-weight="bold" >8</text>
<text x="1365.9" y="628.9" font-size="7.5" fill="#111" text-anchor="middle" font-weight="bold" >8</text>
<text x="1365.9" y="602.3" font-size="7.5" fill="#111" text-anchor="middle" font-weight="bold" >4</text>
<text x="1381.6" y="691.1" font-size="7.5" fill="#111" text-anchor="middle" font-weight="bold" >10</text>
<text x="1381.6" y="637.8" font-size="7.5" fill="#111" text-anchor="middle" font-weight="bold" >14</text>
<text x="1381.6" y="589.0" font-size="7.5" fill="#111" text-anchor="middle" font-weight="bold" >8</text>
<text x="1381.6" y="560.1" font-size="7.5" fill="#111" text-anchor="middle" font-weight="bold" >5</text>
<text x="1397.3" y="691.1" font-size="7.5" fill="#111" text-anchor="middle" font-weight="bold" >10</text>
<text x="1397.3" y="646.7" font-size="7.5" fill="#111" text-anchor="middle" font-weight="bold" >10</text>
<text x="1397.3" y="602.3" font-size="7.5" fill="#111" text-anchor="middle" font-weight="bold" >10</text>
<text x="1397.3" y="571.2" font-size="7.5" fill="#111" text-anchor="middle" font-weight="bold" >4</text>
<text x="1413.0" y="682.2" font-size="7.5" fill="#111" text-anchor="middle" font-weight="bold" >14</text>
<text x="1413.0" y="620.1" font-size="7.5" fill="#111" text-anchor="middle" font-weight="bold" >14</text>
<text x="1413.0" y="557.9" font-size="7.5" fill="#111" text-anchor="middle" font-weight="bold" >14</text>
<text x="1413.0" y="515.7" font-size="7.5" fill="#111" text-anchor="middle" font-weight="bold" >5</text>
<text x="1428.8" y="691.1" font-size="7.5" fill="#111" text-anchor="middle" font-weight="bold" >10</text>
<text x="1428.8" y="646.7" font-size="7.5" fill="#111" text-anchor="middle" font-weight="bold" >10</text>
<text x="1428.8" y="602.3" font-size="7.5" fill="#111" text-anchor="middle" font-weight="bold" >10</text>
<text x="1428.8" y="569.0" font-size="7.5" fill="#111" text-anchor="middle" font-weight="bold" >5</text>
<text x="1444.5" y="691.1" font-size="7.5" fill="#111" text-anchor="middle" font-weight="bold" >10</text>
<text x="1444.5" y="646.7" font-size="7.5" fill="#111" text-anchor="middle" font-weight="bold" >10</text>
<text x="1444.5" y="602.3" font-size="7.5" fill="#111" text-anchor="middle" font-weight="bold" >10</text>
<text x="1444.5" y="571.2" font-size="7.5" fill="#111" text-anchor="middle" font-weight="bold" >4</text>
<text x="1460.2" y="691.1" font-size="7.5" fill="#111" text-anchor="middle" font-weight="bold" >10</text>
<text x="1460.2" y="637.8" font-size="7.5" fill="#111" text-anchor="middle" font-weight="bold" >14</text>
<text x="1460.2" y="575.7" font-size="7.5" fill="#111" text-anchor="middle" font-weight="bold" >14</text>
<text x="1460.2" y="535.7" font-size="7.5" fill="#111" text-anchor="middle" font-weight="bold" >4</text>
<text x="1475.9" y="691.1" font-size="7.5" fill="#111" text-anchor="middle" font-weight="bold" >10</text>
<text x="1475.9" y="637.8" font-size="7.5" fill="#111" text-anchor="middle" font-weight="bold" >14</text>
<text x="1475.9" y="589.0" font-size="7.5" fill="#111" text-anchor="middle" font-weight="bold" >8</text>
<text x="1475.9" y="560.1" font-size="7.5" fill="#111" text-anchor="middle" font-weight="bold" >5</text>
<text x="1491.6" y="695.5" font-size="7.5" fill="#111" text-anchor="middle" font-weight="bold" >8</text>
<text x="1491.6" y="662.2" font-size="7.5" fill="#111" text-anchor="middle" font-weight="bold" >7</text>
<text x="1491.6" y="631.2" font-size="7.5" fill="#111" text-anchor="middle" font-weight="bold" >7</text>
<text x="1491.6" y="606.7" font-size="7.5" fill="#111" text-anchor="middle" font-weight="bold" >4</text>
<text x="1507.4" y="700.0" font-size="7.5" fill="#111" text-anchor="middle" font-weight="bold" >6</text>
<text x="1507.4" y="664.5" font-size="7.5" fill="#111" text-anchor="middle" font-weight="bold" >10</text>
<text x="1507.4" y="620.1" font-size="7.5" fill="#111" text-anchor="middle" font-weight="bold" >10</text>
<text x="1507.4" y="591.2" font-size="7.5" fill="#111" text-anchor="middle" font-weight="bold" >3</text>
<text x="1523.1" y="700.0" font-size="7.5" fill="#111" text-anchor="middle" font-weight="bold" >6</text>
<text x="1523.1" y="664.5" font-size="7.5" fill="#111" text-anchor="middle" font-weight="bold" >10</text>
<text x="1523.1" y="620.1" font-size="7.5" fill="#111" text-anchor="middle" font-weight="bold" >10</text>
<text x="1523.1" y="591.2" font-size="7.5" fill="#111" text-anchor="middle" font-weight="bold" >3</text>
<text x="1538.8" y="700.0" font-size="7.5" fill="#111" text-anchor="middle" font-weight="bold" >6</text>
<text x="1538.8" y="673.3" font-size="7.5" fill="#111" text-anchor="middle" font-weight="bold" >6</text>
<text x="1538.8" y="660.0" font-size="7.5" fill="#111" text-anchor="middle" font-weight="bold" >0</text>
<text x="1554.5" y="691.1" font-size="7.5" fill="#111" text-anchor="middle" font-weight="bold" >10</text>
<text x="1554.5" y="637.8" font-size="7.5" fill="#111" text-anchor="middle" font-weight="bold" >14</text>
<text x="1554.5" y="584.5" font-size="7.5" fill="#111" text-anchor="middle" font-weight="bold" >10</text>
<text x="1554.5" y="551.2" font-size="7.5" fill="#111" text-anchor="middle" font-weight="bold" >5</text>
<text x="1570.2" y="700.0" font-size="7.5" fill="#111" text-anchor="middle" font-weight="bold" >6</text>
<text x="1570.2" y="660.0" font-size="7.5" fill="#111" text-anchor="middle" font-weight="bold" >12</text>
<text x="1570.2" y="611.2" font-size="7.5" fill="#111" text-anchor="middle" font-weight="bold" >10</text>
<text x="1570.2" y="589.0" font-size="7.5" fill="#111" text-anchor="middle" font-weight="bold" >0</text>
<text x="1586.0" y="691.1" font-size="7.5" fill="#111" text-anchor="middle" font-weight="bold" >10</text>
<text x="1586.0" y="637.8" font-size="7.5" fill="#111" text-anchor="middle" font-weight="bold" >14</text>
<text x="1586.0" y="584.5" font-size="7.5" fill="#111" text-anchor="middle" font-weight="bold" >10</text>
<text x="1586.0" y="553.5" font-size="7.5" fill="#111" text-anchor="middle" font-weight="bold" >4</text>
<text x="1601.7" y="691.1" font-size="7.5" fill="#111" text-anchor="middle" font-weight="bold" >10</text>
<text x="1601.7" y="637.8" font-size="7.5" fill="#111" text-anchor="middle" font-weight="bold" >14</text>
<text x="1601.7" y="575.7" font-size="7.5" fill="#111" text-anchor="middle" font-weight="bold" >14</text>
<text x="1601.7" y="533.5" font-size="7.5" fill="#111" text-anchor="middle" font-weight="bold" >5</text>
<text x="1617.4" y="700.0" font-size="7.5" fill="#111" text-anchor="middle" font-weight="bold" >6</text>
<text x="1617.4" y="673.3" font-size="7.5" fill="#111" text-anchor="middle" font-weight="bold" >6</text>
<text x="1617.4" y="637.8" font-size="7.5" fill="#111" text-anchor="middle" font-weight="bold" >10</text>
<text x="1617.4" y="606.7" font-size="7.5" fill="#111" text-anchor="middle" font-weight="bold" >4</text>
<text x="1633.1" y="704.4" font-size="7.5" fill="#111" text-anchor="middle" font-weight="bold" >4</text>
<text x="1633.1" y="691.1" font-size="7.5" fill="#111" text-anchor="middle" font-weight="bold" >2</text>
<text x="1633.1" y="673.3" font-size="7.5" fill="#111" text-anchor="middle" font-weight="bold" >6</text>
<text x="1633.1" y="660.0" font-size="7.5" fill="#111" text-anchor="middle" font-weight="bold" >0</text>
<text x="1648.8" y="700.0" font-size="7.5" fill="#111" text-anchor="middle" font-weight="bold" >6</text>
<text x="1648.8" y="664.5" font-size="7.5" fill="#111" text-anchor="middle" font-weight="bold" >10</text>
<text x="1648.8" y="611.2" font-size="7.5" fill="#111" text-anchor="middle" font-weight="bold" >14</text>
<text x="1648.8" y="577.4" font-size="6.0" fill="#111" text-anchor="middle" font-weight="bold" >1</text>
<text x="1664.6" y="691.1" font-size="7.5" fill="#111" text-anchor="middle" font-weight="bold" >10</text>
<text x="1664.6" y="637.8" font-size="7.5" fill="#111" text-anchor="middle" font-weight="bold" >14</text>
<text x="1664.6" y="575.7" font-size="7.5" fill="#111" text-anchor="middle" font-weight="bold" >14</text>
<text x="1664.6" y="533.5" font-size="7.5" fill="#111" text-anchor="middle" font-weight="bold" >5</text>
<text x="1680.3" y="700.0" font-size="7.5" fill="#111" text-anchor="middle" font-weight="bold" >6</text>
<text x="1680.3" y="655.6" font-size="7.5" fill="#111" text-anchor="middle" font-weight="bold" >14</text>
<text x="1680.3" y="593.4" font-size="7.5" fill="#111" text-anchor="middle" font-weight="bold" >14</text>
<text x="1680.3" y="559.6" font-size="6.0" fill="#111" text-anchor="middle" font-weight="bold" >1</text>
<text x="1696.0" y="691.1" font-size="7.5" fill="#111" text-anchor="middle" font-weight="bold" >10</text>
<text x="1696.0" y="637.8" font-size="7.5" fill="#111" text-anchor="middle" font-weight="bold" >14</text>
<text x="1696.0" y="575.7" font-size="7.5" fill="#111" text-anchor="middle" font-weight="bold" >14</text>
<text x="1696.0" y="533.5" font-size="7.5" fill="#111" text-anchor="middle" font-weight="bold" >5</text>
<text x="1711.7" y="700.0" font-size="7.5" fill="#111" text-anchor="middle" font-weight="bold" >6</text>
<text x="1711.7" y="673.3" font-size="7.5" fill="#111" text-anchor="middle" font-weight="bold" >6</text>
<text x="1711.7" y="646.7" font-size="7.5" fill="#111" text-anchor="middle" font-weight="bold" >6</text>
<text x="1711.7" y="633.4" font-size="7.5" fill="#111" text-anchor="middle" font-weight="bold" >0</text>
<text x="1727.4" y="700.0" font-size="7.5" fill="#111" text-anchor="middle" font-weight="bold" >6</text>
<text x="1727.4" y="664.5" font-size="7.5" fill="#111" text-anchor="middle" font-weight="bold" >10</text>
<text x="1727.4" y="620.1" font-size="7.5" fill="#111" text-anchor="middle" font-weight="bold" >10</text>
<text x="1727.4" y="597.9" font-size="7.5" fill="#111" text-anchor="middle" font-weight="bold" >0</text>
<text x="1038.8" y="716.3" font-size="8" fill="#111" text-anchor="end" font-weight="bold" textLength="42.0" lengthAdjust="spacingAndGlyphs" transform="rotate(-90 1038.8 716.3)">ابراهيم التميمي</text>
<text x="1054.5" y="716.3" font-size="8" fill="#111" text-anchor="end" font-weight="bold" textLength="42.0" lengthAdjust="spacingAndGlyphs" transform="rotate(-90 1054.5 716.3)">ابراهيم المطيري</text>
<text x="1070.2" y="716.3" font-size="8" fill="#111" text-anchor="end" font-weight="bold" textLength="31.9" lengthAdjust="spacingAndGlyphs" transform="rotate(-90 1070.2 716.3)">أشواق ناصر</text>
<text x="1085.9" y="716.3" font-size="8" fill="#111" text-anchor="end" font-weight="bold" textLength="39.1" lengthAdjust="spacingAndGlyphs" transform="rotate(-90 1085.9 716.3)">افراح الرشيدي</text>
<text x="1101.6" y="716.3" font-size="8" fill="#111" text-anchor="end" font-weight="bold" textLength="40.7" lengthAdjust="spacingAndGlyphs" transform="rotate(-90 1101.6 716.3)">الجوهره العنزي</text>
<text x="1117.4" y="716.3" font-size="8" fill="#111" text-anchor="end" font-weight="bold" textLength="36.3" lengthAdjust="spacingAndGlyphs" transform="rotate(-90 1117.4 716.3)">انتصار العنزي</text>
<text x="1133.1" y="716.3" font-size="8" fill="#111" text-anchor="end" font-weight="bold" textLength="25.3" lengthAdjust="spacingAndGlyphs" transform="rotate(-90 1133.1 716.3)">بسام نيار</text>
<text x="1148.8" y="716.3" font-size="8" fill="#111" text-anchor="end" font-weight="bold" textLength="41.2" lengthAdjust="spacingAndGlyphs" transform="rotate(-90 1148.8 716.3)">حزام القحطاني</text>
<text x="1164.5" y="716.3" font-size="8" fill="#111" text-anchor="end" font-weight="bold" textLength="39.6" lengthAdjust="spacingAndGlyphs" transform="rotate(-90 1164.5 716.3)">حمد القحطاني</text>
<text x="1180.2" y="716.3" font-size="8" fill="#111" text-anchor="end" font-weight="bold" textLength="35.2" lengthAdjust="spacingAndGlyphs" transform="rotate(-90 1180.2 716.3)">خالد الشعلان</text>
<text x="1196.0" y="716.3" font-size="8" fill="#111" text-anchor="end" font-weight="bold" textLength="27.5" lengthAdjust="spacingAndGlyphs" transform="rotate(-90 1196.0 716.3)">خالد شاكر</text>
<text x="1211.7" y="716.3" font-size="8" fill="#111" text-anchor="end" font-weight="bold" textLength="33.6" lengthAdjust="spacingAndGlyphs" transform="rotate(-90 1211.7 716.3)">خلود البياعي</text>
<text x="1227.4" y="716.3" font-size="8" fill="#111" text-anchor="end" font-weight="bold" textLength="40.7" lengthAdjust="spacingAndGlyphs" transform="rotate(-90 1227.4 716.3)">خلود القحطاني</text>
<text x="1243.1" y="716.3" font-size="8" fill="#111" text-anchor="end" font-weight="bold" textLength="30.8" lengthAdjust="spacingAndGlyphs" transform="rotate(-90 1243.1 716.3)">ريم العتيبي</text>
<text x="1258.8" y="716.3" font-size="8" fill="#111" text-anchor="end" font-weight="bold" textLength="35.2" lengthAdjust="spacingAndGlyphs" transform="rotate(-90 1258.8 716.3)">سحر الحارثي</text>
<text x="1274.6" y="716.3" font-size="8" fill="#111" text-anchor="end" font-weight="bold" textLength="35.2" lengthAdjust="spacingAndGlyphs" transform="rotate(-90 1274.6 716.3)">سعد الشهري</text>
<text x="1290.3" y="716.3" font-size="8" fill="#111" text-anchor="end" font-weight="bold" textLength="37.4" lengthAdjust="spacingAndGlyphs" transform="rotate(-90 1290.3 716.3)">سعد الصاعدي</text>
<text x="1306.0" y="716.3" font-size="8" fill="#111" text-anchor="end" font-weight="bold" textLength="40.7" lengthAdjust="spacingAndGlyphs" transform="rotate(-90 1306.0 716.3)">سعود العصيمي</text>
<text x="1321.7" y="716.3" font-size="8" fill="#111" text-anchor="end" font-weight="bold" textLength="41.8" lengthAdjust="spacingAndGlyphs" transform="rotate(-90 1321.7 716.3)">سعيد الشهراني</text>
<text x="1337.4" y="716.3" font-size="8" fill="#111" text-anchor="end" font-weight="bold" textLength="35.8" lengthAdjust="spacingAndGlyphs" transform="rotate(-90 1337.4 716.3)">شاهر العتيبي</text>
<text x="1353.2" y="716.3" font-size="8" fill="#111" text-anchor="end" font-weight="bold" textLength="36.3" lengthAdjust="spacingAndGlyphs" transform="rotate(-90 1353.2 716.3)">عايض الاكلبي</text>
<text x="1368.9" y="716.3" font-size="8" fill="#111" text-anchor="end" font-weight="bold" textLength="42.0" lengthAdjust="spacingAndGlyphs" transform="rotate(-90 1368.9 716.3)">عبد العزيز الحربي</text>
<text x="1384.6" y="716.3" font-size="8" fill="#111" text-anchor="end" font-weight="bold" textLength="34.1" lengthAdjust="spacingAndGlyphs" transform="rotate(-90 1384.6 716.3)">عبير القاضي</text>
<text x="1400.3" y="716.3" font-size="8" fill="#111" text-anchor="end" font-weight="bold" textLength="33.6" lengthAdjust="spacingAndGlyphs" transform="rotate(-90 1400.3 716.3)">علي عبد الله</text>
<text x="1416.0" y="716.3" font-size="8" fill="#111" text-anchor="end" font-weight="bold" textLength="31.9" lengthAdjust="spacingAndGlyphs" transform="rotate(-90 1416.0 716.3)">عناد العتيبي</text>
<text x="1431.8" y="716.3" font-size="8" fill="#111" text-anchor="end" font-weight="bold" textLength="30.3" lengthAdjust="spacingAndGlyphs" transform="rotate(-90 1431.8 716.3)">عيد العتيبي</text>
<text x="1447.5" y="716.3" font-size="8" fill="#111" text-anchor="end" font-weight="bold" textLength="31.9" lengthAdjust="spacingAndGlyphs" transform="rotate(-90 1447.5 716.3)">غنيم العنزي</text>
<text x="1463.2" y="716.3" font-size="8" fill="#111" text-anchor="end" font-weight="bold" textLength="37.4" lengthAdjust="spacingAndGlyphs" transform="rotate(-90 1463.2 716.3)">فرحان العنزي</text>
<text x="1478.9" y="716.3" font-size="8" fill="#111" text-anchor="end" font-weight="bold" textLength="36.9" lengthAdjust="spacingAndGlyphs" transform="rotate(-90 1478.9 716.3)">فهد الدوسري</text>
<text x="1494.6" y="716.3" font-size="8" fill="#111" text-anchor="end" font-weight="bold" textLength="38.5" lengthAdjust="spacingAndGlyphs" transform="rotate(-90 1494.6 716.3)">فهد الطويلعي</text>
<text x="1510.4" y="716.3" font-size="8" fill="#111" text-anchor="end" font-weight="bold" textLength="33.0" lengthAdjust="spacingAndGlyphs" transform="rotate(-90 1510.4 716.3)">فهد العثمان</text>
<text x="1526.1" y="716.3" font-size="8" fill="#111" text-anchor="end" font-weight="bold" textLength="30.3" lengthAdjust="spacingAndGlyphs" transform="rotate(-90 1526.1 716.3)">فهد العنزي</text>
<text x="1541.8" y="716.3" font-size="8" fill="#111" text-anchor="end" font-weight="bold" textLength="36.3" lengthAdjust="spacingAndGlyphs" transform="rotate(-90 1541.8 716.3)">فهد المطيري</text>
<text x="1557.5" y="716.3" font-size="8" fill="#111" text-anchor="end" font-weight="bold" textLength="37.4" lengthAdjust="spacingAndGlyphs" transform="rotate(-90 1557.5 716.3)">فيصل العتيبي</text>
<text x="1573.2" y="716.3" font-size="8" fill="#111" text-anchor="end" font-weight="bold" textLength="34.7" lengthAdjust="spacingAndGlyphs" transform="rotate(-90 1573.2 716.3)">قيس العتيبي</text>
<text x="1589.0" y="716.3" font-size="8" fill="#111" text-anchor="end" font-weight="bold" textLength="41.8" lengthAdjust="spacingAndGlyphs" transform="rotate(-90 1589.0 716.3)">لطيفة الرشيدي</text>
<text x="1604.7" y="716.3" font-size="8" fill="#111" text-anchor="end" font-weight="bold" textLength="34.1" lengthAdjust="spacingAndGlyphs" transform="rotate(-90 1604.7 716.3)">محسن البكار</text>
<text x="1620.4" y="716.3" font-size="8" fill="#111" text-anchor="end" font-weight="bold" textLength="37.4" lengthAdjust="spacingAndGlyphs" transform="rotate(-90 1620.4 716.3)">مرام المطيري</text>
<text x="1636.1" y="716.3" font-size="8" fill="#111" text-anchor="end" font-weight="bold" textLength="34.1" lengthAdjust="spacingAndGlyphs" transform="rotate(-90 1636.1 716.3)">منى الشريف</text>
<text x="1651.8" y="716.3" font-size="8" fill="#111" text-anchor="end" font-weight="bold" textLength="38.5" lengthAdjust="spacingAndGlyphs" transform="rotate(-90 1651.8 716.3)">نايف الزهراني</text>
<text x="1667.6" y="716.3" font-size="8" fill="#111" text-anchor="end" font-weight="bold" textLength="39.1" lengthAdjust="spacingAndGlyphs" transform="rotate(-90 1667.6 716.3)">نايف العصيمي</text>
<text x="1683.3" y="716.3" font-size="8" fill="#111" text-anchor="end" font-weight="bold" textLength="35.2" lengthAdjust="spacingAndGlyphs" transform="rotate(-90 1683.3 716.3)">نايف الرقاص</text>
<text x="1699.0" y="716.3" font-size="8" fill="#111" text-anchor="end" font-weight="bold" textLength="38.5" lengthAdjust="spacingAndGlyphs" transform="rotate(-90 1699.0 716.3)">هاني الاسمري</text>
<text x="1714.7" y="716.3" font-size="8" fill="#111" text-anchor="end" font-weight="bold" textLength="35.2" lengthAdjust="spacingAndGlyphs" transform="rotate(-90 1714.7 716.3)">هند المغامس</text>
<text x="1730.4" y="716.3" font-size="8" fill="#111" text-anchor="end" font-weight="bold" textLength="31.9" lengthAdjust="spacingAndGlyphs" transform="rotate(-90 1730.4 716.3)">وليد العتيبي</text>
<text x="1746.2" y="716.3" font-size="8" fill="#111" text-anchor="end" font-weight="bold" textLength="30.0" lengthAdjust="spacingAndGlyphs" transform="rotate(-90 1746.2 716.3)">(blank)</text>
<rect x="1727" y="470" width="62.4" height="7.4" fill="url(#btn)"/>
<path d="M1733,472 h5 l-2.5,3 z" fill="#333"/>
<text x="1785.0" y="476.0" font-size="6" fill="#444" text-anchor="end" font-weight="normal" textLength="18" lengthAdjust="spacingAndGlyphs" >الأسابيع</text>
<rect x="1731" y="486.6" width="6" height="6" fill="#cfeccf" stroke="#6cc46c" stroke-width="0.9"/>
<text x="1740.5" y="493.1" font-size="10.5" fill="#595959" text-anchor="start" font-weight="normal" textLength="34.4" lengthAdjust="spacingAndGlyphs" direction="ltr">(blank)</text>
<rect x="1731" y="503.45000000000005" width="6" height="6" fill="url(#g4)" stroke="#2ec596" stroke-width="0.9"/>
<text x="1740.5" y="510.0" font-size="10.5" fill="#595959" text-anchor="start" font-weight="normal" textLength="48" lengthAdjust="spacingAndGlyphs" direction="ltr">الأسبوع الرابع</text>
<rect x="1731" y="520.3000000000001" width="6" height="6" fill="url(#g3)" stroke="#1ec0d2" stroke-width="0.9"/>
<text x="1740.5" y="526.8" font-size="10.5" fill="#595959" text-anchor="start" font-weight="normal" textLength="48" lengthAdjust="spacingAndGlyphs" direction="ltr">الأسبوع الثالث</text>
<rect x="1731" y="537.15" width="6" height="6" fill="url(#g2)" stroke="#2f8fd6" stroke-width="0.9"/>
<text x="1740.5" y="543.6" font-size="10.5" fill="#595959" text-anchor="start" font-weight="normal" textLength="48" lengthAdjust="spacingAndGlyphs" direction="ltr">الأسبوع الثاني</text>
<rect x="1731" y="554.0" width="6" height="6" fill="url(#g1)" stroke="#4677c7" stroke-width="0.9"/>
<text x="1740.5" y="560.5" font-size="10.5" fill="#595959" text-anchor="start" font-weight="normal" textLength="48" lengthAdjust="spacingAndGlyphs" direction="ltr">الأسبوع الأول</text>
<rect x="966.3" y="745" width="47.60000000000002" height="8.600000000000023" fill="url(#btn)"/>
<path d="M972.3,747.8 h5 l-2.5,3 z" fill="#333"/>
<text x="1009.9" y="751.3" font-size="6" fill="#444" text-anchor="end" font-weight="normal" textLength="21.420000000000012" lengthAdjust="spacingAndGlyphs" >اسم الموظف</text>
<rect x="1823.4" y="0" width="2.6" height="775" fill="#e8e8e8"/><rect x="1823.4" y="0" width="0.9" height="775" fill="#a8a8a8"/>
<rect x="1824" y="4.0" width="2" height="0.7" fill="#b8b8b8"/>
<rect x="1824" y="17.1" width="2" height="0.7" fill="#b8b8b8"/>
<rect x="1824" y="30.2" width="2" height="0.7" fill="#b8b8b8"/>
<rect x="1824" y="43.3" width="2" height="0.7" fill="#b8b8b8"/>
<rect x="1824" y="56.4" width="2" height="0.7" fill="#b8b8b8"/>
<rect x="1824" y="69.5" width="2" height="0.7" fill="#b8b8b8"/>
<rect x="1824" y="82.6" width="2" height="0.7" fill="#b8b8b8"/>
<rect x="1824" y="95.7" width="2" height="0.7" fill="#b8b8b8"/>
<rect x="1824" y="108.8" width="2" height="0.7" fill="#b8b8b8"/>
<rect x="1824" y="121.9" width="2" height="0.7" fill="#b8b8b8"/>
<rect x="1824" y="135.0" width="2" height="0.7" fill="#b8b8b8"/>
<rect x="1824" y="148.1" width="2" height="0.7" fill="#b8b8b8"/>
<rect x="1824" y="161.2" width="2" height="0.7" fill="#b8b8b8"/>
<rect x="1824" y="174.3" width="2" height="0.7" fill="#b8b8b8"/>
<rect x="1824" y="187.4" width="2" height="0.7" fill="#b8b8b8"/>
<rect x="1824" y="200.5" width="2" height="0.7" fill="#b8b8b8"/>
<rect x="1824" y="213.6" width="2" height="0.7" fill="#b8b8b8"/>
<rect x="1824" y="226.7" width="2" height="0.7" fill="#b8b8b8"/>
<rect x="1824" y="239.8" width="2" height="0.7" fill="#b8b8b8"/>
<rect x="1824" y="252.9" width="2" height="0.7" fill="#b8b8b8"/>
<rect x="1824" y="266.0" width="2" height="0.7" fill="#b8b8b8"/>
<rect x="1824" y="279.1" width="2" height="0.7" fill="#b8b8b8"/>
<rect x="1824" y="292.2" width="2" height="0.7" fill="#b8b8b8"/>
<rect x="1824" y="305.3" width="2" height="0.7" fill="#b8b8b8"/>
<rect x="1824" y="318.4" width="2" height="0.7" fill="#b8b8b8"/>
<rect x="1824" y="331.5" width="2" height="0.7" fill="#b8b8b8"/>
<rect x="1824" y="344.6" width="2" height="0.7" fill="#b8b8b8"/>
<rect x="1824" y="357.7" width="2" height="0.7" fill="#b8b8b8"/>
<rect x="1824" y="370.8" width="2" height="0.7" fill="#b8b8b8"/>
<rect x="1824" y="383.9" width="2" height="0.7" fill="#b8b8b8"/>
<rect x="1824" y="397.0" width="2" height="0.7" fill="#b8b8b8"/>
<rect x="1824" y="410.1" width="2" height="0.7" fill="#b8b8b8"/>
<rect x="1824" y="423.2" width="2" height="0.7" fill="#b8b8b8"/>
<rect x="1824" y="436.3" width="2" height="0.7" fill="#b8b8b8"/>
<rect x="1824" y="449.4" width="2" height="0.7" fill="#b8b8b8"/>
<rect x="1824" y="462.5" width="2" height="0.7" fill="#b8b8b8"/>
<rect x="1824" y="475.6" width="2" height="0.7" fill="#b8b8b8"/>
<rect x="1824" y="488.7" width="2" height="0.7" fill="#b8b8b8"/>
<rect x="1824" y="501.8" width="2" height="0.7" fill="#b8b8b8"/>
<rect x="1824" y="514.9" width="2" height="0.7" fill="#b8b8b8"/>
<rect x="1824" y="528.0" width="2" height="0.7" fill="#b8b8b8"/>
<rect x="1824" y="541.1" width="2" height="0.7" fill="#b8b8b8"/>
<rect x="1824" y="554.2" width="2" height="0.7" fill="#b8b8b8"/>
<rect x="1824" y="567.3" width="2" height="0.7" fill="#b8b8b8"/>
<rect x="1824" y="580.4" width="2" height="0.7" fill="#b8b8b8"/>
<rect x="1824" y="593.5" width="2" height="0.7" fill="#b8b8b8"/>
<rect x="1824" y="606.6" width="2" height="0.7" fill="#b8b8b8"/>
<rect x="1824" y="619.7" width="2" height="0.7" fill="#b8b8b8"/>
<rect x="1824" y="632.8" width="2" height="0.7" fill="#b8b8b8"/>
<rect x="1824" y="645.9" width="2" height="0.7" fill="#b8b8b8"/>
<rect x="1824" y="659.0" width="2" height="0.7" fill="#b8b8b8"/>
<rect x="1824" y="672.1" width="2" height="0.7" fill="#b8b8b8"/>
<rect x="1824" y="685.2" width="2" height="0.7" fill="#b8b8b8"/>
<rect x="1824" y="698.3" width="2" height="0.7" fill="#b8b8b8"/>
<rect x="1824" y="711.4" width="2" height="0.7" fill="#b8b8b8"/>
<rect x="1824" y="724.5" width="2" height="0.7" fill="#b8b8b8"/>
<rect x="1824" y="737.6" width="2" height="0.7" fill="#b8b8b8"/>
<rect x="1824" y="750.7" width="2" height="0.7" fill="#b8b8b8"/>
<rect x="1824" y="763.8" width="2" height="0.7" fill="#b8b8b8"/>
<rect x="1824.2" y="328" width="1.8" height="14" fill="#4a5a60"/>
</svg></body></html>
